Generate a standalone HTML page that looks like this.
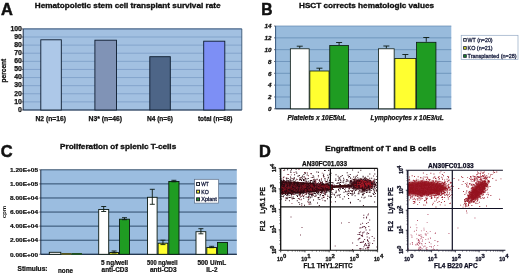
<!DOCTYPE html>
<html><head><meta charset="utf-8"><title>Figure</title>
<style>
html,body{margin:0;padding:0;background:#fff;}
body{width:520px;height:276px;overflow:hidden;font-family:"Liberation Sans",sans-serif;}
svg{display:block;transform:translateZ(0);will-change:transform;filter:blur(0.3px);}
svg text{font-family:"Liberation Sans",sans-serif;}
</style></head><body>
<svg width="520" height="276" viewBox="0 0 520 276">
<rect x="0" y="0" width="520" height="276" fill="#ffffff"/>
<text x="0.9" y="15.2" font-size="16.4" font-weight="bold" font-style="normal" text-anchor="start" fill="#111" stroke="#111" stroke-width="0.5" >A</text>
<text x="34.8" y="7.8" font-size="7.0" font-weight="bold" font-style="normal" text-anchor="start" fill="#111" stroke="#111" stroke-width="0.32" textLength="185.7" lengthAdjust="spacingAndGlyphs" >Hematopoietic stem cell transplant survival rate</text>
<rect x="23.20" y="28.90" width="218.60" height="81.10" fill="#a2c0e1" stroke="none" stroke-width="0" />
<line x1="23.20" y1="28.90" x2="241.80" y2="28.90" stroke="#7598c3" stroke-width="0.7" />
<line x1="21.70" y1="28.90" x2="23.20" y2="28.90" stroke="#223" stroke-width="0.7" />
<text x="21.9" y="30.7" font-size="6.9" font-weight="bold" font-style="normal" text-anchor="end" fill="#111" stroke="#111" stroke-width="0.25" >100</text>
<line x1="23.20" y1="37.01" x2="241.80" y2="37.01" stroke="#7598c3" stroke-width="0.7" />
<line x1="21.70" y1="37.01" x2="23.20" y2="37.01" stroke="#223" stroke-width="0.7" />
<text x="21.9" y="38.809999999999995" font-size="6.9" font-weight="bold" font-style="normal" text-anchor="end" fill="#111" stroke="#111" stroke-width="0.25" >90</text>
<line x1="23.20" y1="45.12" x2="241.80" y2="45.12" stroke="#7598c3" stroke-width="0.7" />
<line x1="21.70" y1="45.12" x2="23.20" y2="45.12" stroke="#223" stroke-width="0.7" />
<text x="21.9" y="46.919999999999995" font-size="6.9" font-weight="bold" font-style="normal" text-anchor="end" fill="#111" stroke="#111" stroke-width="0.25" >80</text>
<line x1="23.20" y1="53.23" x2="241.80" y2="53.23" stroke="#7598c3" stroke-width="0.7" />
<line x1="21.70" y1="53.23" x2="23.20" y2="53.23" stroke="#223" stroke-width="0.7" />
<text x="21.9" y="55.029999999999994" font-size="6.9" font-weight="bold" font-style="normal" text-anchor="end" fill="#111" stroke="#111" stroke-width="0.25" >70</text>
<line x1="23.20" y1="61.34" x2="241.80" y2="61.34" stroke="#7598c3" stroke-width="0.7" />
<line x1="21.70" y1="61.34" x2="23.20" y2="61.34" stroke="#223" stroke-width="0.7" />
<text x="21.9" y="63.13999999999999" font-size="6.9" font-weight="bold" font-style="normal" text-anchor="end" fill="#111" stroke="#111" stroke-width="0.25" >60</text>
<line x1="23.20" y1="69.45" x2="241.80" y2="69.45" stroke="#7598c3" stroke-width="0.7" />
<line x1="21.70" y1="69.45" x2="23.20" y2="69.45" stroke="#223" stroke-width="0.7" />
<text x="21.9" y="71.24999999999999" font-size="6.9" font-weight="bold" font-style="normal" text-anchor="end" fill="#111" stroke="#111" stroke-width="0.25" >50</text>
<line x1="23.20" y1="77.56" x2="241.80" y2="77.56" stroke="#7598c3" stroke-width="0.7" />
<line x1="21.70" y1="77.56" x2="23.20" y2="77.56" stroke="#223" stroke-width="0.7" />
<text x="21.9" y="79.36" font-size="6.9" font-weight="bold" font-style="normal" text-anchor="end" fill="#111" stroke="#111" stroke-width="0.25" >40</text>
<line x1="23.20" y1="85.67" x2="241.80" y2="85.67" stroke="#7598c3" stroke-width="0.7" />
<line x1="21.70" y1="85.67" x2="23.20" y2="85.67" stroke="#223" stroke-width="0.7" />
<text x="21.9" y="87.46999999999998" font-size="6.9" font-weight="bold" font-style="normal" text-anchor="end" fill="#111" stroke="#111" stroke-width="0.25" >30</text>
<line x1="23.20" y1="93.78" x2="241.80" y2="93.78" stroke="#7598c3" stroke-width="0.7" />
<line x1="21.70" y1="93.78" x2="23.20" y2="93.78" stroke="#223" stroke-width="0.7" />
<text x="21.9" y="95.58" font-size="6.9" font-weight="bold" font-style="normal" text-anchor="end" fill="#111" stroke="#111" stroke-width="0.25" >20</text>
<line x1="23.20" y1="101.89" x2="241.80" y2="101.89" stroke="#7598c3" stroke-width="0.7" />
<line x1="21.70" y1="101.89" x2="23.20" y2="101.89" stroke="#223" stroke-width="0.7" />
<text x="21.9" y="103.68999999999998" font-size="6.9" font-weight="bold" font-style="normal" text-anchor="end" fill="#111" stroke="#111" stroke-width="0.25" >10</text>
<line x1="23.20" y1="110.00" x2="241.80" y2="110.00" stroke="#7598c3" stroke-width="0.7" />
<line x1="21.70" y1="110.00" x2="23.20" y2="110.00" stroke="#223" stroke-width="0.7" />
<text x="21.9" y="111.8" font-size="6.9" font-weight="bold" font-style="normal" text-anchor="end" fill="#111" stroke="#111" stroke-width="0.25" >0</text>
<line x1="23.20" y1="28.90" x2="23.20" y2="110.00" stroke="#1a2c44" stroke-width="1" />
<line x1="23.20" y1="110.00" x2="241.80" y2="110.00" stroke="#1a2c44" stroke-width="1" />
<line x1="23.20" y1="28.90" x2="241.80" y2="28.90" stroke="#3a5676" stroke-width="0.9" />
<line x1="241.80" y1="28.90" x2="241.80" y2="110.00" stroke="#3a5676" stroke-width="0.9" />
<rect x="40.80" y="39.80" width="20.50" height="70.20" fill="#adc8e8" stroke="#0d1b2e" stroke-width="0.9" />
<rect x="94.90" y="40.20" width="21.60" height="69.80" fill="#8093b6" stroke="#0d1b2e" stroke-width="0.9" />
<rect x="149.80" y="56.70" width="20.50" height="53.30" fill="#4d6587" stroke="#0d1b2e" stroke-width="0.9" />
<rect x="203.70" y="41.20" width="21.10" height="68.80" fill="#7d8ff5" stroke="#0d1b2e" stroke-width="0.9" />
<text x="50.7" y="120.6" font-size="6.45" font-weight="bold" font-style="normal" text-anchor="middle" fill="#111" stroke="#111" stroke-width="0.25" textLength="30.5" lengthAdjust="spacingAndGlyphs" >N2 (n=16)</text>
<text x="105.3" y="120.8" font-size="6.45" font-weight="bold" font-style="normal" text-anchor="middle" fill="#111" stroke="#111" stroke-width="0.25" textLength="33.5" lengthAdjust="spacingAndGlyphs" >N3* (n=46)</text>
<text x="160" y="120.8" font-size="6.45" font-weight="bold" font-style="normal" text-anchor="middle" fill="#111" stroke="#111" stroke-width="0.25" textLength="26" lengthAdjust="spacingAndGlyphs" >N4 (n=6)</text>
<text x="215.2" y="120.8" font-size="6.45" font-weight="bold" font-style="normal" text-anchor="middle" fill="#111" stroke="#111" stroke-width="0.25" textLength="34.5" lengthAdjust="spacingAndGlyphs" >total (n=68)</text>
<text transform="translate(6.4,70.6) rotate(-90)" font-size="6.6" font-weight="bold" text-anchor="middle" fill="#111" stroke="#111" stroke-width="0.25">percent</text>
<text x="261.2" y="15.0" font-size="15.6" font-weight="bold" font-style="normal" text-anchor="start" fill="#111" stroke="#111" stroke-width="0.5" >B</text>
<text x="299.0" y="7.8" font-size="7.0" font-weight="bold" font-style="normal" text-anchor="start" fill="#111" stroke="#111" stroke-width="0.32" textLength="135" lengthAdjust="spacingAndGlyphs" >HSCT corrects hematologic values</text>
<rect x="275.60" y="26.00" width="175.70" height="82.80" fill="#98bbdc" stroke="none" stroke-width="0" />
<line x1="275.60" y1="26.00" x2="451.30" y2="26.00" stroke="#5f86b0" stroke-width="0.7" />
<line x1="274.10" y1="26.00" x2="275.60" y2="26.00" stroke="#223" stroke-width="0.7" />
<text x="271.40000000000003" y="28.2" font-size="6.25" font-weight="bold" font-style="italic" text-anchor="end" fill="#111" stroke="#111" stroke-width="0.3" >14</text>
<line x1="275.60" y1="37.83" x2="451.30" y2="37.83" stroke="#5f86b0" stroke-width="0.7" />
<line x1="274.10" y1="37.83" x2="275.60" y2="37.83" stroke="#223" stroke-width="0.7" />
<text x="271.40000000000003" y="40.02857142857143" font-size="6.25" font-weight="bold" font-style="italic" text-anchor="end" fill="#111" stroke="#111" stroke-width="0.3" >12</text>
<line x1="275.60" y1="49.66" x2="451.30" y2="49.66" stroke="#5f86b0" stroke-width="0.7" />
<line x1="274.10" y1="49.66" x2="275.60" y2="49.66" stroke="#223" stroke-width="0.7" />
<text x="271.40000000000003" y="51.85714285714286" font-size="6.25" font-weight="bold" font-style="italic" text-anchor="end" fill="#111" stroke="#111" stroke-width="0.3" >10</text>
<line x1="275.60" y1="61.49" x2="451.30" y2="61.49" stroke="#5f86b0" stroke-width="0.7" />
<line x1="274.10" y1="61.49" x2="275.60" y2="61.49" stroke="#223" stroke-width="0.7" />
<text x="271.40000000000003" y="63.68571428571428" font-size="6.25" font-weight="bold" font-style="italic" text-anchor="end" fill="#111" stroke="#111" stroke-width="0.3" >8</text>
<line x1="275.60" y1="73.31" x2="451.30" y2="73.31" stroke="#5f86b0" stroke-width="0.7" />
<line x1="274.10" y1="73.31" x2="275.60" y2="73.31" stroke="#223" stroke-width="0.7" />
<text x="271.40000000000003" y="75.51428571428572" font-size="6.25" font-weight="bold" font-style="italic" text-anchor="end" fill="#111" stroke="#111" stroke-width="0.3" >6</text>
<line x1="275.60" y1="85.14" x2="451.30" y2="85.14" stroke="#5f86b0" stroke-width="0.7" />
<line x1="274.10" y1="85.14" x2="275.60" y2="85.14" stroke="#223" stroke-width="0.7" />
<text x="271.40000000000003" y="87.34285714285714" font-size="6.25" font-weight="bold" font-style="italic" text-anchor="end" fill="#111" stroke="#111" stroke-width="0.3" >4</text>
<line x1="275.60" y1="96.97" x2="451.30" y2="96.97" stroke="#5f86b0" stroke-width="0.7" />
<line x1="274.10" y1="96.97" x2="275.60" y2="96.97" stroke="#223" stroke-width="0.7" />
<text x="271.40000000000003" y="99.17142857142856" font-size="6.25" font-weight="bold" font-style="italic" text-anchor="end" fill="#111" stroke="#111" stroke-width="0.3" >2</text>
<line x1="275.60" y1="108.80" x2="451.30" y2="108.80" stroke="#5f86b0" stroke-width="0.7" />
<line x1="274.10" y1="108.80" x2="275.60" y2="108.80" stroke="#223" stroke-width="0.7" />
<text x="271.40000000000003" y="111.0" font-size="6.25" font-weight="bold" font-style="italic" text-anchor="end" fill="#111" stroke="#111" stroke-width="0.3" >0</text>
<line x1="275.60" y1="26.00" x2="275.60" y2="108.80" stroke="#35557c" stroke-width="1" />
<line x1="275.60" y1="108.80" x2="451.30" y2="108.80" stroke="#1a2c44" stroke-width="1" />
<rect x="290.35" y="48.80" width="18.80" height="60.00" fill="#ffffff" stroke="#0b1a12" stroke-width="0.8" />
<line x1="299.75" y1="48.30" x2="299.75" y2="46.20" stroke="#0b1a12" stroke-width="0.9" />
<line x1="296.75" y1="46.20" x2="302.75" y2="46.20" stroke="#0b1a12" stroke-width="0.9" />
<rect x="309.85" y="71.00" width="19.20" height="37.80" fill="#ffff30" stroke="#0b1a12" stroke-width="0.8" />
<line x1="319.45" y1="70.50" x2="319.45" y2="68.20" stroke="#0b1a12" stroke-width="0.9" />
<line x1="316.45" y1="68.20" x2="322.45" y2="68.20" stroke="#0b1a12" stroke-width="0.9" />
<rect x="329.75" y="45.50" width="18.70" height="63.30" fill="#1f9c22" stroke="#0b1a12" stroke-width="0.8" />
<line x1="339.10" y1="45.00" x2="339.10" y2="42.50" stroke="#0b1a12" stroke-width="0.9" />
<line x1="336.10" y1="42.50" x2="342.10" y2="42.50" stroke="#0b1a12" stroke-width="0.9" />
<rect x="378.55" y="48.80" width="15.60" height="60.00" fill="#ffffff" stroke="#0b1a12" stroke-width="0.8" />
<line x1="386.35" y1="48.30" x2="386.35" y2="46.00" stroke="#0b1a12" stroke-width="0.9" />
<line x1="383.35" y1="46.00" x2="389.35" y2="46.00" stroke="#0b1a12" stroke-width="0.9" />
<rect x="394.85" y="58.50" width="21.00" height="50.30" fill="#ffff30" stroke="#0b1a12" stroke-width="0.8" />
<line x1="405.35" y1="58.00" x2="405.35" y2="54.50" stroke="#0b1a12" stroke-width="0.9" />
<line x1="402.35" y1="54.50" x2="408.35" y2="54.50" stroke="#0b1a12" stroke-width="0.9" />
<rect x="416.55" y="42.30" width="19.40" height="66.50" fill="#1f9c22" stroke="#0b1a12" stroke-width="0.8" />
<line x1="426.25" y1="41.80" x2="426.25" y2="37.50" stroke="#0b1a12" stroke-width="0.9" />
<line x1="423.25" y1="37.50" x2="429.25" y2="37.50" stroke="#0b1a12" stroke-width="0.9" />
<text x="287.5" y="119.8" font-size="6.45" font-weight="bold" font-style="italic" text-anchor="start" fill="#111" stroke="#111" stroke-width="0.25" textLength="58.8" lengthAdjust="spacingAndGlyphs" >Platelets x 10E5/uL</text>
<text x="370.5" y="119.8" font-size="6.45" font-weight="bold" font-style="italic" text-anchor="start" fill="#111" stroke="#111" stroke-width="0.25" textLength="73.2" lengthAdjust="spacingAndGlyphs" >Lymphocytes x 10E3/uL</text>
<rect x="461.20" y="35.30" width="56.80" height="24.20" fill="#ffffff" stroke="#93a8c4" stroke-width="0.7" />
<rect x="463.65" y="38.60" width="2.60" height="2.60" fill="#ffffff" stroke="#141c34" stroke-width="0.9" />
<text x="467.6" y="41.8" font-size="5.5" font-weight="normal" font-style="normal" text-anchor="start" fill="#1a2040" stroke="#1a2040" stroke-width="0.3" textLength="25" lengthAdjust="spacingAndGlyphs" >WT (n=20)</text>
<rect x="463.65" y="46.65" width="2.60" height="2.60" fill="#ffff30" stroke="#141c34" stroke-width="0.9" />
<text x="467.6" y="49.85" font-size="5.5" font-weight="normal" font-style="normal" text-anchor="start" fill="#1a2040" stroke="#1a2040" stroke-width="0.3" textLength="25" lengthAdjust="spacingAndGlyphs" >KO (n=21)</text>
<rect x="463.65" y="54.70" width="2.60" height="2.60" fill="#1f9c22" stroke="#141c34" stroke-width="0.9" />
<text x="467.6" y="57.9" font-size="5.5" font-weight="normal" font-style="normal" text-anchor="start" fill="#1a2040" stroke="#1a2040" stroke-width="0.3" textLength="49" lengthAdjust="spacingAndGlyphs" >Transplanted (n=28)</text>
<text x="0.7" y="157.0" font-size="16.4" font-weight="bold" font-style="normal" text-anchor="start" fill="#111" stroke="#111" stroke-width="0.5" >C</text>
<text x="60" y="149.0" font-size="7.0" font-weight="bold" font-style="normal" text-anchor="start" fill="#111" stroke="#111" stroke-width="0.32" textLength="116.2" lengthAdjust="spacingAndGlyphs" >Proliferation of splenic T-cells</text>
<rect x="40.80" y="169.80" width="196.00" height="84.50" fill="#9bbde0" stroke="none" stroke-width="0" />
<line x1="40.80" y1="169.80" x2="236.80" y2="169.80" stroke="#23405f" stroke-width="0.9" />
<line x1="39.30" y1="169.80" x2="40.80" y2="169.80" stroke="#223" stroke-width="0.7" />
<text x="38.0" y="172.0" font-size="6.2" font-weight="bold" font-style="normal" text-anchor="end" fill="#111" stroke="#111" stroke-width="0.22" textLength="28" lengthAdjust="spacingAndGlyphs" >1.20E+05</text>
<line x1="40.80" y1="183.88" x2="236.80" y2="183.88" stroke="#23405f" stroke-width="0.9" />
<line x1="39.30" y1="183.88" x2="40.80" y2="183.88" stroke="#223" stroke-width="0.7" />
<text x="38.0" y="186.08333333333334" font-size="6.2" font-weight="bold" font-style="normal" text-anchor="end" fill="#111" stroke="#111" stroke-width="0.22" textLength="28" lengthAdjust="spacingAndGlyphs" >1.00E+05</text>
<line x1="40.80" y1="197.97" x2="236.80" y2="197.97" stroke="#23405f" stroke-width="0.9" />
<line x1="39.30" y1="197.97" x2="40.80" y2="197.97" stroke="#223" stroke-width="0.7" />
<text x="38.0" y="200.16666666666666" font-size="6.2" font-weight="bold" font-style="normal" text-anchor="end" fill="#111" stroke="#111" stroke-width="0.22" textLength="28" lengthAdjust="spacingAndGlyphs" >8.00E+04</text>
<line x1="40.80" y1="212.05" x2="236.80" y2="212.05" stroke="#23405f" stroke-width="0.9" />
<line x1="39.30" y1="212.05" x2="40.80" y2="212.05" stroke="#223" stroke-width="0.7" />
<text x="38.0" y="214.25" font-size="6.2" font-weight="bold" font-style="normal" text-anchor="end" fill="#111" stroke="#111" stroke-width="0.22" textLength="28" lengthAdjust="spacingAndGlyphs" >6.00E+04</text>
<line x1="40.80" y1="226.13" x2="236.80" y2="226.13" stroke="#23405f" stroke-width="0.9" />
<line x1="39.30" y1="226.13" x2="40.80" y2="226.13" stroke="#223" stroke-width="0.7" />
<text x="38.0" y="228.33333333333334" font-size="6.2" font-weight="bold" font-style="normal" text-anchor="end" fill="#111" stroke="#111" stroke-width="0.22" textLength="28" lengthAdjust="spacingAndGlyphs" >4.00E+04</text>
<line x1="40.80" y1="240.22" x2="236.80" y2="240.22" stroke="#23405f" stroke-width="0.9" />
<line x1="39.30" y1="240.22" x2="40.80" y2="240.22" stroke="#223" stroke-width="0.7" />
<text x="38.0" y="242.41666666666669" font-size="6.2" font-weight="bold" font-style="normal" text-anchor="end" fill="#111" stroke="#111" stroke-width="0.22" textLength="28" lengthAdjust="spacingAndGlyphs" >2.00E+04</text>
<line x1="40.80" y1="254.30" x2="236.80" y2="254.30" stroke="#23405f" stroke-width="0.9" />
<line x1="39.30" y1="254.30" x2="40.80" y2="254.30" stroke="#223" stroke-width="0.7" />
<text x="38.0" y="256.5" font-size="6.2" font-weight="bold" font-style="normal" text-anchor="end" fill="#111" stroke="#111" stroke-width="0.22" textLength="28" lengthAdjust="spacingAndGlyphs" >0.00E+00</text>
<line x1="40.80" y1="169.80" x2="40.80" y2="254.30" stroke="#1a2c44" stroke-width="1" />
<line x1="40.80" y1="254.30" x2="236.80" y2="254.30" stroke="#1a2c44" stroke-width="1" />
<rect x="49.30" y="252.30" width="11.50" height="2.00" fill="#ffffff" stroke="#0b1a12" stroke-width="0.9" />
<rect x="61.80" y="253.50" width="9.30" height="0.80" fill="#c8c840" stroke="#555520" stroke-width="0.9" />
<rect x="72.10" y="253.50" width="9.40" height="0.80" fill="#1f9c22" stroke="#205020" stroke-width="0.9" />
<rect x="98.70" y="209.50" width="10.00" height="44.80" fill="#ffffff" stroke="#0b1a12" stroke-width="0.9" />
<line x1="103.70" y1="206.50" x2="103.70" y2="211.50" stroke="#0b1a12" stroke-width="0.9" />
<line x1="101.20" y1="206.50" x2="106.20" y2="206.50" stroke="#0b1a12" stroke-width="0.9" />
<line x1="101.20" y1="211.50" x2="106.20" y2="211.50" stroke="#0b1a12" stroke-width="0.9" />
<rect x="109.70" y="252.50" width="8.80" height="1.80" fill="#ffff30" stroke="#0b1a12" stroke-width="0.9" />
<line x1="114.10" y1="251.00" x2="114.10" y2="253.00" stroke="#0b1a12" stroke-width="0.9" />
<line x1="111.60" y1="251.00" x2="116.60" y2="251.00" stroke="#0b1a12" stroke-width="0.9" />
<line x1="111.60" y1="253.00" x2="116.60" y2="253.00" stroke="#0b1a12" stroke-width="0.9" />
<rect x="119.50" y="219.20" width="10.00" height="35.10" fill="#1f9c22" stroke="#0b1a12" stroke-width="0.9" />
<line x1="124.50" y1="217.70" x2="124.50" y2="219.70" stroke="#0b1a12" stroke-width="0.9" />
<line x1="122.00" y1="217.70" x2="127.00" y2="217.70" stroke="#0b1a12" stroke-width="0.9" />
<line x1="122.00" y1="219.70" x2="127.00" y2="219.70" stroke="#0b1a12" stroke-width="0.9" />
<rect x="147.50" y="197.30" width="9.60" height="57.00" fill="#ffffff" stroke="#0b1a12" stroke-width="0.9" />
<line x1="152.30" y1="189.30" x2="152.30" y2="204.30" stroke="#0b1a12" stroke-width="0.9" />
<line x1="149.80" y1="189.30" x2="154.80" y2="189.30" stroke="#0b1a12" stroke-width="0.9" />
<line x1="149.80" y1="204.30" x2="154.80" y2="204.30" stroke="#0b1a12" stroke-width="0.9" />
<rect x="158.10" y="243.20" width="9.70" height="11.10" fill="#ffff30" stroke="#0b1a12" stroke-width="0.9" />
<line x1="162.95" y1="240.20" x2="162.95" y2="244.60" stroke="#0b1a12" stroke-width="0.9" />
<line x1="160.45" y1="240.20" x2="165.45" y2="240.20" stroke="#0b1a12" stroke-width="0.9" />
<line x1="160.45" y1="244.60" x2="165.45" y2="244.60" stroke="#0b1a12" stroke-width="0.9" />
<rect x="168.80" y="181.50" width="10.20" height="72.80" fill="#1f9c22" stroke="#0b1a12" stroke-width="0.9" />
<line x1="173.90" y1="180.30" x2="173.90" y2="181.80" stroke="#0b1a12" stroke-width="0.9" />
<line x1="171.40" y1="180.30" x2="176.40" y2="180.30" stroke="#0b1a12" stroke-width="0.9" />
<line x1="171.40" y1="181.80" x2="176.40" y2="181.80" stroke="#0b1a12" stroke-width="0.9" />
<rect x="196.00" y="231.70" width="9.80" height="22.60" fill="#ffffff" stroke="#0b1a12" stroke-width="0.9" />
<line x1="200.90" y1="228.70" x2="200.90" y2="233.80" stroke="#0b1a12" stroke-width="0.9" />
<line x1="198.40" y1="228.70" x2="203.40" y2="228.70" stroke="#0b1a12" stroke-width="0.9" />
<line x1="198.40" y1="233.80" x2="203.40" y2="233.80" stroke="#0b1a12" stroke-width="0.9" />
<rect x="206.80" y="247.50" width="9.70" height="6.80" fill="#ffff30" stroke="#0b1a12" stroke-width="0.9" />
<line x1="211.65" y1="246.30" x2="211.65" y2="247.70" stroke="#0b1a12" stroke-width="0.9" />
<line x1="209.15" y1="246.30" x2="214.15" y2="246.30" stroke="#0b1a12" stroke-width="0.9" />
<line x1="209.15" y1="247.70" x2="214.15" y2="247.70" stroke="#0b1a12" stroke-width="0.9" />
<rect x="217.50" y="242.50" width="10.00" height="11.80" fill="#1f9c22" stroke="#0b1a12" stroke-width="0.9" />
<text x="17.5" y="270.9" font-size="6.45" font-weight="bold" font-style="normal" text-anchor="start" fill="#111" stroke="#111" stroke-width="0.22" textLength="30" lengthAdjust="spacingAndGlyphs" >Stimulus:</text>
<text x="65.5" y="273.0" font-size="6.45" font-weight="bold" font-style="normal" text-anchor="middle" fill="#111" stroke="#111" stroke-width="0.22" textLength="15" lengthAdjust="spacingAndGlyphs" >none</text>
<text x="114.5" y="265.3" font-size="6.45" font-weight="bold" font-style="normal" text-anchor="middle" fill="#111" stroke="#111" stroke-width="0.22" textLength="27" lengthAdjust="spacingAndGlyphs" >5 ng/well</text>
<text x="114.8" y="272.3" font-size="6.45" font-weight="bold" font-style="normal" text-anchor="middle" fill="#111" stroke="#111" stroke-width="0.22" textLength="26.5" lengthAdjust="spacingAndGlyphs" >anti-CD3</text>
<text x="162.3" y="265.3" font-size="6.45" font-weight="bold" font-style="normal" text-anchor="middle" fill="#111" stroke="#111" stroke-width="0.22" textLength="30.5" lengthAdjust="spacingAndGlyphs" >500 ng/well</text>
<text x="163.3" y="272.3" font-size="6.45" font-weight="bold" font-style="normal" text-anchor="middle" fill="#111" stroke="#111" stroke-width="0.22" textLength="26.7" lengthAdjust="spacingAndGlyphs" >anti-CD3</text>
<text x="211.8" y="265.3" font-size="6.45" font-weight="bold" font-style="normal" text-anchor="middle" fill="#111" stroke="#111" stroke-width="0.22" textLength="28.8" lengthAdjust="spacingAndGlyphs" >500 U/mL</text>
<text x="211.8" y="272.3" font-size="6.45" font-weight="bold" font-style="normal" text-anchor="middle" fill="#111" stroke="#111" stroke-width="0.22" textLength="11.3" lengthAdjust="spacingAndGlyphs" >IL-2</text>
<text transform="translate(6.3,212) rotate(-90)" font-size="6.2" font-weight="bold" text-anchor="middle" fill="#111">cpm</text>
<rect x="194.60" y="179.30" width="24.00" height="23.80" fill="#ffffff" stroke="#5a6e88" stroke-width="0.7" />
<rect x="196.60" y="182.55" width="2.90" height="2.90" fill="#ffffff" stroke="#1c2230" stroke-width="1.0" />
<text x="201.2" y="185.9" font-size="5.5" font-weight="normal" font-style="normal" text-anchor="start" fill="#1a2040" stroke="#1a2040" stroke-width="0.3" textLength="7.5" lengthAdjust="spacingAndGlyphs" >WT</text>
<rect x="196.60" y="190.20" width="2.90" height="2.90" fill="#ffff30" stroke="#1c2230" stroke-width="1.0" />
<text x="201.2" y="193.55" font-size="5.5" font-weight="normal" font-style="normal" text-anchor="start" fill="#1a2040" stroke="#1a2040" stroke-width="0.3" textLength="7.5" lengthAdjust="spacingAndGlyphs" >KO</text>
<rect x="196.60" y="197.85" width="2.90" height="2.90" fill="#1f9c22" stroke="#1c2230" stroke-width="1.0" />
<text x="201.2" y="201.20000000000002" font-size="5.5" font-weight="normal" font-style="normal" text-anchor="start" fill="#1a2040" stroke="#1a2040" stroke-width="0.3" textLength="15.7" lengthAdjust="spacingAndGlyphs" >Xplant</text>
<text x="258.9" y="157.2" font-size="16.4" font-weight="bold" font-style="normal" text-anchor="start" fill="#111" stroke="#111" stroke-width="0.5" >D</text>
<text x="325.3" y="150.7" font-size="7.0" font-weight="bold" font-style="normal" text-anchor="start" fill="#111" stroke="#111" stroke-width="0.32" textLength="110.9" lengthAdjust="spacingAndGlyphs" >Engraftment of T and B cells</text>
<defs><filter id="bl0" x="-20%" y="-50%" width="140%" height="200%"><feGaussianBlur stdDeviation="0.6"/></filter><filter id="bl1" x="-20%" y="-50%" width="140%" height="200%"><feGaussianBlur stdDeviation="0.9"/></filter><filter id="bl2" x="-20%" y="-50%" width="140%" height="200%"><feGaussianBlur stdDeviation="1.4"/></filter></defs>
<clipPath id="c1"><rect x="280.7" y="168.4" width="96.90000000000003" height="81.9"/></clipPath><g clip-path="url(#c1)">
<path d="M278 181.0 L296 181.8 L316 183.2 L333 184.6 L333 189.8 L316 192.0 L296 193.6 L278 194.4 Z" fill="#3a0810" filter="url(#bl0)"/>
<path d="M278 183.4 L316 185.0 L332 185.9 L332 188.6 L316 190.0 L278 191.6 Z" fill="#6e101b" filter="url(#bl1)"/>
<path d="M330 185.6 L352 184.6 L352 187.6 L330 188.0 Z" fill="#3e0911" filter="url(#bl0)"/>
<ellipse cx="362" cy="184.4" rx="11.5" ry="5.0" fill="#420a12" filter="url(#bl1)"/>
<ellipse cx="363" cy="184.0" rx="9.5" ry="3.6" fill="#9a1622" filter="url(#bl1)"/>
<path d="M297.0 190.4h0.9v0.9h-0.9zM284.3 192.4h0.9v0.9h-0.9zM307.7 186.5h0.9v0.9h-0.9zM306.2 188.1h0.9v0.9h-0.9zM282.6 186.3h0.9v0.9h-0.9zM285.3 188.2h0.9v0.9h-0.9zM302.1 188.2h0.9v0.9h-0.9zM291.9 185.8h0.9v0.9h-0.9zM312.3 190.9h0.9v0.9h-0.9zM300.7 185.9h0.9v0.9h-0.9zM329.8 191.4h0.9v0.9h-0.9zM295.3 189.5h0.9v0.9h-0.9zM288.0 190.0h0.9v0.9h-0.9zM321.8 188.6h0.9v0.9h-0.9zM289.8 182.8h0.9v0.9h-0.9zM299.4 185.0h0.9v0.9h-0.9zM308.3 188.3h0.9v0.9h-0.9zM291.1 188.0h0.9v0.9h-0.9zM314.9 184.9h0.9v0.9h-0.9zM310.2 188.4h0.9v0.9h-0.9zM303.5 185.5h0.9v0.9h-0.9zM315.9 192.0h0.9v0.9h-0.9zM293.0 183.5h0.9v0.9h-0.9zM324.7 185.6h0.9v0.9h-0.9zM317.4 185.3h0.9v0.9h-0.9zM286.6 198.3h0.9v0.9h-0.9zM301.7 187.5h0.9v0.9h-0.9zM305.3 185.4h0.9v0.9h-0.9zM282.7 184.3h0.9v0.9h-0.9zM309.5 182.7h0.9v0.9h-0.9zM324.7 185.5h0.9v0.9h-0.9zM310.6 191.5h0.9v0.9h-0.9zM309.9 181.6h0.9v0.9h-0.9zM328.2 188.2h0.9v0.9h-0.9zM304.5 186.7h0.9v0.9h-0.9zM316.0 186.3h0.9v0.9h-0.9zM313.3 192.7h0.9v0.9h-0.9zM295.0 187.2h0.9v0.9h-0.9zM300.1 187.0h0.9v0.9h-0.9zM303.9 186.7h0.9v0.9h-0.9zM289.2 188.6h0.9v0.9h-0.9zM319.3 187.7h0.9v0.9h-0.9zM287.2 187.7h0.9v0.9h-0.9zM324.5 189.5h0.9v0.9h-0.9zM284.8 182.8h0.9v0.9h-0.9zM325.1 188.0h0.9v0.9h-0.9zM321.9 188.4h0.9v0.9h-0.9zM301.6 185.3h0.9v0.9h-0.9zM298.7 193.9h0.9v0.9h-0.9zM288.3 181.1h0.9v0.9h-0.9zM289.6 187.9h0.9v0.9h-0.9zM305.1 189.7h0.9v0.9h-0.9zM310.3 187.2h0.9v0.9h-0.9zM301.8 187.7h0.9v0.9h-0.9zM299.3 179.6h0.9v0.9h-0.9zM315.4 184.3h0.9v0.9h-0.9zM306.6 183.7h0.9v0.9h-0.9zM283.4 183.6h0.9v0.9h-0.9zM325.9 187.9h0.9v0.9h-0.9zM320.8 181.7h0.9v0.9h-0.9zM300.4 186.1h0.9v0.9h-0.9zM312.6 188.0h0.9v0.9h-0.9zM283.8 190.2h0.9v0.9h-0.9zM288.9 188.6h0.9v0.9h-0.9zM297.8 187.5h0.9v0.9h-0.9zM288.3 187.6h0.9v0.9h-0.9zM285.8 187.0h0.9v0.9h-0.9zM324.7 187.4h0.9v0.9h-0.9zM311.6 188.6h0.9v0.9h-0.9zM298.2 189.6h0.9v0.9h-0.9zM299.0 192.2h0.9v0.9h-0.9zM330.7 190.0h0.9v0.9h-0.9zM304.1 185.9h0.9v0.9h-0.9zM285.8 187.8h0.9v0.9h-0.9zM297.9 186.8h0.9v0.9h-0.9zM288.8 194.8h0.9v0.9h-0.9zM281.9 192.5h0.9v0.9h-0.9zM288.1 186.1h0.9v0.9h-0.9zM308.0 191.1h0.9v0.9h-0.9zM329.9 187.4h0.9v0.9h-0.9zM324.1 186.3h0.9v0.9h-0.9zM299.1 184.9h0.9v0.9h-0.9zM289.1 188.2h0.9v0.9h-0.9zM319.9 183.8h0.9v0.9h-0.9zM297.3 188.5h0.9v0.9h-0.9zM330.2 191.1h0.9v0.9h-0.9zM323.6 188.7h0.9v0.9h-0.9zM317.9 182.3h0.9v0.9h-0.9zM292.1 184.0h0.9v0.9h-0.9zM282.2 187.3h0.9v0.9h-0.9zM282.1 187.1h0.9v0.9h-0.9zM315.5 189.3h0.9v0.9h-0.9zM328.8 181.6h0.9v0.9h-0.9zM330.4 188.7h0.9v0.9h-0.9zM328.7 185.8h0.9v0.9h-0.9zM292.1 189.5h0.9v0.9h-0.9zM290.6 189.0h0.9v0.9h-0.9zM326.0 190.3h0.9v0.9h-0.9zM323.0 183.3h0.9v0.9h-0.9zM320.9 187.6h0.9v0.9h-0.9zM285.0 183.0h0.9v0.9h-0.9zM320.0 182.1h0.9v0.9h-0.9zM318.4 185.4h0.9v0.9h-0.9zM320.4 187.3h0.9v0.9h-0.9zM297.4 190.4h0.9v0.9h-0.9zM300.6 178.7h0.9v0.9h-0.9zM300.9 192.5h0.9v0.9h-0.9zM289.3 185.5h0.9v0.9h-0.9zM287.1 192.5h0.9v0.9h-0.9zM321.3 191.7h0.9v0.9h-0.9zM288.1 192.6h0.9v0.9h-0.9zM313.8 179.9h0.9v0.9h-0.9zM298.3 185.7h0.9v0.9h-0.9zM281.4 187.0h0.9v0.9h-0.9zM329.5 185.2h0.9v0.9h-0.9zM327.7 184.6h0.9v0.9h-0.9zM302.5 191.7h0.9v0.9h-0.9zM291.3 182.5h0.9v0.9h-0.9zM293.4 186.8h0.9v0.9h-0.9zM310.2 189.4h0.9v0.9h-0.9zM293.7 185.8h0.9v0.9h-0.9zM326.5 187.6h0.9v0.9h-0.9zM298.5 183.0h0.9v0.9h-0.9zM326.2 187.8h0.9v0.9h-0.9zM301.9 190.8h0.9v0.9h-0.9zM307.5 185.4h0.9v0.9h-0.9zM307.0 190.7h0.9v0.9h-0.9zM289.9 188.0h0.9v0.9h-0.9zM280.9 188.5h0.9v0.9h-0.9zM304.5 185.4h0.9v0.9h-0.9zM317.2 184.8h0.9v0.9h-0.9zM306.8 186.3h0.9v0.9h-0.9zM308.6 187.6h0.9v0.9h-0.9zM308.9 185.8h0.9v0.9h-0.9zM293.2 186.4h0.9v0.9h-0.9zM306.2 192.7h0.9v0.9h-0.9zM309.0 187.7h0.9v0.9h-0.9zM303.0 180.0h0.9v0.9h-0.9zM311.5 183.6h0.9v0.9h-0.9zM315.5 187.0h0.9v0.9h-0.9zM303.5 183.6h0.9v0.9h-0.9zM328.1 186.4h0.9v0.9h-0.9zM315.9 192.0h0.9v0.9h-0.9zM293.8 181.4h0.9v0.9h-0.9zM308.8 192.8h0.9v0.9h-0.9zM287.6 185.0h0.9v0.9h-0.9zM286.8 186.2h0.9v0.9h-0.9zM292.8 188.0h0.9v0.9h-0.9zM284.4 184.2h0.9v0.9h-0.9zM325.8 183.2h0.9v0.9h-0.9zM288.5 186.4h0.9v0.9h-0.9zM287.9 182.0h0.9v0.9h-0.9zM325.1 188.7h0.9v0.9h-0.9zM328.6 186.6h0.9v0.9h-0.9zM300.7 177.1h0.9v0.9h-0.9zM322.6 187.7h0.9v0.9h-0.9zM288.8 183.4h0.9v0.9h-0.9zM297.8 189.2h0.9v0.9h-0.9zM290.5 185.0h0.9v0.9h-0.9zM281.7 193.7h0.9v0.9h-0.9zM308.6 186.7h0.9v0.9h-0.9zM297.4 187.7h0.9v0.9h-0.9zM312.1 186.1h0.9v0.9h-0.9zM330.2 186.8h0.9v0.9h-0.9zM320.4 188.3h0.9v0.9h-0.9zM294.1 187.2h0.9v0.9h-0.9zM282.7 188.3h0.9v0.9h-0.9zM287.2 184.5h0.9v0.9h-0.9zM301.9 192.6h0.9v0.9h-0.9zM293.7 183.9h0.9v0.9h-0.9zM288.2 192.0h0.9v0.9h-0.9zM315.9 185.3h0.9v0.9h-0.9zM285.2 193.3h0.9v0.9h-0.9zM302.1 189.2h0.9v0.9h-0.9zM284.3 192.9h0.9v0.9h-0.9zM321.0 185.6h0.9v0.9h-0.9zM284.9 188.5h0.9v0.9h-0.9zM324.1 186.3h0.9v0.9h-0.9zM303.5 185.1h0.9v0.9h-0.9zM327.3 189.6h0.9v0.9h-0.9zM294.2 190.6h0.9v0.9h-0.9zM292.7 190.8h0.9v0.9h-0.9zM286.2 188.3h0.9v0.9h-0.9zM290.8 188.6h0.9v0.9h-0.9zM296.4 185.4h0.9v0.9h-0.9zM295.3 193.2h0.9v0.9h-0.9zM305.9 188.6h0.9v0.9h-0.9zM281.6 191.1h0.9v0.9h-0.9zM293.3 193.5h0.9v0.9h-0.9zM308.4 187.7h0.9v0.9h-0.9zM290.2 178.8h0.9v0.9h-0.9zM286.0 189.1h0.9v0.9h-0.9zM321.9 184.2h0.9v0.9h-0.9zM322.7 188.3h0.9v0.9h-0.9zM300.5 182.2h0.9v0.9h-0.9zM330.1 186.8h0.9v0.9h-0.9zM297.9 190.1h0.9v0.9h-0.9zM312.7 183.1h0.9v0.9h-0.9zM301.1 186.7h0.9v0.9h-0.9zM287.2 188.7h0.9v0.9h-0.9zM284.3 187.5h0.9v0.9h-0.9zM288.9 184.6h0.9v0.9h-0.9zM284.9 192.0h0.9v0.9h-0.9zM314.4 182.2h0.9v0.9h-0.9zM294.9 187.6h0.9v0.9h-0.9zM303.8 190.1h0.9v0.9h-0.9zM288.6 184.7h0.9v0.9h-0.9zM329.1 187.5h0.9v0.9h-0.9zM329.6 185.2h0.9v0.9h-0.9zM329.3 186.4h0.9v0.9h-0.9zM296.3 187.3h0.9v0.9h-0.9zM299.9 187.5h0.9v0.9h-0.9zM304.6 185.1h0.9v0.9h-0.9zM306.1 187.3h0.9v0.9h-0.9zM280.9 187.5h0.9v0.9h-0.9zM300.8 188.8h0.9v0.9h-0.9zM282.8 191.1h0.9v0.9h-0.9zM292.4 188.0h0.9v0.9h-0.9zM310.2 182.2h0.9v0.9h-0.9zM313.8 186.3h0.9v0.9h-0.9zM316.7 189.2h0.9v0.9h-0.9zM297.1 185.0h0.9v0.9h-0.9zM330.2 189.1h0.9v0.9h-0.9zM313.1 191.0h0.9v0.9h-0.9zM282.9 192.0h0.9v0.9h-0.9zM312.3 181.8h0.9v0.9h-0.9zM317.6 187.7h0.9v0.9h-0.9zM307.0 185.7h0.9v0.9h-0.9zM306.1 190.2h0.9v0.9h-0.9zM322.3 183.0h0.9v0.9h-0.9zM310.1 190.9h0.9v0.9h-0.9zM315.6 184.4h0.9v0.9h-0.9zM292.3 189.5h0.9v0.9h-0.9zM298.8 187.8h0.9v0.9h-0.9zM286.0 190.2h0.9v0.9h-0.9zM312.3 183.9h0.9v0.9h-0.9zM312.2 185.7h0.9v0.9h-0.9zM280.9 183.4h0.9v0.9h-0.9zM320.8 187.0h0.9v0.9h-0.9zM307.6 183.5h0.9v0.9h-0.9zM313.9 191.5h0.9v0.9h-0.9zM293.4 189.9h0.9v0.9h-0.9zM284.4 187.0h0.9v0.9h-0.9zM291.0 193.6h0.9v0.9h-0.9zM317.9 190.3h0.9v0.9h-0.9zM299.9 186.8h0.9v0.9h-0.9zM304.8 185.1h0.9v0.9h-0.9zM311.7 182.5h0.9v0.9h-0.9zM313.0 188.7h0.9v0.9h-0.9zM293.5 188.5h0.9v0.9h-0.9zM318.1 185.9h0.9v0.9h-0.9zM281.3 192.7h0.9v0.9h-0.9zM283.8 186.9h0.9v0.9h-0.9zM315.5 191.4h0.9v0.9h-0.9zM314.7 186.3h0.9v0.9h-0.9zM304.1 191.2h0.9v0.9h-0.9zM304.2 192.4h0.9v0.9h-0.9zM290.7 193.0h0.9v0.9h-0.9zM329.9 187.3h0.9v0.9h-0.9zM303.8 187.1h0.9v0.9h-0.9zM321.9 189.9h0.9v0.9h-0.9zM294.2 186.7h0.9v0.9h-0.9zM291.3 190.0h0.9v0.9h-0.9zM309.9 186.5h0.9v0.9h-0.9zM287.8 178.1h0.9v0.9h-0.9zM287.4 186.1h0.9v0.9h-0.9zM322.0 181.6h0.9v0.9h-0.9zM316.1 186.8h0.9v0.9h-0.9zM292.3 190.9h0.9v0.9h-0.9zM281.9 184.8h0.9v0.9h-0.9zM280.9 183.2h0.9v0.9h-0.9zM295.9 187.7h0.9v0.9h-0.9zM287.8 185.7h0.9v0.9h-0.9zM323.0 188.9h0.9v0.9h-0.9zM280.8 187.7h0.9v0.9h-0.9zM286.7 180.1h0.9v0.9h-0.9zM327.3 185.7h0.9v0.9h-0.9zM295.3 179.9h0.9v0.9h-0.9zM299.4 177.5h0.9v0.9h-0.9zM310.3 194.2h0.9v0.9h-0.9zM298.8 184.9h0.9v0.9h-0.9zM283.1 189.1h0.9v0.9h-0.9zM285.8 189.3h0.9v0.9h-0.9zM327.8 185.2h0.9v0.9h-0.9zM293.2 187.1h0.9v0.9h-0.9zM290.2 192.1h0.9v0.9h-0.9zM299.5 194.3h0.9v0.9h-0.9zM321.5 185.6h0.9v0.9h-0.9zM312.4 193.3h0.9v0.9h-0.9zM308.3 183.4h0.9v0.9h-0.9zM316.9 191.5h0.9v0.9h-0.9zM303.4 189.0h0.9v0.9h-0.9zM318.6 185.7h0.9v0.9h-0.9zM283.2 185.0h0.9v0.9h-0.9zM327.3 188.9h0.9v0.9h-0.9zM298.0 190.3h0.9v0.9h-0.9zM295.7 186.8h0.9v0.9h-0.9zM293.8 177.5h0.9v0.9h-0.9zM313.7 186.0h0.9v0.9h-0.9zM300.5 191.5h0.9v0.9h-0.9zM289.1 188.9h0.9v0.9h-0.9zM326.3 188.4h0.9v0.9h-0.9zM305.7 188.6h0.9v0.9h-0.9zM330.8 191.8h0.9v0.9h-0.9zM303.3 188.7h0.9v0.9h-0.9zM285.3 189.6h0.9v0.9h-0.9zM297.9 189.6h0.9v0.9h-0.9zM293.7 189.0h0.9v0.9h-0.9zM309.4 191.1h0.9v0.9h-0.9zM301.5 183.7h0.9v0.9h-0.9zM301.5 184.1h0.9v0.9h-0.9zM297.7 186.9h0.9v0.9h-0.9zM283.8 185.8h0.9v0.9h-0.9zM287.0 197.7h0.9v0.9h-0.9zM306.0 182.9h0.9v0.9h-0.9zM291.6 182.1h0.9v0.9h-0.9zM294.3 187.5h0.9v0.9h-0.9zM303.1 190.7h0.9v0.9h-0.9zM328.7 189.7h0.9v0.9h-0.9zM281.8 180.9h0.9v0.9h-0.9zM282.3 185.5h0.9v0.9h-0.9zM304.5 180.6h0.9v0.9h-0.9zM310.2 190.3h0.9v0.9h-0.9zM327.3 187.0h0.9v0.9h-0.9zM322.2 191.4h0.9v0.9h-0.9zM293.2 179.7h0.9v0.9h-0.9zM286.2 190.3h0.9v0.9h-0.9zM315.0 190.0h0.9v0.9h-0.9zM328.1 186.3h0.9v0.9h-0.9zM319.2 183.2h0.9v0.9h-0.9zM303.7 186.4h0.9v0.9h-0.9zM320.0 186.8h0.9v0.9h-0.9zM292.4 192.2h0.9v0.9h-0.9zM296.0 185.0h0.9v0.9h-0.9zM287.1 187.5h0.9v0.9h-0.9zM315.8 191.2h0.9v0.9h-0.9zM286.3 191.9h0.9v0.9h-0.9zM310.0 188.8h0.9v0.9h-0.9zM300.2 188.2h0.9v0.9h-0.9zM281.2 193.2h0.9v0.9h-0.9zM295.9 178.7h0.9v0.9h-0.9zM313.1 189.0h0.9v0.9h-0.9zM325.2 185.2h0.9v0.9h-0.9zM293.1 187.9h0.9v0.9h-0.9zM329.0 186.4h0.9v0.9h-0.9zM281.8 184.3h0.9v0.9h-0.9zM305.8 185.8h0.9v0.9h-0.9zM293.6 184.1h0.9v0.9h-0.9zM314.3 189.0h0.9v0.9h-0.9zM282.4 186.3h0.9v0.9h-0.9zM297.7 182.7h0.9v0.9h-0.9zM290.7 190.3h0.9v0.9h-0.9zM320.8 186.8h0.9v0.9h-0.9zM291.0 183.1h0.9v0.9h-0.9zM329.5 185.3h0.9v0.9h-0.9zM292.3 193.9h0.9v0.9h-0.9zM291.8 187.7h0.9v0.9h-0.9zM328.6 184.9h0.9v0.9h-0.9zM305.6 188.2h0.9v0.9h-0.9zM301.7 189.6h0.9v0.9h-0.9zM314.2 188.7h0.9v0.9h-0.9zM300.5 186.8h0.9v0.9h-0.9zM291.4 189.6h0.9v0.9h-0.9zM283.3 187.3h0.9v0.9h-0.9zM283.7 180.9h0.9v0.9h-0.9zM325.1 190.3h0.9v0.9h-0.9zM317.6 193.6h0.9v0.9h-0.9zM297.3 187.3h0.9v0.9h-0.9zM290.0 193.3h0.9v0.9h-0.9zM282.3 185.0h0.9v0.9h-0.9zM314.1 185.1h0.9v0.9h-0.9zM297.4 189.8h0.9v0.9h-0.9zM289.2 190.7h0.9v0.9h-0.9zM298.4 187.5h0.9v0.9h-0.9zM328.8 191.3h0.9v0.9h-0.9zM291.1 194.3h0.9v0.9h-0.9zM298.6 190.2h0.9v0.9h-0.9zM302.5 181.8h0.9v0.9h-0.9zM283.2 183.8h0.9v0.9h-0.9zM327.0 187.4h0.9v0.9h-0.9zM290.4 182.2h0.9v0.9h-0.9zM282.2 194.2h0.9v0.9h-0.9zM301.4 189.6h0.9v0.9h-0.9zM282.7 181.2h0.9v0.9h-0.9zM282.5 196.1h0.9v0.9h-0.9zM293.6 190.7h0.9v0.9h-0.9zM318.3 189.1h0.9v0.9h-0.9zM294.4 185.5h0.9v0.9h-0.9zM328.9 185.6h0.9v0.9h-0.9zM316.7 185.6h0.9v0.9h-0.9zM296.6 187.4h0.9v0.9h-0.9zM318.7 187.3h0.9v0.9h-0.9zM326.8 183.0h0.9v0.9h-0.9zM281.9 180.4h0.9v0.9h-0.9zM292.5 178.3h0.9v0.9h-0.9zM328.7 187.9h0.9v0.9h-0.9zM300.1 187.4h0.9v0.9h-0.9zM305.5 190.7h0.9v0.9h-0.9zM327.4 188.7h0.9v0.9h-0.9zM317.8 191.7h0.9v0.9h-0.9zM322.1 187.6h0.9v0.9h-0.9zM297.2 182.7h0.9v0.9h-0.9zM296.8 183.4h0.9v0.9h-0.9zM284.7 193.0h0.9v0.9h-0.9zM290.6 187.6h0.9v0.9h-0.9zM284.0 184.6h0.9v0.9h-0.9zM282.4 184.2h0.9v0.9h-0.9zM330.0 186.2h0.9v0.9h-0.9zM325.1 189.0h0.9v0.9h-0.9zM284.9 187.4h0.9v0.9h-0.9zM285.6 181.4h0.9v0.9h-0.9zM303.2 187.4h0.9v0.9h-0.9zM292.5 183.0h0.9v0.9h-0.9zM314.6 189.2h0.9v0.9h-0.9zM318.3 189.4h0.9v0.9h-0.9zM286.8 182.9h0.9v0.9h-0.9zM323.0 186.1h0.9v0.9h-0.9zM299.5 191.7h0.9v0.9h-0.9zM317.8 187.8h0.9v0.9h-0.9zM293.0 190.1h0.9v0.9h-0.9zM288.4 191.4h0.9v0.9h-0.9zM297.1 184.3h0.9v0.9h-0.9zM300.6 191.4h0.9v0.9h-0.9zM292.3 187.3h0.9v0.9h-0.9zM321.4 182.4h0.9v0.9h-0.9zM285.8 177.7h0.9v0.9h-0.9zM304.6 190.0h0.9v0.9h-0.9zM326.7 182.7h0.9v0.9h-0.9zM282.7 187.1h0.9v0.9h-0.9zM290.2 189.4h0.9v0.9h-0.9zM329.6 182.2h0.9v0.9h-0.9zM299.4 183.4h0.9v0.9h-0.9zM324.3 185.1h0.9v0.9h-0.9zM319.8 187.7h0.9v0.9h-0.9zM328.3 189.5h0.9v0.9h-0.9zM311.9 189.7h0.9v0.9h-0.9zM291.6 186.1h0.9v0.9h-0.9zM291.0 189.1h0.9v0.9h-0.9zM293.5 183.2h0.9v0.9h-0.9zM290.9 184.3h0.9v0.9h-0.9zM281.3 184.8h0.9v0.9h-0.9zM290.0 192.6h0.9v0.9h-0.9zM296.4 189.3h0.9v0.9h-0.9zM308.3 192.6h0.9v0.9h-0.9zM283.9 190.9h0.9v0.9h-0.9zM308.4 189.1h0.9v0.9h-0.9zM312.9 188.7h0.9v0.9h-0.9zM315.7 188.1h0.9v0.9h-0.9zM301.3 186.8h0.9v0.9h-0.9zM328.6 188.9h0.9v0.9h-0.9zM296.4 184.4h0.9v0.9h-0.9zM301.6 186.1h0.9v0.9h-0.9zM324.2 189.4h0.9v0.9h-0.9zM290.6 187.5h0.9v0.9h-0.9zM317.3 187.2h0.9v0.9h-0.9zM326.1 187.2h0.9v0.9h-0.9zM302.0 188.8h0.9v0.9h-0.9zM325.1 184.7h0.9v0.9h-0.9zM303.9 187.6h0.9v0.9h-0.9zM308.4 187.7h0.9v0.9h-0.9zM312.9 188.3h0.9v0.9h-0.9zM312.0 186.5h0.9v0.9h-0.9zM299.4 185.5h0.9v0.9h-0.9zM294.9 187.4h0.9v0.9h-0.9zM306.9 188.6h0.9v0.9h-0.9zM305.4 186.6h0.9v0.9h-0.9zM321.2 188.8h0.9v0.9h-0.9zM287.1 187.1h0.9v0.9h-0.9zM328.1 189.7h0.9v0.9h-0.9zM283.4 186.9h0.9v0.9h-0.9zM327.3 182.9h0.9v0.9h-0.9zM311.9 191.4h0.9v0.9h-0.9zM322.2 189.5h0.9v0.9h-0.9zM291.9 193.1h0.9v0.9h-0.9zM301.0 191.0h0.9v0.9h-0.9zM289.9 181.7h0.9v0.9h-0.9zM291.7 183.9h0.9v0.9h-0.9zM300.0 189.8h0.9v0.9h-0.9zM286.9 187.7h0.9v0.9h-0.9zM325.8 191.0h0.9v0.9h-0.9zM282.8 181.3h0.9v0.9h-0.9zM282.6 185.1h0.9v0.9h-0.9zM322.9 189.6h0.9v0.9h-0.9zM308.4 190.1h0.9v0.9h-0.9zM312.2 186.1h0.9v0.9h-0.9zM310.0 190.2h0.9v0.9h-0.9zM302.1 185.4h0.9v0.9h-0.9zM302.7 184.3h0.9v0.9h-0.9zM281.9 184.2h0.9v0.9h-0.9zM292.5 184.6h0.9v0.9h-0.9zM319.1 187.7h0.9v0.9h-0.9zM289.7 183.4h0.9v0.9h-0.9zM304.5 188.7h0.9v0.9h-0.9zM302.4 188.4h0.9v0.9h-0.9zM285.3 183.2h0.9v0.9h-0.9zM282.8 189.4h0.9v0.9h-0.9zM312.7 191.4h0.9v0.9h-0.9zM319.8 189.3h0.9v0.9h-0.9zM306.4 190.9h0.9v0.9h-0.9zM299.7 188.8h0.9v0.9h-0.9zM328.5 190.0h0.9v0.9h-0.9zM330.8 190.3h0.9v0.9h-0.9zM317.5 187.8h0.9v0.9h-0.9zM330.1 185.5h0.9v0.9h-0.9zM305.4 194.2h0.9v0.9h-0.9zM289.0 185.3h0.9v0.9h-0.9zM320.4 188.0h0.9v0.9h-0.9zM298.4 186.9h0.9v0.9h-0.9zM318.7 190.3h0.9v0.9h-0.9zM294.5 194.0h0.9v0.9h-0.9zM321.7 189.0h0.9v0.9h-0.9zM327.0 189.2h0.9v0.9h-0.9zM291.2 187.2h0.9v0.9h-0.9zM296.7 191.6h0.9v0.9h-0.9zM282.6 188.7h0.9v0.9h-0.9zM327.8 188.3h0.9v0.9h-0.9zM314.9 188.5h0.9v0.9h-0.9zM320.2 186.1h0.9v0.9h-0.9zM286.5 182.1h0.9v0.9h-0.9zM298.8 186.5h0.9v0.9h-0.9zM324.6 183.9h0.9v0.9h-0.9zM325.1 185.9h0.9v0.9h-0.9zM286.0 193.2h0.9v0.9h-0.9zM300.5 187.2h0.9v0.9h-0.9zM320.8 186.3h0.9v0.9h-0.9zM309.7 196.6h0.9v0.9h-0.9zM298.8 187.8h0.9v0.9h-0.9zM289.6 183.5h0.9v0.9h-0.9zM318.1 192.0h0.9v0.9h-0.9zM293.5 189.5h0.9v0.9h-0.9zM312.9 191.1h0.9v0.9h-0.9zM314.1 186.8h0.9v0.9h-0.9zM296.4 188.4h0.9v0.9h-0.9zM288.2 187.6h0.9v0.9h-0.9zM311.7 183.9h0.9v0.9h-0.9zM325.7 188.2h0.9v0.9h-0.9zM287.3 188.4h0.9v0.9h-0.9zM281.8 193.6h0.9v0.9h-0.9zM280.8 186.5h0.9v0.9h-0.9zM298.7 188.7h0.9v0.9h-0.9zM292.0 183.2h0.9v0.9h-0.9zM291.0 185.0h0.9v0.9h-0.9zM312.1 185.6h0.9v0.9h-0.9zM327.8 187.2h0.9v0.9h-0.9zM293.0 188.5h0.9v0.9h-0.9zM312.8 188.3h0.9v0.9h-0.9zM324.5 187.5h0.9v0.9h-0.9zM294.0 183.9h0.9v0.9h-0.9zM281.3 184.4h0.9v0.9h-0.9zM298.3 183.9h0.9v0.9h-0.9zM313.2 180.7h0.9v0.9h-0.9zM317.6 189.4h0.9v0.9h-0.9zM293.2 188.4h0.9v0.9h-0.9zM307.4 186.7h0.9v0.9h-0.9zM301.1 187.5h0.9v0.9h-0.9zM319.9 188.0h0.9v0.9h-0.9zM281.3 178.4h0.9v0.9h-0.9zM287.9 184.7h0.9v0.9h-0.9zM290.7 184.0h0.9v0.9h-0.9zM313.0 185.0h0.9v0.9h-0.9zM321.6 188.1h0.9v0.9h-0.9zM295.8 190.2h0.9v0.9h-0.9zM283.1 193.1h0.9v0.9h-0.9zM316.7 184.0h0.9v0.9h-0.9zM281.0 191.5h0.9v0.9h-0.9zM304.1 182.8h0.9v0.9h-0.9zM318.0 185.2h0.9v0.9h-0.9zM286.0 188.4h0.9v0.9h-0.9zM292.4 190.8h0.9v0.9h-0.9zM318.4 187.7h0.9v0.9h-0.9zM315.7 189.7h0.9v0.9h-0.9zM294.1 182.7h0.9v0.9h-0.9zM308.6 182.2h0.9v0.9h-0.9zM307.0 189.5h0.9v0.9h-0.9zM294.0 181.5h0.9v0.9h-0.9zM291.6 180.0h0.9v0.9h-0.9zM325.0 188.9h0.9v0.9h-0.9zM292.6 187.8h0.9v0.9h-0.9zM318.1 191.4h0.9v0.9h-0.9zM297.1 185.4h0.9v0.9h-0.9zM325.0 186.1h0.9v0.9h-0.9zM326.4 188.6h0.9v0.9h-0.9zM312.4 185.6h0.9v0.9h-0.9zM329.9 183.7h0.9v0.9h-0.9zM304.3 190.0h0.9v0.9h-0.9zM323.8 183.7h0.9v0.9h-0.9zM302.7 186.7h0.9v0.9h-0.9zM296.2 182.9h0.9v0.9h-0.9zM291.4 186.4h0.9v0.9h-0.9zM326.5 186.3h0.9v0.9h-0.9zM288.0 189.4h0.9v0.9h-0.9zM327.4 187.1h0.9v0.9h-0.9zM298.0 188.0h0.9v0.9h-0.9zM282.8 188.4h0.9v0.9h-0.9zM315.5 184.2h0.9v0.9h-0.9zM317.8 183.9h0.9v0.9h-0.9zM284.0 184.4h0.9v0.9h-0.9zM321.8 185.7h0.9v0.9h-0.9zM321.9 187.8h0.9v0.9h-0.9zM324.3 186.4h0.9v0.9h-0.9zM326.7 188.1h0.9v0.9h-0.9zM291.0 186.9h0.9v0.9h-0.9zM286.3 195.1h0.9v0.9h-0.9zM321.5 188.1h0.9v0.9h-0.9zM312.6 189.1h0.9v0.9h-0.9zM295.2 182.9h0.9v0.9h-0.9zM285.7 193.1h0.9v0.9h-0.9zM291.0 191.2h0.9v0.9h-0.9zM296.8 186.8h0.9v0.9h-0.9zM293.6 187.8h0.9v0.9h-0.9zM294.9 186.7h0.9v0.9h-0.9zM296.8 184.1h0.9v0.9h-0.9zM329.2 182.3h0.9v0.9h-0.9zM311.8 187.1h0.9v0.9h-0.9zM282.3 183.9h0.9v0.9h-0.9zM319.6 188.6h0.9v0.9h-0.9zM298.1 186.2h0.9v0.9h-0.9zM291.6 183.1h0.9v0.9h-0.9zM324.1 191.0h0.9v0.9h-0.9zM289.3 191.4h0.9v0.9h-0.9zM280.8 189.8h0.9v0.9h-0.9zM329.9 190.7h0.9v0.9h-0.9zM280.9 182.9h0.9v0.9h-0.9zM320.8 187.2h0.9v0.9h-0.9zM290.0 184.0h0.9v0.9h-0.9zM322.5 187.1h0.9v0.9h-0.9zM293.8 190.3h0.9v0.9h-0.9zM291.5 186.5h0.9v0.9h-0.9zM315.9 185.8h0.9v0.9h-0.9zM312.7 187.2h0.9v0.9h-0.9zM284.8 189.1h0.9v0.9h-0.9zM320.3 183.0h0.9v0.9h-0.9zM312.3 185.3h0.9v0.9h-0.9zM300.5 190.1h0.9v0.9h-0.9zM325.5 191.5h0.9v0.9h-0.9zM282.0 192.1h0.9v0.9h-0.9zM291.1 186.9h0.9v0.9h-0.9zM305.9 194.2h0.9v0.9h-0.9zM299.8 189.3h0.9v0.9h-0.9zM303.9 185.7h0.9v0.9h-0.9zM307.4 187.4h0.9v0.9h-0.9zM313.2 182.2h0.9v0.9h-0.9zM298.2 186.5h0.9v0.9h-0.9zM323.1 188.4h0.9v0.9h-0.9zM314.0 187.1h0.9v0.9h-0.9zM302.8 185.3h0.9v0.9h-0.9zM319.6 185.8h0.9v0.9h-0.9zM303.9 186.5h0.9v0.9h-0.9zM325.2 187.1h0.9v0.9h-0.9zM295.9 189.8h0.9v0.9h-0.9z" fill="#2a060c" fill-opacity="1"/>
<path d="M316.1 187.4h0.9v0.9h-0.9zM288.5 186.5h0.9v0.9h-0.9zM293.2 186.3h0.9v0.9h-0.9zM288.8 189.4h0.9v0.9h-0.9zM297.2 188.9h0.9v0.9h-0.9zM317.4 190.3h0.9v0.9h-0.9zM285.8 188.3h0.9v0.9h-0.9zM300.0 187.0h0.9v0.9h-0.9zM330.2 187.2h0.9v0.9h-0.9zM302.6 184.7h0.9v0.9h-0.9zM290.6 186.8h0.9v0.9h-0.9zM291.1 186.7h0.9v0.9h-0.9zM300.2 188.8h0.9v0.9h-0.9zM320.5 187.1h0.9v0.9h-0.9zM315.6 185.0h0.9v0.9h-0.9zM304.0 187.1h0.9v0.9h-0.9zM287.8 185.9h0.9v0.9h-0.9zM318.0 186.1h0.9v0.9h-0.9zM326.4 185.4h0.9v0.9h-0.9zM318.4 187.6h0.9v0.9h-0.9zM301.9 187.5h0.9v0.9h-0.9zM325.0 188.7h0.9v0.9h-0.9zM319.6 186.1h0.9v0.9h-0.9zM314.9 184.4h0.9v0.9h-0.9zM313.0 185.8h0.9v0.9h-0.9zM312.3 187.3h0.9v0.9h-0.9zM285.6 184.5h0.9v0.9h-0.9zM316.6 188.1h0.9v0.9h-0.9zM312.4 187.0h0.9v0.9h-0.9zM303.6 188.8h0.9v0.9h-0.9zM312.0 185.2h0.9v0.9h-0.9zM327.5 187.7h0.9v0.9h-0.9zM289.9 185.6h0.9v0.9h-0.9zM300.3 184.8h0.9v0.9h-0.9zM305.3 187.5h0.9v0.9h-0.9zM308.0 187.0h0.9v0.9h-0.9zM288.8 188.2h0.9v0.9h-0.9zM306.8 183.5h0.9v0.9h-0.9zM285.8 185.3h0.9v0.9h-0.9zM316.8 186.2h0.9v0.9h-0.9zM306.5 185.2h0.9v0.9h-0.9zM306.9 184.9h0.9v0.9h-0.9zM301.3 188.2h0.9v0.9h-0.9zM315.1 186.6h0.9v0.9h-0.9zM300.4 187.3h0.9v0.9h-0.9zM330.2 186.1h0.9v0.9h-0.9zM298.6 188.5h0.9v0.9h-0.9zM300.8 187.6h0.9v0.9h-0.9zM281.4 185.7h0.9v0.9h-0.9zM315.8 187.6h0.9v0.9h-0.9zM298.4 187.1h0.9v0.9h-0.9zM318.0 187.8h0.9v0.9h-0.9zM328.0 185.9h0.9v0.9h-0.9zM321.0 186.7h0.9v0.9h-0.9zM300.4 187.4h0.9v0.9h-0.9zM319.8 187.5h0.9v0.9h-0.9zM321.4 185.9h0.9v0.9h-0.9zM309.0 185.8h0.9v0.9h-0.9zM292.1 188.9h0.9v0.9h-0.9zM312.8 186.7h0.9v0.9h-0.9zM321.9 187.4h0.9v0.9h-0.9zM295.5 185.5h0.9v0.9h-0.9zM308.3 189.1h0.9v0.9h-0.9zM298.5 189.5h0.9v0.9h-0.9zM323.5 186.7h0.9v0.9h-0.9zM293.5 189.0h0.9v0.9h-0.9zM302.1 187.2h0.9v0.9h-0.9zM317.0 187.0h0.9v0.9h-0.9zM294.8 187.3h0.9v0.9h-0.9zM304.8 188.4h0.9v0.9h-0.9zM302.3 185.6h0.9v0.9h-0.9zM298.9 185.4h0.9v0.9h-0.9zM327.4 187.0h0.9v0.9h-0.9zM322.3 186.5h0.9v0.9h-0.9zM326.3 186.9h0.9v0.9h-0.9zM322.5 186.2h0.9v0.9h-0.9zM312.5 187.2h0.9v0.9h-0.9zM328.6 186.8h0.9v0.9h-0.9zM313.7 187.0h0.9v0.9h-0.9zM287.9 188.2h0.9v0.9h-0.9zM292.5 187.6h0.9v0.9h-0.9zM288.4 185.7h0.9v0.9h-0.9zM326.2 187.0h0.9v0.9h-0.9zM325.5 186.1h0.9v0.9h-0.9zM311.3 187.4h0.9v0.9h-0.9zM325.7 185.0h0.9v0.9h-0.9zM320.3 187.3h0.9v0.9h-0.9zM315.5 186.2h0.9v0.9h-0.9zM307.4 187.0h0.9v0.9h-0.9zM325.1 185.5h0.9v0.9h-0.9zM308.6 187.0h0.9v0.9h-0.9zM287.7 188.7h0.9v0.9h-0.9zM305.5 188.7h0.9v0.9h-0.9zM288.0 188.1h0.9v0.9h-0.9zM305.4 185.2h0.9v0.9h-0.9zM324.1 186.8h0.9v0.9h-0.9zM281.0 188.7h0.9v0.9h-0.9zM309.0 185.6h0.9v0.9h-0.9zM314.2 187.7h0.9v0.9h-0.9zM301.8 185.8h0.9v0.9h-0.9zM329.0 188.2h0.9v0.9h-0.9zM312.7 187.9h0.9v0.9h-0.9zM282.1 185.2h0.9v0.9h-0.9zM327.6 185.6h0.9v0.9h-0.9zM297.3 189.2h0.9v0.9h-0.9zM305.1 186.9h0.9v0.9h-0.9zM325.8 188.6h0.9v0.9h-0.9zM312.2 187.5h0.9v0.9h-0.9zM297.7 188.3h0.9v0.9h-0.9zM304.6 186.0h0.9v0.9h-0.9zM307.1 187.2h0.9v0.9h-0.9zM302.6 186.1h0.9v0.9h-0.9zM301.9 184.3h0.9v0.9h-0.9zM295.4 186.2h0.9v0.9h-0.9zM322.3 185.6h0.9v0.9h-0.9zM294.4 188.5h0.9v0.9h-0.9zM306.2 189.3h0.9v0.9h-0.9zM320.5 186.6h0.9v0.9h-0.9zM297.3 186.7h0.9v0.9h-0.9zM310.2 188.2h0.9v0.9h-0.9zM312.6 187.1h0.9v0.9h-0.9zM317.1 186.5h0.9v0.9h-0.9zM325.2 186.4h0.9v0.9h-0.9zM295.8 187.1h0.9v0.9h-0.9zM281.0 189.1h0.9v0.9h-0.9zM311.3 190.0h0.9v0.9h-0.9zM313.8 187.7h0.9v0.9h-0.9zM311.5 183.9h0.9v0.9h-0.9zM311.7 185.5h0.9v0.9h-0.9zM310.7 185.4h0.9v0.9h-0.9zM315.0 187.4h0.9v0.9h-0.9zM303.7 189.4h0.9v0.9h-0.9zM319.1 187.6h0.9v0.9h-0.9zM282.6 188.2h0.9v0.9h-0.9zM319.7 188.5h0.9v0.9h-0.9zM299.3 186.0h0.9v0.9h-0.9zM322.1 187.2h0.9v0.9h-0.9zM293.7 185.1h0.9v0.9h-0.9zM295.9 185.9h0.9v0.9h-0.9zM302.4 187.8h0.9v0.9h-0.9zM313.0 187.4h0.9v0.9h-0.9zM309.2 186.8h0.9v0.9h-0.9zM282.7 190.1h0.9v0.9h-0.9zM309.6 188.9h0.9v0.9h-0.9zM326.9 186.6h0.9v0.9h-0.9zM300.2 187.3h0.9v0.9h-0.9zM310.5 190.8h0.9v0.9h-0.9zM304.6 185.4h0.9v0.9h-0.9zM301.4 189.0h0.9v0.9h-0.9zM291.4 188.9h0.9v0.9h-0.9zM288.3 187.6h0.9v0.9h-0.9zM315.1 187.0h0.9v0.9h-0.9zM286.8 188.2h0.9v0.9h-0.9zM324.4 186.7h0.9v0.9h-0.9zM287.2 190.4h0.9v0.9h-0.9zM292.9 187.6h0.9v0.9h-0.9zM317.6 187.1h0.9v0.9h-0.9zM319.6 187.3h0.9v0.9h-0.9zM316.6 188.3h0.9v0.9h-0.9zM284.9 185.0h0.9v0.9h-0.9zM312.3 186.6h0.9v0.9h-0.9zM327.6 185.5h0.9v0.9h-0.9zM293.5 190.0h0.9v0.9h-0.9zM281.3 186.8h0.9v0.9h-0.9zM281.4 185.4h0.9v0.9h-0.9zM284.7 184.6h0.9v0.9h-0.9zM296.3 187.1h0.9v0.9h-0.9zM324.0 186.1h0.9v0.9h-0.9zM305.2 188.5h0.9v0.9h-0.9zM309.6 187.6h0.9v0.9h-0.9zM302.8 186.8h0.9v0.9h-0.9zM320.8 186.2h0.9v0.9h-0.9zM299.0 185.8h0.9v0.9h-0.9zM301.7 185.4h0.9v0.9h-0.9zM300.1 188.1h0.9v0.9h-0.9zM320.2 183.8h0.9v0.9h-0.9zM309.2 186.9h0.9v0.9h-0.9zM329.7 187.1h0.9v0.9h-0.9zM316.1 187.5h0.9v0.9h-0.9zM311.2 185.9h0.9v0.9h-0.9zM329.9 187.5h0.9v0.9h-0.9zM296.2 185.2h0.9v0.9h-0.9zM302.3 188.3h0.9v0.9h-0.9zM315.1 186.1h0.9v0.9h-0.9zM311.0 189.1h0.9v0.9h-0.9zM295.0 185.4h0.9v0.9h-0.9zM280.8 187.3h0.9v0.9h-0.9zM310.2 188.6h0.9v0.9h-0.9zM321.7 187.1h0.9v0.9h-0.9zM322.6 186.6h0.9v0.9h-0.9zM321.5 188.0h0.9v0.9h-0.9zM294.5 185.6h0.9v0.9h-0.9zM323.5 187.5h0.9v0.9h-0.9zM326.7 185.1h0.9v0.9h-0.9zM298.1 189.1h0.9v0.9h-0.9zM320.8 187.7h0.9v0.9h-0.9zM290.8 187.3h0.9v0.9h-0.9zM292.5 183.2h0.9v0.9h-0.9zM311.2 186.3h0.9v0.9h-0.9zM291.1 185.5h0.9v0.9h-0.9zM293.5 187.3h0.9v0.9h-0.9zM303.8 184.3h0.9v0.9h-0.9zM285.1 188.6h0.9v0.9h-0.9zM292.4 184.5h0.9v0.9h-0.9zM309.9 189.5h0.9v0.9h-0.9zM306.9 185.2h0.9v0.9h-0.9zM304.7 186.3h0.9v0.9h-0.9zM290.4 186.7h0.9v0.9h-0.9zM289.8 186.8h0.9v0.9h-0.9zM309.1 185.7h0.9v0.9h-0.9zM300.9 186.3h0.9v0.9h-0.9zM282.9 187.3h0.9v0.9h-0.9zM330.9 186.3h0.9v0.9h-0.9zM312.5 187.5h0.9v0.9h-0.9zM320.3 187.8h0.9v0.9h-0.9zM298.0 189.1h0.9v0.9h-0.9zM306.8 187.5h0.9v0.9h-0.9zM330.5 186.7h0.9v0.9h-0.9zM324.3 185.2h0.9v0.9h-0.9zM293.9 187.5h0.9v0.9h-0.9zM319.9 184.1h0.9v0.9h-0.9zM319.3 188.3h0.9v0.9h-0.9zM321.9 187.8h0.9v0.9h-0.9zM282.6 187.1h0.9v0.9h-0.9zM290.8 187.7h0.9v0.9h-0.9zM283.3 188.2h0.9v0.9h-0.9zM308.7 188.2h0.9v0.9h-0.9zM328.3 185.8h0.9v0.9h-0.9zM326.5 188.2h0.9v0.9h-0.9zM300.7 188.0h0.9v0.9h-0.9zM286.7 188.8h0.9v0.9h-0.9zM309.1 186.8h0.9v0.9h-0.9zM312.9 189.0h0.9v0.9h-0.9zM300.5 186.5h0.9v0.9h-0.9zM303.3 189.4h0.9v0.9h-0.9zM330.6 189.1h0.9v0.9h-0.9zM291.9 188.7h0.9v0.9h-0.9zM298.4 187.5h0.9v0.9h-0.9zM326.1 188.6h0.9v0.9h-0.9zM283.1 185.4h0.9v0.9h-0.9zM320.3 186.4h0.9v0.9h-0.9zM330.3 185.2h0.9v0.9h-0.9zM283.5 189.4h0.9v0.9h-0.9zM328.0 188.3h0.9v0.9h-0.9zM314.7 186.4h0.9v0.9h-0.9zM318.8 188.6h0.9v0.9h-0.9zM286.0 186.8h0.9v0.9h-0.9zM286.9 188.7h0.9v0.9h-0.9zM304.9 187.7h0.9v0.9h-0.9zM287.9 188.6h0.9v0.9h-0.9zM314.8 189.1h0.9v0.9h-0.9zM290.5 187.6h0.9v0.9h-0.9zM282.5 188.7h0.9v0.9h-0.9zM327.7 186.4h0.9v0.9h-0.9zM324.3 187.3h0.9v0.9h-0.9zM303.2 186.6h0.9v0.9h-0.9zM285.6 190.7h0.9v0.9h-0.9zM312.3 185.8h0.9v0.9h-0.9zM303.5 185.6h0.9v0.9h-0.9zM304.7 189.6h0.9v0.9h-0.9zM312.3 187.6h0.9v0.9h-0.9zM283.6 188.5h0.9v0.9h-0.9zM316.6 186.2h0.9v0.9h-0.9zM324.5 186.6h0.9v0.9h-0.9zM294.1 186.4h0.9v0.9h-0.9zM294.3 187.8h0.9v0.9h-0.9zM322.9 186.4h0.9v0.9h-0.9zM305.4 187.9h0.9v0.9h-0.9zM296.7 187.9h0.9v0.9h-0.9zM329.9 186.4h0.9v0.9h-0.9zM283.6 189.7h0.9v0.9h-0.9zM291.3 185.7h0.9v0.9h-0.9zM304.7 186.8h0.9v0.9h-0.9zM290.8 188.7h0.9v0.9h-0.9zM299.0 193.1h0.9v0.9h-0.9zM327.2 186.5h0.9v0.9h-0.9zM285.6 186.4h0.9v0.9h-0.9zM283.6 191.4h0.9v0.9h-0.9zM317.2 185.9h0.9v0.9h-0.9zM281.5 192.7h0.9v0.9h-0.9zM321.3 186.5h0.9v0.9h-0.9zM280.8 188.4h0.9v0.9h-0.9zM322.6 186.0h0.9v0.9h-0.9zM302.6 187.0h0.9v0.9h-0.9zM326.6 187.1h0.9v0.9h-0.9zM287.6 189.8h0.9v0.9h-0.9zM289.8 187.7h0.9v0.9h-0.9zM290.6 184.5h0.9v0.9h-0.9zM284.7 189.7h0.9v0.9h-0.9zM305.6 188.2h0.9v0.9h-0.9zM294.5 187.9h0.9v0.9h-0.9zM316.3 188.7h0.9v0.9h-0.9zM321.5 186.1h0.9v0.9h-0.9zM284.0 186.8h0.9v0.9h-0.9zM317.6 185.1h0.9v0.9h-0.9zM283.5 189.1h0.9v0.9h-0.9zM321.5 185.6h0.9v0.9h-0.9zM324.2 188.8h0.9v0.9h-0.9zM305.5 190.5h0.9v0.9h-0.9zM304.7 187.4h0.9v0.9h-0.9zM324.6 186.7h0.9v0.9h-0.9zM322.5 187.6h0.9v0.9h-0.9zM299.2 188.0h0.9v0.9h-0.9zM310.6 188.2h0.9v0.9h-0.9zM280.9 185.4h0.9v0.9h-0.9zM306.6 186.9h0.9v0.9h-0.9zM286.8 186.6h0.9v0.9h-0.9zM324.2 184.6h0.9v0.9h-0.9zM296.8 186.8h0.9v0.9h-0.9zM318.5 185.6h0.9v0.9h-0.9zM283.8 190.8h0.9v0.9h-0.9zM305.6 184.4h0.9v0.9h-0.9zM306.5 185.2h0.9v0.9h-0.9zM281.7 187.0h0.9v0.9h-0.9zM329.4 186.8h0.9v0.9h-0.9zM285.9 188.6h0.9v0.9h-0.9zM293.3 187.5h0.9v0.9h-0.9zM285.6 187.0h0.9v0.9h-0.9zM315.9 187.0h0.9v0.9h-0.9zM310.8 187.3h0.9v0.9h-0.9zM309.7 184.8h0.9v0.9h-0.9zM285.9 187.0h0.9v0.9h-0.9zM324.4 186.7h0.9v0.9h-0.9zM286.9 186.8h0.9v0.9h-0.9zM305.5 185.9h0.9v0.9h-0.9zM286.8 187.4h0.9v0.9h-0.9zM301.1 188.6h0.9v0.9h-0.9zM324.0 188.0h0.9v0.9h-0.9zM288.1 184.6h0.9v0.9h-0.9zM289.0 186.0h0.9v0.9h-0.9zM322.2 188.0h0.9v0.9h-0.9zM301.9 186.6h0.9v0.9h-0.9zM322.9 185.6h0.9v0.9h-0.9zM328.0 186.6h0.9v0.9h-0.9zM319.8 186.4h0.9v0.9h-0.9zM297.6 188.3h0.9v0.9h-0.9zM302.6 190.0h0.9v0.9h-0.9zM326.6 186.5h0.9v0.9h-0.9zM321.7 187.1h0.9v0.9h-0.9zM306.7 186.7h0.9v0.9h-0.9zM328.9 187.5h0.9v0.9h-0.9zM301.9 186.7h0.9v0.9h-0.9zM312.5 185.8h0.9v0.9h-0.9zM284.2 189.2h0.9v0.9h-0.9zM302.5 186.8h0.9v0.9h-0.9zM287.7 187.4h0.9v0.9h-0.9zM329.5 187.2h0.9v0.9h-0.9zM312.6 183.7h0.9v0.9h-0.9zM321.4 188.8h0.9v0.9h-0.9zM282.4 184.8h0.9v0.9h-0.9zM313.0 186.8h0.9v0.9h-0.9zM294.5 189.9h0.9v0.9h-0.9zM308.0 188.9h0.9v0.9h-0.9zM293.3 186.2h0.9v0.9h-0.9zM306.9 183.7h0.9v0.9h-0.9zM295.2 189.0h0.9v0.9h-0.9zM296.1 186.7h0.9v0.9h-0.9zM310.6 186.4h0.9v0.9h-0.9zM328.8 185.8h0.9v0.9h-0.9zM304.2 187.0h0.9v0.9h-0.9zM307.6 187.5h0.9v0.9h-0.9zM287.3 188.2h0.9v0.9h-0.9zM295.5 186.1h0.9v0.9h-0.9zM292.9 188.1h0.9v0.9h-0.9zM285.1 183.9h0.9v0.9h-0.9zM311.4 186.2h0.9v0.9h-0.9zM309.4 186.5h0.9v0.9h-0.9zM316.4 186.2h0.9v0.9h-0.9zM303.9 185.1h0.9v0.9h-0.9zM304.3 186.5h0.9v0.9h-0.9zM296.3 187.3h0.9v0.9h-0.9zM306.5 188.2h0.9v0.9h-0.9zM300.0 187.0h0.9v0.9h-0.9zM298.4 187.1h0.9v0.9h-0.9zM324.1 186.9h0.9v0.9h-0.9zM305.4 189.1h0.9v0.9h-0.9zM295.0 188.7h0.9v0.9h-0.9zM319.5 186.8h0.9v0.9h-0.9zM288.7 190.8h0.9v0.9h-0.9zM302.8 188.5h0.9v0.9h-0.9z" fill="#7e121e" fill-opacity="1"/>
<path d="M283.8 179.9h1.0v1.0h-1.0zM317.7 192.1h1.0v1.0h-1.0zM286.2 189.6h1.0v1.0h-1.0zM288.5 182.6h1.0v1.0h-1.0zM314.7 192.9h1.0v1.0h-1.0zM311.7 195.2h1.0v1.0h-1.0zM306.7 174.5h1.0v1.0h-1.0zM317.9 185.9h1.0v1.0h-1.0zM304.6 173.0h1.0v1.0h-1.0zM320.2 181.9h1.0v1.0h-1.0zM287.1 169.3h1.0v1.0h-1.0zM324.5 200.1h1.0v1.0h-1.0zM310.2 186.9h1.0v1.0h-1.0zM305.7 196.6h1.0v1.0h-1.0zM301.7 184.1h1.0v1.0h-1.0zM320.1 194.1h1.0v1.0h-1.0zM299.8 178.7h1.0v1.0h-1.0zM303.4 174.1h1.0v1.0h-1.0zM295.4 189.9h1.0v1.0h-1.0zM300.4 179.1h1.0v1.0h-1.0zM296.9 183.8h1.0v1.0h-1.0zM320.3 192.0h1.0v1.0h-1.0zM303.0 178.9h1.0v1.0h-1.0zM290.0 185.0h1.0v1.0h-1.0zM309.6 190.7h1.0v1.0h-1.0zM310.0 201.8h1.0v1.0h-1.0zM297.0 195.9h1.0v1.0h-1.0zM323.1 197.1h1.0v1.0h-1.0zM291.0 169.3h1.0v1.0h-1.0zM302.2 187.5h1.0v1.0h-1.0zM283.1 185.9h1.0v1.0h-1.0zM309.1 168.5h1.0v1.0h-1.0zM319.6 186.8h1.0v1.0h-1.0zM307.8 196.2h1.0v1.0h-1.0zM306.7 186.4h1.0v1.0h-1.0zM315.2 180.7h1.0v1.0h-1.0zM310.6 191.3h1.0v1.0h-1.0zM298.4 197.9h1.0v1.0h-1.0zM307.1 182.6h1.0v1.0h-1.0zM285.7 180.8h1.0v1.0h-1.0zM308.9 192.2h1.0v1.0h-1.0zM309.6 201.6h1.0v1.0h-1.0zM305.2 172.3h1.0v1.0h-1.0zM307.4 188.5h1.0v1.0h-1.0zM296.7 182.0h1.0v1.0h-1.0zM329.9 190.9h1.0v1.0h-1.0zM286.3 178.0h1.0v1.0h-1.0zM325.7 181.0h1.0v1.0h-1.0zM330.5 172.7h1.0v1.0h-1.0zM325.4 182.4h1.0v1.0h-1.0zM295.3 188.7h1.0v1.0h-1.0zM306.4 181.3h1.0v1.0h-1.0zM289.9 186.3h1.0v1.0h-1.0zM312.4 180.5h1.0v1.0h-1.0zM330.7 182.0h1.0v1.0h-1.0zM312.7 194.4h1.0v1.0h-1.0zM320.3 188.7h1.0v1.0h-1.0zM296.1 186.2h1.0v1.0h-1.0zM296.0 185.8h1.0v1.0h-1.0zM323.1 176.3h1.0v1.0h-1.0zM290.6 180.4h1.0v1.0h-1.0zM305.7 180.6h1.0v1.0h-1.0zM313.2 184.4h1.0v1.0h-1.0zM307.4 197.0h1.0v1.0h-1.0zM301.4 186.3h1.0v1.0h-1.0zM286.8 194.0h1.0v1.0h-1.0zM286.1 197.8h1.0v1.0h-1.0zM285.7 191.2h1.0v1.0h-1.0zM322.1 195.0h1.0v1.0h-1.0zM311.5 187.5h1.0v1.0h-1.0zM281.3 183.8h1.0v1.0h-1.0zM319.5 180.9h1.0v1.0h-1.0zM298.5 197.9h1.0v1.0h-1.0zM289.2 186.1h1.0v1.0h-1.0zM326.2 190.1h1.0v1.0h-1.0zM310.0 181.4h1.0v1.0h-1.0zM300.1 193.6h1.0v1.0h-1.0zM283.5 194.7h1.0v1.0h-1.0zM329.0 179.8h1.0v1.0h-1.0zM302.8 182.1h1.0v1.0h-1.0zM282.9 182.3h1.0v1.0h-1.0zM327.5 190.8h1.0v1.0h-1.0zM325.9 181.0h1.0v1.0h-1.0zM321.7 182.9h1.0v1.0h-1.0zM329.0 196.8h1.0v1.0h-1.0zM305.6 192.2h1.0v1.0h-1.0zM300.3 184.6h1.0v1.0h-1.0zM316.8 187.7h1.0v1.0h-1.0zM324.7 193.3h1.0v1.0h-1.0zM305.1 188.1h1.0v1.0h-1.0zM289.4 180.7h1.0v1.0h-1.0zM298.7 194.8h1.0v1.0h-1.0zM308.9 193.9h1.0v1.0h-1.0zM300.1 193.0h1.0v1.0h-1.0zM301.0 190.3h1.0v1.0h-1.0zM322.2 188.1h1.0v1.0h-1.0zM298.4 186.7h1.0v1.0h-1.0zM295.0 191.7h1.0v1.0h-1.0zM292.6 198.0h1.0v1.0h-1.0zM297.9 189.1h1.0v1.0h-1.0zM288.5 185.5h1.0v1.0h-1.0zM294.3 183.1h1.0v1.0h-1.0zM322.7 192.5h1.0v1.0h-1.0zM322.8 192.7h1.0v1.0h-1.0zM321.2 190.5h1.0v1.0h-1.0zM317.0 192.8h1.0v1.0h-1.0zM299.7 191.8h1.0v1.0h-1.0zM328.5 185.1h1.0v1.0h-1.0zM306.1 187.8h1.0v1.0h-1.0zM287.3 195.2h1.0v1.0h-1.0zM316.2 185.3h1.0v1.0h-1.0zM310.3 203.6h1.0v1.0h-1.0zM299.2 186.8h1.0v1.0h-1.0zM291.4 197.4h1.0v1.0h-1.0zM324.6 193.4h1.0v1.0h-1.0zM308.0 193.2h1.0v1.0h-1.0zM294.3 187.6h1.0v1.0h-1.0zM313.8 178.7h1.0v1.0h-1.0zM309.3 183.5h1.0v1.0h-1.0zM285.0 193.9h1.0v1.0h-1.0zM289.6 190.7h1.0v1.0h-1.0zM314.0 180.8h1.0v1.0h-1.0zM286.2 179.5h1.0v1.0h-1.0zM305.9 183.6h1.0v1.0h-1.0zM295.6 192.8h1.0v1.0h-1.0zM292.1 189.3h1.0v1.0h-1.0zM287.0 185.1h1.0v1.0h-1.0zM301.0 180.1h1.0v1.0h-1.0zM326.4 189.1h1.0v1.0h-1.0zM324.0 170.1h1.0v1.0h-1.0zM287.3 186.2h1.0v1.0h-1.0zM314.9 188.4h1.0v1.0h-1.0zM314.1 181.6h1.0v1.0h-1.0zM313.9 193.1h1.0v1.0h-1.0zM315.9 186.7h1.0v1.0h-1.0zM298.4 202.0h1.0v1.0h-1.0zM312.3 188.1h1.0v1.0h-1.0zM326.6 190.1h1.0v1.0h-1.0zM317.6 186.0h1.0v1.0h-1.0zM282.7 184.3h1.0v1.0h-1.0zM288.8 188.7h1.0v1.0h-1.0zM299.9 192.9h1.0v1.0h-1.0zM282.7 182.2h1.0v1.0h-1.0zM289.7 197.1h1.0v1.0h-1.0zM322.9 175.0h1.0v1.0h-1.0zM293.5 181.1h1.0v1.0h-1.0zM302.6 183.5h1.0v1.0h-1.0zM280.7 179.7h1.0v1.0h-1.0zM322.7 187.6h1.0v1.0h-1.0zM282.9 180.0h1.0v1.0h-1.0zM323.7 184.6h1.0v1.0h-1.0zM293.0 184.9h1.0v1.0h-1.0zM286.3 187.9h1.0v1.0h-1.0zM326.7 181.2h1.0v1.0h-1.0zM318.4 197.1h1.0v1.0h-1.0zM300.5 192.8h1.0v1.0h-1.0zM318.3 189.6h1.0v1.0h-1.0zM285.2 180.8h1.0v1.0h-1.0zM328.3 170.1h1.0v1.0h-1.0zM315.5 195.0h1.0v1.0h-1.0zM317.9 191.9h1.0v1.0h-1.0zM303.5 176.6h1.0v1.0h-1.0zM283.4 183.8h1.0v1.0h-1.0zM306.4 178.5h1.0v1.0h-1.0zM327.4 195.9h1.0v1.0h-1.0zM282.9 196.2h1.0v1.0h-1.0zM316.0 188.6h1.0v1.0h-1.0zM308.2 180.7h1.0v1.0h-1.0zM329.5 180.0h1.0v1.0h-1.0zM293.3 178.9h1.0v1.0h-1.0zM283.7 181.3h1.0v1.0h-1.0zM290.8 192.9h1.0v1.0h-1.0zM296.3 194.7h1.0v1.0h-1.0zM314.4 196.0h1.0v1.0h-1.0zM292.7 187.0h1.0v1.0h-1.0zM303.1 196.1h1.0v1.0h-1.0zM327.8 182.5h1.0v1.0h-1.0zM325.2 191.9h1.0v1.0h-1.0zM287.8 179.9h1.0v1.0h-1.0zM321.7 183.7h1.0v1.0h-1.0zM308.3 186.8h1.0v1.0h-1.0zM314.2 181.6h1.0v1.0h-1.0zM310.8 173.3h1.0v1.0h-1.0zM322.5 189.8h1.0v1.0h-1.0zM286.5 184.6h1.0v1.0h-1.0zM291.1 193.8h1.0v1.0h-1.0zM283.7 185.5h1.0v1.0h-1.0zM316.0 191.7h1.0v1.0h-1.0zM303.2 191.9h1.0v1.0h-1.0zM304.3 191.1h1.0v1.0h-1.0zM299.0 188.0h1.0v1.0h-1.0zM281.2 189.2h1.0v1.0h-1.0zM330.6 186.5h1.0v1.0h-1.0zM316.8 183.1h1.0v1.0h-1.0zM330.0 183.0h1.0v1.0h-1.0zM305.3 185.0h1.0v1.0h-1.0zM302.5 190.2h1.0v1.0h-1.0zM281.1 195.8h1.0v1.0h-1.0zM327.0 179.6h1.0v1.0h-1.0zM327.7 177.6h1.0v1.0h-1.0zM313.5 186.4h1.0v1.0h-1.0zM287.7 192.5h1.0v1.0h-1.0zM282.1 188.8h1.0v1.0h-1.0zM295.6 171.4h1.0v1.0h-1.0zM290.0 176.5h1.0v1.0h-1.0zM327.3 174.7h1.0v1.0h-1.0zM289.2 189.8h1.0v1.0h-1.0zM318.0 171.8h1.0v1.0h-1.0zM297.1 192.5h1.0v1.0h-1.0zM296.8 200.2h1.0v1.0h-1.0zM299.2 179.2h1.0v1.0h-1.0zM322.5 184.1h1.0v1.0h-1.0zM292.7 196.5h1.0v1.0h-1.0zM312.3 189.2h1.0v1.0h-1.0zM321.9 181.7h1.0v1.0h-1.0zM328.2 169.8h1.0v1.0h-1.0zM305.6 181.8h1.0v1.0h-1.0zM295.8 186.5h1.0v1.0h-1.0zM309.9 197.2h1.0v1.0h-1.0zM288.9 192.4h1.0v1.0h-1.0zM303.0 189.9h1.0v1.0h-1.0zM282.7 185.8h1.0v1.0h-1.0zM302.8 191.2h1.0v1.0h-1.0zM280.8 198.4h1.0v1.0h-1.0zM323.0 195.1h1.0v1.0h-1.0zM302.1 175.4h1.0v1.0h-1.0zM294.9 181.4h1.0v1.0h-1.0zM301.9 178.3h1.0v1.0h-1.0zM297.7 175.5h1.0v1.0h-1.0zM322.3 191.0h1.0v1.0h-1.0zM326.2 189.9h1.0v1.0h-1.0zM303.0 192.3h1.0v1.0h-1.0zM309.0 183.5h1.0v1.0h-1.0zM285.0 190.8h1.0v1.0h-1.0zM326.4 191.7h1.0v1.0h-1.0zM311.9 183.2h1.0v1.0h-1.0zM321.5 197.7h1.0v1.0h-1.0zM311.3 190.9h1.0v1.0h-1.0zM295.6 168.7h1.0v1.0h-1.0zM304.9 178.0h1.0v1.0h-1.0zM313.3 184.3h1.0v1.0h-1.0zM325.2 193.5h1.0v1.0h-1.0zM282.1 191.0h1.0v1.0h-1.0zM303.2 197.7h1.0v1.0h-1.0zM285.0 182.4h1.0v1.0h-1.0zM309.9 180.0h1.0v1.0h-1.0zM301.6 176.4h1.0v1.0h-1.0zM300.6 184.6h1.0v1.0h-1.0zM286.4 193.6h1.0v1.0h-1.0zM308.3 201.7h1.0v1.0h-1.0zM286.3 190.5h1.0v1.0h-1.0zM285.5 181.8h1.0v1.0h-1.0zM307.4 186.4h1.0v1.0h-1.0zM308.6 195.8h1.0v1.0h-1.0zM292.1 183.0h1.0v1.0h-1.0zM306.5 184.8h1.0v1.0h-1.0zM310.3 193.7h1.0v1.0h-1.0zM284.4 190.5h1.0v1.0h-1.0zM302.8 193.1h1.0v1.0h-1.0zM316.6 178.8h1.0v1.0h-1.0zM318.8 204.9h1.0v1.0h-1.0zM317.0 202.6h1.0v1.0h-1.0zM285.8 190.4h1.0v1.0h-1.0zM289.3 179.5h1.0v1.0h-1.0zM329.0 173.8h1.0v1.0h-1.0zM287.6 181.2h1.0v1.0h-1.0zM319.7 192.0h1.0v1.0h-1.0zM299.4 188.6h1.0v1.0h-1.0zM281.5 181.9h1.0v1.0h-1.0zM295.8 183.4h1.0v1.0h-1.0zM316.3 171.5h1.0v1.0h-1.0zM311.9 194.0h1.0v1.0h-1.0zM324.6 170.0h1.0v1.0h-1.0zM324.5 179.6h1.0v1.0h-1.0zM289.2 186.3h1.0v1.0h-1.0zM319.1 179.2h1.0v1.0h-1.0zM314.9 188.4h1.0v1.0h-1.0zM299.5 182.9h1.0v1.0h-1.0zM317.8 198.6h1.0v1.0h-1.0zM282.9 182.4h1.0v1.0h-1.0zM311.1 194.7h1.0v1.0h-1.0zM321.1 192.4h1.0v1.0h-1.0zM286.4 197.2h1.0v1.0h-1.0zM293.5 181.1h1.0v1.0h-1.0zM290.4 172.1h1.0v1.0h-1.0zM309.9 191.5h1.0v1.0h-1.0zM286.4 190.3h1.0v1.0h-1.0zM321.0 187.0h1.0v1.0h-1.0zM290.0 180.3h1.0v1.0h-1.0zM315.3 184.3h1.0v1.0h-1.0zM299.9 196.6h1.0v1.0h-1.0zM307.8 199.4h1.0v1.0h-1.0zM315.4 193.5h1.0v1.0h-1.0zM297.9 192.0h1.0v1.0h-1.0zM324.6 194.2h1.0v1.0h-1.0zM321.0 191.4h1.0v1.0h-1.0zM321.9 187.6h1.0v1.0h-1.0zM314.9 179.4h1.0v1.0h-1.0zM288.7 192.2h1.0v1.0h-1.0zM323.2 173.8h1.0v1.0h-1.0zM311.4 196.6h1.0v1.0h-1.0zM284.5 183.8h1.0v1.0h-1.0zM325.7 191.4h1.0v1.0h-1.0zM310.3 191.2h1.0v1.0h-1.0zM298.9 187.8h1.0v1.0h-1.0zM304.2 179.5h1.0v1.0h-1.0zM298.5 182.8h1.0v1.0h-1.0zM281.0 180.2h1.0v1.0h-1.0zM281.7 183.1h1.0v1.0h-1.0zM303.8 188.9h1.0v1.0h-1.0zM288.0 186.3h1.0v1.0h-1.0zM314.4 185.6h1.0v1.0h-1.0zM305.9 192.8h1.0v1.0h-1.0zM293.9 177.6h1.0v1.0h-1.0zM328.8 182.4h1.0v1.0h-1.0zM330.6 196.5h1.0v1.0h-1.0zM319.5 188.7h1.0v1.0h-1.0zM324.6 188.2h1.0v1.0h-1.0zM312.6 175.3h1.0v1.0h-1.0zM299.0 183.7h1.0v1.0h-1.0zM324.6 200.5h1.0v1.0h-1.0zM327.9 183.7h1.0v1.0h-1.0zM319.1 180.3h1.0v1.0h-1.0zM317.9 175.2h1.0v1.0h-1.0zM298.3 185.9h1.0v1.0h-1.0zM308.4 184.2h1.0v1.0h-1.0zM297.7 188.1h1.0v1.0h-1.0zM297.0 195.6h1.0v1.0h-1.0zM299.2 185.8h1.0v1.0h-1.0zM292.9 187.2h1.0v1.0h-1.0zM287.5 193.9h1.0v1.0h-1.0zM281.1 192.6h1.0v1.0h-1.0zM303.1 180.1h1.0v1.0h-1.0zM309.3 184.9h1.0v1.0h-1.0zM284.0 191.1h1.0v1.0h-1.0zM295.9 181.9h1.0v1.0h-1.0zM308.4 198.5h1.0v1.0h-1.0zM327.9 176.8h1.0v1.0h-1.0zM310.0 201.7h1.0v1.0h-1.0zM284.7 191.1h1.0v1.0h-1.0zM330.4 196.0h1.0v1.0h-1.0zM298.7 187.8h1.0v1.0h-1.0zM324.4 178.1h1.0v1.0h-1.0zM284.1 169.4h1.0v1.0h-1.0zM294.6 188.2h1.0v1.0h-1.0zM293.7 191.2h1.0v1.0h-1.0zM294.2 187.2h1.0v1.0h-1.0zM316.1 188.1h1.0v1.0h-1.0zM290.8 194.4h1.0v1.0h-1.0zM311.0 194.1h1.0v1.0h-1.0zM290.6 177.8h1.0v1.0h-1.0zM317.6 197.1h1.0v1.0h-1.0zM284.7 184.0h1.0v1.0h-1.0zM321.4 191.7h1.0v1.0h-1.0zM287.6 181.3h1.0v1.0h-1.0zM290.2 170.6h1.0v1.0h-1.0zM312.9 182.7h1.0v1.0h-1.0zM327.1 188.2h1.0v1.0h-1.0zM318.4 193.4h1.0v1.0h-1.0zM313.3 176.5h1.0v1.0h-1.0zM297.7 193.3h1.0v1.0h-1.0zM283.6 184.4h1.0v1.0h-1.0zM312.2 187.8h1.0v1.0h-1.0zM297.5 175.7h1.0v1.0h-1.0zM293.6 186.9h1.0v1.0h-1.0zM304.0 204.7h1.0v1.0h-1.0zM309.1 188.1h1.0v1.0h-1.0zM330.4 196.9h1.0v1.0h-1.0zM317.1 190.3h1.0v1.0h-1.0zM297.3 190.4h1.0v1.0h-1.0zM287.9 189.1h1.0v1.0h-1.0zM319.3 198.9h1.0v1.0h-1.0zM302.0 194.4h1.0v1.0h-1.0zM307.8 177.9h1.0v1.0h-1.0zM313.8 181.1h1.0v1.0h-1.0zM311.0 180.1h1.0v1.0h-1.0zM293.7 198.0h1.0v1.0h-1.0zM316.5 187.7h1.0v1.0h-1.0zM296.3 172.7h1.0v1.0h-1.0zM319.6 195.2h1.0v1.0h-1.0zM294.7 185.3h1.0v1.0h-1.0zM307.0 190.5h1.0v1.0h-1.0zM281.2 185.0h1.0v1.0h-1.0zM304.6 178.8h1.0v1.0h-1.0zM298.9 175.1h1.0v1.0h-1.0zM330.5 188.3h1.0v1.0h-1.0zM285.2 199.8h1.0v1.0h-1.0zM282.1 188.4h1.0v1.0h-1.0zM305.9 188.6h1.0v1.0h-1.0zM308.6 194.4h1.0v1.0h-1.0zM299.1 203.7h1.0v1.0h-1.0zM288.2 192.3h1.0v1.0h-1.0zM327.0 198.3h1.0v1.0h-1.0zM288.9 200.2h1.0v1.0h-1.0zM292.9 189.0h1.0v1.0h-1.0zM330.1 175.1h1.0v1.0h-1.0zM298.0 186.6h1.0v1.0h-1.0zM321.0 179.6h1.0v1.0h-1.0zM326.1 188.3h1.0v1.0h-1.0zM286.1 186.2h1.0v1.0h-1.0zM313.2 183.6h1.0v1.0h-1.0zM300.9 188.3h1.0v1.0h-1.0zM309.1 184.4h1.0v1.0h-1.0zM301.3 203.3h1.0v1.0h-1.0zM312.2 177.1h1.0v1.0h-1.0zM292.0 186.4h1.0v1.0h-1.0zM302.5 192.7h1.0v1.0h-1.0zM292.3 190.4h1.0v1.0h-1.0zM313.0 199.4h1.0v1.0h-1.0zM295.7 192.1h1.0v1.0h-1.0zM309.3 186.3h1.0v1.0h-1.0zM288.6 197.0h1.0v1.0h-1.0zM294.1 174.3h1.0v1.0h-1.0z" fill="#2a0c14" fill-opacity="1"/>
<path d="M318.5 189.9h0.9v0.9h-0.9zM297.4 181.2h0.9v0.9h-0.9zM305.1 190.7h0.9v0.9h-0.9zM315.0 184.0h0.9v0.9h-0.9zM310.8 176.9h0.9v0.9h-0.9zM325.1 190.1h0.9v0.9h-0.9zM291.3 192.6h0.9v0.9h-0.9zM319.9 181.9h0.9v0.9h-0.9zM324.1 193.6h0.9v0.9h-0.9zM330.7 201.6h0.9v0.9h-0.9zM295.7 190.8h0.9v0.9h-0.9zM329.7 187.6h0.9v0.9h-0.9zM281.2 190.9h0.9v0.9h-0.9zM317.7 184.6h0.9v0.9h-0.9zM285.6 192.9h0.9v0.9h-0.9zM285.2 197.6h0.9v0.9h-0.9zM297.8 198.1h0.9v0.9h-0.9zM325.1 180.8h0.9v0.9h-0.9zM330.0 192.7h0.9v0.9h-0.9zM320.5 188.2h0.9v0.9h-0.9zM315.4 196.2h0.9v0.9h-0.9zM292.4 189.2h0.9v0.9h-0.9zM302.4 188.3h0.9v0.9h-0.9zM330.5 188.0h0.9v0.9h-0.9zM296.6 189.9h0.9v0.9h-0.9zM305.2 184.2h0.9v0.9h-0.9zM287.5 182.5h0.9v0.9h-0.9zM315.2 189.2h0.9v0.9h-0.9zM288.1 186.3h0.9v0.9h-0.9zM286.4 177.6h0.9v0.9h-0.9zM298.5 169.1h0.9v0.9h-0.9zM298.3 187.4h0.9v0.9h-0.9zM291.5 203.2h0.9v0.9h-0.9zM317.5 183.6h0.9v0.9h-0.9zM294.4 189.8h0.9v0.9h-0.9zM284.2 192.6h0.9v0.9h-0.9zM282.9 178.8h0.9v0.9h-0.9zM308.7 186.5h0.9v0.9h-0.9zM298.9 199.2h0.9v0.9h-0.9zM313.6 187.8h0.9v0.9h-0.9zM308.1 175.3h0.9v0.9h-0.9zM330.1 183.3h0.9v0.9h-0.9zM324.7 185.4h0.9v0.9h-0.9zM296.7 179.1h0.9v0.9h-0.9zM301.8 194.8h0.9v0.9h-0.9zM300.1 185.7h0.9v0.9h-0.9zM301.3 204.8h0.9v0.9h-0.9zM311.3 192.5h0.9v0.9h-0.9zM311.4 184.3h0.9v0.9h-0.9zM299.7 187.3h0.9v0.9h-0.9zM286.5 192.3h0.9v0.9h-0.9zM323.1 190.7h0.9v0.9h-0.9zM283.2 169.9h0.9v0.9h-0.9zM315.6 181.8h0.9v0.9h-0.9zM308.3 197.3h0.9v0.9h-0.9zM296.6 187.3h0.9v0.9h-0.9zM318.2 186.9h0.9v0.9h-0.9zM323.6 176.3h0.9v0.9h-0.9zM330.7 186.3h0.9v0.9h-0.9zM292.5 177.9h0.9v0.9h-0.9zM299.8 177.4h0.9v0.9h-0.9zM316.5 179.3h0.9v0.9h-0.9zM311.5 193.1h0.9v0.9h-0.9zM314.8 182.1h0.9v0.9h-0.9zM308.0 197.1h0.9v0.9h-0.9zM291.9 182.2h0.9v0.9h-0.9zM326.4 182.9h0.9v0.9h-0.9zM304.5 185.3h0.9v0.9h-0.9zM304.7 177.4h0.9v0.9h-0.9zM291.8 198.5h0.9v0.9h-0.9zM307.3 201.3h0.9v0.9h-0.9zM307.1 172.6h0.9v0.9h-0.9zM292.7 184.5h0.9v0.9h-0.9zM289.4 190.9h0.9v0.9h-0.9zM312.9 179.0h0.9v0.9h-0.9zM322.3 199.7h0.9v0.9h-0.9zM282.9 177.1h0.9v0.9h-0.9zM299.9 194.3h0.9v0.9h-0.9zM286.9 174.2h0.9v0.9h-0.9zM288.4 187.0h0.9v0.9h-0.9zM298.6 190.7h0.9v0.9h-0.9zM321.1 178.3h0.9v0.9h-0.9zM285.1 185.8h0.9v0.9h-0.9zM300.6 199.3h0.9v0.9h-0.9zM303.3 186.8h0.9v0.9h-0.9zM304.8 191.0h0.9v0.9h-0.9zM288.2 174.1h0.9v0.9h-0.9zM314.9 180.5h0.9v0.9h-0.9zM292.7 194.2h0.9v0.9h-0.9zM299.3 182.8h0.9v0.9h-0.9zM281.6 193.6h0.9v0.9h-0.9zM290.8 184.5h0.9v0.9h-0.9zM289.7 185.8h0.9v0.9h-0.9zM316.8 185.9h0.9v0.9h-0.9zM292.9 194.0h0.9v0.9h-0.9zM322.7 196.6h0.9v0.9h-0.9zM323.9 193.2h0.9v0.9h-0.9zM290.8 174.4h0.9v0.9h-0.9zM311.8 193.6h0.9v0.9h-0.9zM299.4 195.3h0.9v0.9h-0.9zM299.2 189.4h0.9v0.9h-0.9zM316.5 184.7h0.9v0.9h-0.9zM313.3 194.9h0.9v0.9h-0.9zM321.5 182.3h0.9v0.9h-0.9zM309.8 193.3h0.9v0.9h-0.9zM327.2 194.7h0.9v0.9h-0.9zM299.4 183.4h0.9v0.9h-0.9zM284.3 180.8h0.9v0.9h-0.9zM318.7 179.9h0.9v0.9h-0.9zM305.7 193.7h0.9v0.9h-0.9zM326.0 187.1h0.9v0.9h-0.9zM310.5 185.2h0.9v0.9h-0.9zM304.0 172.1h0.9v0.9h-0.9zM301.6 190.6h0.9v0.9h-0.9zM304.5 193.6h0.9v0.9h-0.9zM305.4 181.5h0.9v0.9h-0.9zM306.4 192.4h0.9v0.9h-0.9zM317.9 176.4h0.9v0.9h-0.9zM300.9 198.7h0.9v0.9h-0.9zM308.6 190.0h0.9v0.9h-0.9zM319.4 187.5h0.9v0.9h-0.9zM291.8 183.0h0.9v0.9h-0.9zM284.6 188.5h0.9v0.9h-0.9zM285.1 183.6h0.9v0.9h-0.9zM318.6 184.5h0.9v0.9h-0.9zM315.0 185.9h0.9v0.9h-0.9zM316.5 184.3h0.9v0.9h-0.9zM315.5 187.3h0.9v0.9h-0.9zM321.8 172.7h0.9v0.9h-0.9zM324.6 191.4h0.9v0.9h-0.9zM306.8 192.7h0.9v0.9h-0.9zM281.0 193.4h0.9v0.9h-0.9zM293.9 186.5h0.9v0.9h-0.9zM296.4 186.5h0.9v0.9h-0.9zM308.7 202.8h0.9v0.9h-0.9zM306.4 184.7h0.9v0.9h-0.9zM296.0 188.2h0.9v0.9h-0.9zM324.3 192.1h0.9v0.9h-0.9zM293.6 172.1h0.9v0.9h-0.9zM290.9 196.4h0.9v0.9h-0.9zM299.5 190.2h0.9v0.9h-0.9zM304.1 176.4h0.9v0.9h-0.9zM299.1 187.7h0.9v0.9h-0.9zM321.0 192.5h0.9v0.9h-0.9zM308.7 204.1h0.9v0.9h-0.9zM283.3 183.1h0.9v0.9h-0.9zM301.3 196.1h0.9v0.9h-0.9zM309.1 184.1h0.9v0.9h-0.9zM320.7 192.7h0.9v0.9h-0.9zM295.4 183.5h0.9v0.9h-0.9zM310.5 173.0h0.9v0.9h-0.9zM303.6 195.0h0.9v0.9h-0.9zM324.9 183.5h0.9v0.9h-0.9zM283.6 176.6h0.9v0.9h-0.9zM283.2 191.6h0.9v0.9h-0.9zM324.1 196.7h0.9v0.9h-0.9zM289.8 191.7h0.9v0.9h-0.9z" fill="#7a2030" fill-opacity="1"/>
<path d="M369.4 182.6h0.9v0.9h-0.9zM364.1 180.9h0.9v0.9h-0.9zM356.7 180.2h0.9v0.9h-0.9zM360.2 186.8h0.9v0.9h-0.9zM363.6 183.0h0.9v0.9h-0.9zM365.6 183.5h0.9v0.9h-0.9zM364.0 185.5h0.9v0.9h-0.9zM365.2 176.7h0.9v0.9h-0.9zM352.7 187.1h0.9v0.9h-0.9zM360.8 191.8h0.9v0.9h-0.9zM359.9 182.8h0.9v0.9h-0.9zM371.6 186.4h0.9v0.9h-0.9zM374.4 186.2h0.9v0.9h-0.9zM360.1 186.9h0.9v0.9h-0.9zM356.2 183.2h0.9v0.9h-0.9zM357.7 183.9h0.9v0.9h-0.9zM366.8 183.1h0.9v0.9h-0.9zM363.7 183.0h0.9v0.9h-0.9zM367.5 175.8h0.9v0.9h-0.9zM360.1 185.1h0.9v0.9h-0.9zM354.2 187.8h0.9v0.9h-0.9zM363.0 188.7h0.9v0.9h-0.9zM368.0 186.6h0.9v0.9h-0.9zM360.5 181.1h0.9v0.9h-0.9zM360.0 183.1h0.9v0.9h-0.9zM363.2 183.1h0.9v0.9h-0.9zM382.2 179.5h0.9v0.9h-0.9zM369.4 183.1h0.9v0.9h-0.9zM359.9 187.6h0.9v0.9h-0.9zM361.5 180.7h0.9v0.9h-0.9zM364.3 184.0h0.9v0.9h-0.9zM347.6 185.2h0.9v0.9h-0.9zM354.4 182.2h0.9v0.9h-0.9zM364.8 185.6h0.9v0.9h-0.9zM359.5 191.5h0.9v0.9h-0.9zM364.3 182.6h0.9v0.9h-0.9zM363.1 184.2h0.9v0.9h-0.9zM346.6 179.6h0.9v0.9h-0.9zM352.1 191.2h0.9v0.9h-0.9zM360.3 183.7h0.9v0.9h-0.9zM357.7 187.7h0.9v0.9h-0.9zM361.7 190.0h0.9v0.9h-0.9zM366.8 189.8h0.9v0.9h-0.9zM360.7 185.8h0.9v0.9h-0.9zM358.6 184.1h0.9v0.9h-0.9zM349.8 182.7h0.9v0.9h-0.9zM355.1 182.5h0.9v0.9h-0.9zM369.7 185.4h0.9v0.9h-0.9zM369.8 187.3h0.9v0.9h-0.9zM367.7 187.8h0.9v0.9h-0.9zM357.4 187.2h0.9v0.9h-0.9zM359.3 182.9h0.9v0.9h-0.9zM369.6 191.5h0.9v0.9h-0.9zM354.9 190.1h0.9v0.9h-0.9zM367.1 181.9h0.9v0.9h-0.9zM363.3 185.8h0.9v0.9h-0.9zM364.0 183.5h0.9v0.9h-0.9zM352.8 184.7h0.9v0.9h-0.9zM367.3 187.1h0.9v0.9h-0.9zM366.0 188.1h0.9v0.9h-0.9zM354.8 184.5h0.9v0.9h-0.9zM363.8 187.8h0.9v0.9h-0.9zM362.6 186.2h0.9v0.9h-0.9zM362.4 191.3h0.9v0.9h-0.9zM346.8 184.5h0.9v0.9h-0.9zM378.2 185.3h0.9v0.9h-0.9zM349.1 185.0h0.9v0.9h-0.9zM351.8 182.4h0.9v0.9h-0.9zM363.0 190.0h0.9v0.9h-0.9zM364.6 186.7h0.9v0.9h-0.9zM368.4 185.2h0.9v0.9h-0.9zM355.7 184.3h0.9v0.9h-0.9zM363.8 183.7h0.9v0.9h-0.9zM357.0 183.5h0.9v0.9h-0.9zM351.4 181.3h0.9v0.9h-0.9zM360.9 183.5h0.9v0.9h-0.9zM361.8 189.1h0.9v0.9h-0.9zM363.5 184.5h0.9v0.9h-0.9zM353.6 181.2h0.9v0.9h-0.9zM364.0 181.8h0.9v0.9h-0.9zM364.4 181.2h0.9v0.9h-0.9zM362.4 184.4h0.9v0.9h-0.9zM368.2 183.4h0.9v0.9h-0.9zM359.0 185.4h0.9v0.9h-0.9zM361.9 190.0h0.9v0.9h-0.9zM359.8 182.9h0.9v0.9h-0.9zM359.3 186.1h0.9v0.9h-0.9zM363.1 186.8h0.9v0.9h-0.9zM352.2 192.5h0.9v0.9h-0.9zM373.9 184.5h0.9v0.9h-0.9zM353.4 185.1h0.9v0.9h-0.9zM364.3 177.5h0.9v0.9h-0.9zM361.6 179.9h0.9v0.9h-0.9zM364.6 189.0h0.9v0.9h-0.9zM368.5 179.8h0.9v0.9h-0.9zM370.8 187.5h0.9v0.9h-0.9zM359.1 186.2h0.9v0.9h-0.9zM371.7 183.5h0.9v0.9h-0.9zM361.4 182.8h0.9v0.9h-0.9zM369.3 177.8h0.9v0.9h-0.9zM371.1 181.5h0.9v0.9h-0.9zM367.7 179.4h0.9v0.9h-0.9zM355.2 182.7h0.9v0.9h-0.9zM367.1 179.5h0.9v0.9h-0.9zM365.6 182.6h0.9v0.9h-0.9zM369.9 183.6h0.9v0.9h-0.9zM364.8 184.1h0.9v0.9h-0.9zM373.6 183.5h0.9v0.9h-0.9zM361.3 190.9h0.9v0.9h-0.9zM362.0 186.8h0.9v0.9h-0.9zM356.5 185.2h0.9v0.9h-0.9zM346.2 184.9h0.9v0.9h-0.9zM357.1 179.8h0.9v0.9h-0.9zM352.0 188.2h0.9v0.9h-0.9zM364.4 179.8h0.9v0.9h-0.9zM373.7 182.4h0.9v0.9h-0.9zM359.0 185.4h0.9v0.9h-0.9zM353.8 179.5h0.9v0.9h-0.9zM356.5 188.4h0.9v0.9h-0.9zM367.9 179.6h0.9v0.9h-0.9zM369.6 184.7h0.9v0.9h-0.9zM364.9 184.8h0.9v0.9h-0.9zM364.3 181.4h0.9v0.9h-0.9zM355.4 182.4h0.9v0.9h-0.9zM359.0 186.6h0.9v0.9h-0.9zM353.3 189.7h0.9v0.9h-0.9zM357.2 182.7h0.9v0.9h-0.9zM366.2 186.0h0.9v0.9h-0.9zM359.2 181.2h0.9v0.9h-0.9zM354.8 179.5h0.9v0.9h-0.9zM369.2 188.0h0.9v0.9h-0.9zM374.1 186.2h0.9v0.9h-0.9zM363.7 187.0h0.9v0.9h-0.9zM367.9 183.8h0.9v0.9h-0.9zM363.9 191.4h0.9v0.9h-0.9zM350.1 180.1h0.9v0.9h-0.9zM355.0 187.0h0.9v0.9h-0.9zM369.5 183.5h0.9v0.9h-0.9zM366.0 184.4h0.9v0.9h-0.9zM363.5 182.9h0.9v0.9h-0.9zM361.3 184.6h0.9v0.9h-0.9zM369.1 191.7h0.9v0.9h-0.9zM349.3 186.3h0.9v0.9h-0.9zM361.5 187.7h0.9v0.9h-0.9zM368.7 187.1h0.9v0.9h-0.9zM367.0 181.6h0.9v0.9h-0.9zM350.0 189.9h0.9v0.9h-0.9zM369.6 181.6h0.9v0.9h-0.9zM370.2 186.7h0.9v0.9h-0.9zM345.0 187.5h0.9v0.9h-0.9zM354.8 188.3h0.9v0.9h-0.9zM356.9 182.2h0.9v0.9h-0.9zM351.1 183.9h0.9v0.9h-0.9zM368.4 182.5h0.9v0.9h-0.9zM349.0 191.4h0.9v0.9h-0.9zM373.9 186.8h0.9v0.9h-0.9zM357.9 180.7h0.9v0.9h-0.9zM350.5 186.4h0.9v0.9h-0.9zM370.3 181.2h0.9v0.9h-0.9zM361.5 183.7h0.9v0.9h-0.9zM359.8 186.2h0.9v0.9h-0.9zM375.6 182.6h0.9v0.9h-0.9zM367.2 188.1h0.9v0.9h-0.9zM359.6 184.1h0.9v0.9h-0.9zM352.5 188.0h0.9v0.9h-0.9zM357.9 182.5h0.9v0.9h-0.9zM362.0 181.9h0.9v0.9h-0.9zM354.5 183.7h0.9v0.9h-0.9zM371.5 183.9h0.9v0.9h-0.9zM365.1 179.9h0.9v0.9h-0.9zM348.4 190.4h0.9v0.9h-0.9zM358.8 179.7h0.9v0.9h-0.9zM360.8 186.5h0.9v0.9h-0.9zM349.8 181.8h0.9v0.9h-0.9zM363.3 181.7h0.9v0.9h-0.9zM366.9 187.7h0.9v0.9h-0.9zM364.5 183.2h0.9v0.9h-0.9zM361.2 182.6h0.9v0.9h-0.9zM360.6 185.6h0.9v0.9h-0.9zM359.5 187.7h0.9v0.9h-0.9zM379.0 182.9h0.9v0.9h-0.9zM363.8 187.2h0.9v0.9h-0.9zM365.9 183.8h0.9v0.9h-0.9zM358.3 187.8h0.9v0.9h-0.9zM365.7 186.2h0.9v0.9h-0.9zM356.1 186.6h0.9v0.9h-0.9zM366.9 184.0h0.9v0.9h-0.9zM365.9 191.5h0.9v0.9h-0.9zM348.8 186.5h0.9v0.9h-0.9zM353.6 180.3h0.9v0.9h-0.9zM359.9 186.3h0.9v0.9h-0.9zM361.9 180.9h0.9v0.9h-0.9zM351.8 182.8h0.9v0.9h-0.9zM361.6 182.0h0.9v0.9h-0.9zM351.3 190.2h0.9v0.9h-0.9zM355.8 184.1h0.9v0.9h-0.9zM357.8 182.7h0.9v0.9h-0.9zM361.8 183.6h0.9v0.9h-0.9zM365.7 180.8h0.9v0.9h-0.9zM351.4 190.8h0.9v0.9h-0.9zM361.0 187.1h0.9v0.9h-0.9zM369.5 186.4h0.9v0.9h-0.9zM361.7 179.6h0.9v0.9h-0.9zM350.7 187.7h0.9v0.9h-0.9zM366.1 186.4h0.9v0.9h-0.9zM350.3 177.8h0.9v0.9h-0.9zM354.3 180.8h0.9v0.9h-0.9zM362.6 181.3h0.9v0.9h-0.9zM372.2 182.6h0.9v0.9h-0.9zM357.7 187.4h0.9v0.9h-0.9zM363.7 181.7h0.9v0.9h-0.9zM367.1 190.7h0.9v0.9h-0.9zM353.2 183.8h0.9v0.9h-0.9zM354.2 178.4h0.9v0.9h-0.9zM365.8 186.8h0.9v0.9h-0.9zM368.1 186.0h0.9v0.9h-0.9zM347.8 184.5h0.9v0.9h-0.9zM357.0 180.8h0.9v0.9h-0.9zM354.0 187.1h0.9v0.9h-0.9zM359.5 190.9h0.9v0.9h-0.9zM364.7 178.5h0.9v0.9h-0.9zM367.6 188.6h0.9v0.9h-0.9zM361.7 180.7h0.9v0.9h-0.9zM373.5 180.4h0.9v0.9h-0.9zM360.9 178.5h0.9v0.9h-0.9zM353.0 179.1h0.9v0.9h-0.9zM368.9 188.4h0.9v0.9h-0.9zM358.7 180.2h0.9v0.9h-0.9zM361.1 185.8h0.9v0.9h-0.9zM351.1 180.9h0.9v0.9h-0.9zM360.8 186.9h0.9v0.9h-0.9zM362.0 186.0h0.9v0.9h-0.9zM353.0 176.6h0.9v0.9h-0.9zM363.6 181.6h0.9v0.9h-0.9zM360.7 183.4h0.9v0.9h-0.9zM364.8 182.1h0.9v0.9h-0.9zM371.4 184.7h0.9v0.9h-0.9zM365.1 186.6h0.9v0.9h-0.9zM368.6 185.9h0.9v0.9h-0.9zM349.5 182.6h0.9v0.9h-0.9zM374.2 186.1h0.9v0.9h-0.9zM365.3 186.1h0.9v0.9h-0.9zM357.1 182.4h0.9v0.9h-0.9zM357.1 188.3h0.9v0.9h-0.9zM364.0 190.3h0.9v0.9h-0.9zM364.9 190.7h0.9v0.9h-0.9zM364.6 180.8h0.9v0.9h-0.9zM373.4 185.7h0.9v0.9h-0.9zM369.7 185.3h0.9v0.9h-0.9zM359.3 185.1h0.9v0.9h-0.9zM353.8 180.7h0.9v0.9h-0.9zM355.4 182.9h0.9v0.9h-0.9zM352.2 184.3h0.9v0.9h-0.9zM363.6 191.2h0.9v0.9h-0.9zM374.1 184.4h0.9v0.9h-0.9zM367.6 183.9h0.9v0.9h-0.9zM364.2 184.5h0.9v0.9h-0.9zM357.8 184.8h0.9v0.9h-0.9zM351.3 186.0h0.9v0.9h-0.9zM359.5 181.1h0.9v0.9h-0.9zM359.0 186.4h0.9v0.9h-0.9zM356.8 186.1h0.9v0.9h-0.9zM365.4 189.7h0.9v0.9h-0.9zM354.0 184.2h0.9v0.9h-0.9zM365.0 189.5h0.9v0.9h-0.9zM363.3 187.0h0.9v0.9h-0.9zM351.4 182.7h0.9v0.9h-0.9zM372.9 183.7h0.9v0.9h-0.9zM376.4 182.2h0.9v0.9h-0.9zM359.6 179.4h0.9v0.9h-0.9zM365.9 185.5h0.9v0.9h-0.9zM375.4 185.1h0.9v0.9h-0.9zM359.8 180.0h0.9v0.9h-0.9zM360.9 187.7h0.9v0.9h-0.9zM366.6 188.6h0.9v0.9h-0.9zM367.5 184.4h0.9v0.9h-0.9zM365.7 185.2h0.9v0.9h-0.9zM352.3 190.2h0.9v0.9h-0.9zM364.1 181.2h0.9v0.9h-0.9zM364.2 185.5h0.9v0.9h-0.9zM368.4 189.3h0.9v0.9h-0.9zM340.5 186.4h0.9v0.9h-0.9zM372.1 181.5h0.9v0.9h-0.9zM348.6 185.5h0.9v0.9h-0.9zM363.8 185.7h0.9v0.9h-0.9zM353.8 183.1h0.9v0.9h-0.9zM362.8 187.0h0.9v0.9h-0.9zM376.7 185.6h0.9v0.9h-0.9zM357.3 176.9h0.9v0.9h-0.9zM368.9 184.2h0.9v0.9h-0.9zM360.7 181.4h0.9v0.9h-0.9zM366.6 178.7h0.9v0.9h-0.9zM362.3 185.0h0.9v0.9h-0.9zM363.6 188.9h0.9v0.9h-0.9zM360.8 184.9h0.9v0.9h-0.9zM367.4 179.5h0.9v0.9h-0.9zM359.5 184.8h0.9v0.9h-0.9zM368.1 182.0h0.9v0.9h-0.9zM367.1 185.9h0.9v0.9h-0.9zM351.2 179.8h0.9v0.9h-0.9zM351.5 185.1h0.9v0.9h-0.9zM362.9 187.0h0.9v0.9h-0.9zM367.2 182.8h0.9v0.9h-0.9zM368.9 187.3h0.9v0.9h-0.9zM364.8 186.2h0.9v0.9h-0.9zM352.6 185.8h0.9v0.9h-0.9zM354.3 180.7h0.9v0.9h-0.9zM359.1 185.1h0.9v0.9h-0.9zM361.1 183.5h0.9v0.9h-0.9zM354.5 185.2h0.9v0.9h-0.9zM356.3 180.0h0.9v0.9h-0.9zM362.1 189.4h0.9v0.9h-0.9zM358.7 181.1h0.9v0.9h-0.9zM371.1 190.2h0.9v0.9h-0.9zM359.5 183.9h0.9v0.9h-0.9zM363.0 194.3h0.9v0.9h-0.9zM362.4 187.9h0.9v0.9h-0.9zM364.6 178.6h0.9v0.9h-0.9zM353.8 180.6h0.9v0.9h-0.9zM364.5 184.9h0.9v0.9h-0.9zM374.0 183.7h0.9v0.9h-0.9zM363.6 184.8h0.9v0.9h-0.9zM362.5 192.2h0.9v0.9h-0.9zM363.5 189.4h0.9v0.9h-0.9zM370.5 182.6h0.9v0.9h-0.9zM366.3 183.3h0.9v0.9h-0.9zM362.3 185.1h0.9v0.9h-0.9zM361.6 183.1h0.9v0.9h-0.9zM372.4 183.7h0.9v0.9h-0.9zM366.4 190.1h0.9v0.9h-0.9zM365.9 188.0h0.9v0.9h-0.9zM371.2 188.2h0.9v0.9h-0.9zM373.5 179.9h0.9v0.9h-0.9zM375.2 184.7h0.9v0.9h-0.9zM349.3 182.5h0.9v0.9h-0.9zM351.8 184.5h0.9v0.9h-0.9zM351.1 181.3h0.9v0.9h-0.9zM363.6 185.1h0.9v0.9h-0.9zM355.9 183.8h0.9v0.9h-0.9zM360.8 184.8h0.9v0.9h-0.9zM361.5 183.9h0.9v0.9h-0.9zM367.6 179.3h0.9v0.9h-0.9zM358.1 185.0h0.9v0.9h-0.9zM358.7 182.8h0.9v0.9h-0.9zM358.4 185.3h0.9v0.9h-0.9zM370.2 184.0h0.9v0.9h-0.9zM359.6 185.8h0.9v0.9h-0.9zM359.8 178.2h0.9v0.9h-0.9zM363.4 183.4h0.9v0.9h-0.9zM357.5 186.7h0.9v0.9h-0.9zM361.8 182.7h0.9v0.9h-0.9zM346.3 178.9h0.9v0.9h-0.9zM361.6 184.2h0.9v0.9h-0.9zM364.6 185.3h0.9v0.9h-0.9zM358.2 180.4h0.9v0.9h-0.9zM353.8 184.1h0.9v0.9h-0.9zM353.5 187.1h0.9v0.9h-0.9zM352.2 178.7h0.9v0.9h-0.9zM360.1 178.7h0.9v0.9h-0.9zM372.9 181.3h0.9v0.9h-0.9zM361.1 183.8h0.9v0.9h-0.9zM355.8 178.8h0.9v0.9h-0.9zM348.5 187.5h0.9v0.9h-0.9zM368.6 191.7h0.9v0.9h-0.9zM351.3 186.4h0.9v0.9h-0.9zM361.4 187.4h0.9v0.9h-0.9zM357.9 187.0h0.9v0.9h-0.9zM367.8 186.6h0.9v0.9h-0.9zM371.6 184.0h0.9v0.9h-0.9zM372.3 182.3h0.9v0.9h-0.9zM373.2 175.5h0.9v0.9h-0.9zM361.6 182.0h0.9v0.9h-0.9zM361.5 188.0h0.9v0.9h-0.9zM366.5 184.9h0.9v0.9h-0.9zM373.4 179.7h0.9v0.9h-0.9zM355.8 189.6h0.9v0.9h-0.9zM363.8 177.8h0.9v0.9h-0.9zM363.9 180.7h0.9v0.9h-0.9zM371.8 188.4h0.9v0.9h-0.9zM357.7 188.9h0.9v0.9h-0.9zM355.7 187.6h0.9v0.9h-0.9zM365.6 184.2h0.9v0.9h-0.9zM351.5 183.7h0.9v0.9h-0.9zM345.5 182.7h0.9v0.9h-0.9zM348.5 188.6h0.9v0.9h-0.9zM354.7 176.6h0.9v0.9h-0.9zM365.6 185.8h0.9v0.9h-0.9zM358.0 191.6h0.9v0.9h-0.9zM366.9 184.8h0.9v0.9h-0.9zM357.0 174.8h0.9v0.9h-0.9zM364.9 187.8h0.9v0.9h-0.9zM357.4 179.9h0.9v0.9h-0.9zM361.2 179.1h0.9v0.9h-0.9zM361.6 187.1h0.9v0.9h-0.9zM372.1 185.5h0.9v0.9h-0.9zM362.9 187.1h0.9v0.9h-0.9zM371.3 183.5h0.9v0.9h-0.9zM352.9 182.0h0.9v0.9h-0.9zM352.7 181.7h0.9v0.9h-0.9zM360.7 185.7h0.9v0.9h-0.9zM362.6 184.8h0.9v0.9h-0.9zM359.0 186.0h0.9v0.9h-0.9zM367.7 187.1h0.9v0.9h-0.9zM372.0 183.6h0.9v0.9h-0.9zM359.7 190.2h0.9v0.9h-0.9zM362.9 186.0h0.9v0.9h-0.9zM359.1 187.8h0.9v0.9h-0.9zM358.7 181.3h0.9v0.9h-0.9zM361.1 183.1h0.9v0.9h-0.9zM367.3 183.4h0.9v0.9h-0.9zM362.4 183.9h0.9v0.9h-0.9zM363.9 182.5h0.9v0.9h-0.9zM369.2 179.9h0.9v0.9h-0.9zM358.8 182.3h0.9v0.9h-0.9zM366.0 184.7h0.9v0.9h-0.9zM364.9 183.5h0.9v0.9h-0.9zM356.5 180.9h0.9v0.9h-0.9zM359.2 182.8h0.9v0.9h-0.9zM363.5 185.8h0.9v0.9h-0.9zM368.3 184.2h0.9v0.9h-0.9zM356.3 181.1h0.9v0.9h-0.9zM361.9 185.8h0.9v0.9h-0.9zM375.1 185.2h0.9v0.9h-0.9zM373.8 190.8h0.9v0.9h-0.9zM354.2 188.6h0.9v0.9h-0.9zM369.5 189.0h0.9v0.9h-0.9zM361.4 187.8h0.9v0.9h-0.9zM358.1 184.4h0.9v0.9h-0.9zM361.6 190.5h0.9v0.9h-0.9zM360.0 187.8h0.9v0.9h-0.9zM362.0 182.3h0.9v0.9h-0.9zM363.2 186.8h0.9v0.9h-0.9zM356.5 186.7h0.9v0.9h-0.9zM356.5 181.7h0.9v0.9h-0.9zM363.0 183.8h0.9v0.9h-0.9zM354.6 179.2h0.9v0.9h-0.9zM361.7 185.4h0.9v0.9h-0.9zM358.3 185.2h0.9v0.9h-0.9zM350.8 185.9h0.9v0.9h-0.9zM364.4 185.5h0.9v0.9h-0.9zM357.2 184.9h0.9v0.9h-0.9zM362.4 188.1h0.9v0.9h-0.9zM363.4 185.4h0.9v0.9h-0.9zM356.4 187.4h0.9v0.9h-0.9zM369.7 183.0h0.9v0.9h-0.9zM366.0 185.6h0.9v0.9h-0.9zM361.2 180.4h0.9v0.9h-0.9zM373.8 178.4h0.9v0.9h-0.9zM363.6 183.4h0.9v0.9h-0.9zM369.5 183.2h0.9v0.9h-0.9zM361.8 186.6h0.9v0.9h-0.9zM364.7 182.9h0.9v0.9h-0.9zM366.3 185.9h0.9v0.9h-0.9zM368.4 182.9h0.9v0.9h-0.9zM361.2 183.3h0.9v0.9h-0.9zM355.6 185.4h0.9v0.9h-0.9zM364.4 189.3h0.9v0.9h-0.9zM359.2 185.9h0.9v0.9h-0.9zM369.5 184.2h0.9v0.9h-0.9zM361.9 185.0h0.9v0.9h-0.9zM356.7 181.3h0.9v0.9h-0.9zM369.3 185.2h0.9v0.9h-0.9zM361.0 180.5h0.9v0.9h-0.9zM362.3 188.5h0.9v0.9h-0.9zM353.5 181.7h0.9v0.9h-0.9zM369.2 189.3h0.9v0.9h-0.9zM372.3 182.8h0.9v0.9h-0.9zM365.7 182.1h0.9v0.9h-0.9zM365.1 183.4h0.9v0.9h-0.9zM362.9 189.0h0.9v0.9h-0.9zM363.9 183.8h0.9v0.9h-0.9zM361.9 185.5h0.9v0.9h-0.9zM357.9 185.3h0.9v0.9h-0.9zM365.7 189.7h0.9v0.9h-0.9zM347.1 180.7h0.9v0.9h-0.9zM352.9 187.5h0.9v0.9h-0.9zM378.5 185.2h0.9v0.9h-0.9zM362.3 188.3h0.9v0.9h-0.9zM344.5 184.0h0.9v0.9h-0.9zM339.8 185.1h0.9v0.9h-0.9zM358.0 183.0h0.9v0.9h-0.9zM363.9 182.7h0.9v0.9h-0.9zM369.2 184.6h0.9v0.9h-0.9zM364.1 192.9h0.9v0.9h-0.9zM358.4 187.6h0.9v0.9h-0.9zM355.8 188.7h0.9v0.9h-0.9zM368.2 185.1h0.9v0.9h-0.9zM368.4 189.9h0.9v0.9h-0.9zM371.1 184.6h0.9v0.9h-0.9zM361.1 188.2h0.9v0.9h-0.9zM351.3 182.6h0.9v0.9h-0.9zM364.9 186.5h0.9v0.9h-0.9zM374.4 190.4h0.9v0.9h-0.9zM363.8 186.0h0.9v0.9h-0.9zM352.4 184.0h0.9v0.9h-0.9zM363.3 183.9h0.9v0.9h-0.9zM361.9 186.6h0.9v0.9h-0.9zM354.9 182.7h0.9v0.9h-0.9zM349.2 188.3h0.9v0.9h-0.9zM354.2 179.0h0.9v0.9h-0.9zM366.8 183.9h0.9v0.9h-0.9zM368.2 183.4h0.9v0.9h-0.9zM376.2 186.9h0.9v0.9h-0.9zM362.5 185.0h0.9v0.9h-0.9zM360.1 187.2h0.9v0.9h-0.9zM375.3 183.2h0.9v0.9h-0.9zM354.0 186.5h0.9v0.9h-0.9zM368.9 179.7h0.9v0.9h-0.9zM356.7 181.3h0.9v0.9h-0.9zM365.4 186.2h0.9v0.9h-0.9zM356.4 180.9h0.9v0.9h-0.9zM366.2 177.9h0.9v0.9h-0.9zM366.0 184.1h0.9v0.9h-0.9zM374.8 187.8h0.9v0.9h-0.9zM357.5 183.7h0.9v0.9h-0.9zM359.6 182.2h0.9v0.9h-0.9zM362.1 187.7h0.9v0.9h-0.9zM351.1 183.9h0.9v0.9h-0.9zM371.8 187.0h0.9v0.9h-0.9zM355.9 182.0h0.9v0.9h-0.9z" fill="#3a0810" fill-opacity="1"/>
<path d="M360.1 181.5h0.9v0.9h-0.9zM368.0 184.1h0.9v0.9h-0.9zM360.8 181.7h0.9v0.9h-0.9zM362.0 183.2h0.9v0.9h-0.9zM370.3 183.3h0.9v0.9h-0.9zM364.0 185.7h0.9v0.9h-0.9zM366.1 183.7h0.9v0.9h-0.9zM354.9 186.2h0.9v0.9h-0.9zM365.9 183.3h0.9v0.9h-0.9zM363.2 182.5h0.9v0.9h-0.9zM360.0 181.7h0.9v0.9h-0.9zM365.5 184.8h0.9v0.9h-0.9zM364.2 185.2h0.9v0.9h-0.9zM365.6 184.2h0.9v0.9h-0.9zM360.0 184.9h0.9v0.9h-0.9zM368.2 185.0h0.9v0.9h-0.9zM368.4 183.3h0.9v0.9h-0.9zM359.7 186.0h0.9v0.9h-0.9zM361.2 184.4h0.9v0.9h-0.9zM362.8 184.0h0.9v0.9h-0.9zM362.4 183.2h0.9v0.9h-0.9zM356.5 187.0h0.9v0.9h-0.9zM364.3 181.0h0.9v0.9h-0.9zM359.9 182.2h0.9v0.9h-0.9zM360.6 180.0h0.9v0.9h-0.9zM365.8 186.6h0.9v0.9h-0.9zM362.5 185.2h0.9v0.9h-0.9zM365.9 182.0h0.9v0.9h-0.9zM368.3 181.4h0.9v0.9h-0.9zM361.2 183.4h0.9v0.9h-0.9zM368.4 184.2h0.9v0.9h-0.9zM363.0 182.7h0.9v0.9h-0.9zM363.9 184.1h0.9v0.9h-0.9zM366.4 186.2h0.9v0.9h-0.9zM366.4 184.0h0.9v0.9h-0.9zM362.9 186.5h0.9v0.9h-0.9zM364.3 184.0h0.9v0.9h-0.9zM370.5 186.5h0.9v0.9h-0.9zM365.7 183.8h0.9v0.9h-0.9zM361.0 185.7h0.9v0.9h-0.9zM361.7 185.5h0.9v0.9h-0.9zM360.4 184.2h0.9v0.9h-0.9zM365.1 184.2h0.9v0.9h-0.9zM364.4 184.6h0.9v0.9h-0.9zM359.1 182.3h0.9v0.9h-0.9zM362.9 186.8h0.9v0.9h-0.9zM363.0 182.5h0.9v0.9h-0.9zM360.9 184.1h0.9v0.9h-0.9zM368.1 183.1h0.9v0.9h-0.9zM365.7 184.3h0.9v0.9h-0.9zM362.1 182.5h0.9v0.9h-0.9zM362.9 182.9h0.9v0.9h-0.9zM365.6 181.2h0.9v0.9h-0.9zM367.9 185.2h0.9v0.9h-0.9zM365.8 186.3h0.9v0.9h-0.9zM365.9 181.3h0.9v0.9h-0.9zM363.7 184.7h0.9v0.9h-0.9zM360.8 182.2h0.9v0.9h-0.9zM365.2 184.8h0.9v0.9h-0.9zM361.8 183.6h0.9v0.9h-0.9zM361.5 183.1h0.9v0.9h-0.9zM363.3 185.7h0.9v0.9h-0.9zM357.2 183.5h0.9v0.9h-0.9zM369.8 184.5h0.9v0.9h-0.9zM364.1 185.3h0.9v0.9h-0.9zM359.6 182.1h0.9v0.9h-0.9zM357.0 181.7h0.9v0.9h-0.9zM364.5 185.3h0.9v0.9h-0.9zM361.9 182.9h0.9v0.9h-0.9zM365.1 185.0h0.9v0.9h-0.9zM364.5 181.0h0.9v0.9h-0.9zM361.4 180.1h0.9v0.9h-0.9zM364.4 182.7h0.9v0.9h-0.9zM360.9 186.3h0.9v0.9h-0.9zM368.7 184.8h0.9v0.9h-0.9zM364.6 184.3h0.9v0.9h-0.9zM361.2 183.9h0.9v0.9h-0.9zM370.9 182.6h0.9v0.9h-0.9zM360.9 184.3h0.9v0.9h-0.9zM367.0 185.3h0.9v0.9h-0.9zM359.7 183.8h0.9v0.9h-0.9zM362.5 182.1h0.9v0.9h-0.9zM363.8 183.3h0.9v0.9h-0.9zM367.1 184.7h0.9v0.9h-0.9zM360.5 184.1h0.9v0.9h-0.9zM362.1 183.0h0.9v0.9h-0.9zM361.6 185.7h0.9v0.9h-0.9zM361.9 181.3h0.9v0.9h-0.9zM360.5 185.3h0.9v0.9h-0.9zM371.9 182.4h0.9v0.9h-0.9zM362.1 183.5h0.9v0.9h-0.9zM358.0 184.6h0.9v0.9h-0.9zM363.3 184.4h0.9v0.9h-0.9zM372.2 183.6h0.9v0.9h-0.9zM366.6 185.3h0.9v0.9h-0.9zM361.0 183.1h0.9v0.9h-0.9zM369.6 185.1h0.9v0.9h-0.9zM364.1 182.3h0.9v0.9h-0.9zM366.9 184.8h0.9v0.9h-0.9zM372.0 186.3h0.9v0.9h-0.9zM366.6 184.4h0.9v0.9h-0.9zM363.7 183.1h0.9v0.9h-0.9zM364.7 184.4h0.9v0.9h-0.9zM366.0 185.7h0.9v0.9h-0.9zM364.7 183.2h0.9v0.9h-0.9zM366.6 186.4h0.9v0.9h-0.9zM360.3 184.7h0.9v0.9h-0.9zM365.6 184.8h0.9v0.9h-0.9zM365.5 183.9h0.9v0.9h-0.9zM363.1 186.6h0.9v0.9h-0.9zM370.2 181.8h0.9v0.9h-0.9zM353.6 184.7h0.9v0.9h-0.9zM360.9 183.2h0.9v0.9h-0.9zM357.3 184.6h0.9v0.9h-0.9zM363.3 183.2h0.9v0.9h-0.9zM367.0 187.8h0.9v0.9h-0.9zM369.2 185.8h0.9v0.9h-0.9zM361.9 185.0h0.9v0.9h-0.9zM363.4 185.8h0.9v0.9h-0.9zM365.8 183.9h0.9v0.9h-0.9zM365.6 182.9h0.9v0.9h-0.9zM366.6 186.3h0.9v0.9h-0.9zM362.1 184.9h0.9v0.9h-0.9zM357.0 185.5h0.9v0.9h-0.9zM366.9 182.4h0.9v0.9h-0.9zM370.3 184.2h0.9v0.9h-0.9zM356.8 181.9h0.9v0.9h-0.9zM366.9 183.6h0.9v0.9h-0.9zM367.8 181.6h0.9v0.9h-0.9zM363.1 185.5h0.9v0.9h-0.9zM360.9 185.1h0.9v0.9h-0.9zM362.1 184.5h0.9v0.9h-0.9zM364.8 187.5h0.9v0.9h-0.9zM358.7 185.2h0.9v0.9h-0.9zM368.6 182.3h0.9v0.9h-0.9zM363.8 187.6h0.9v0.9h-0.9zM367.6 179.4h0.9v0.9h-0.9zM362.6 181.3h0.9v0.9h-0.9zM364.7 182.9h0.9v0.9h-0.9zM361.3 182.7h0.9v0.9h-0.9zM364.6 183.3h0.9v0.9h-0.9zM360.0 183.6h0.9v0.9h-0.9zM365.1 182.7h0.9v0.9h-0.9zM367.8 181.4h0.9v0.9h-0.9zM365.1 183.4h0.9v0.9h-0.9zM369.6 183.0h0.9v0.9h-0.9zM360.9 181.9h0.9v0.9h-0.9zM371.2 185.0h0.9v0.9h-0.9zM359.3 183.5h0.9v0.9h-0.9zM359.8 186.4h0.9v0.9h-0.9zM365.1 180.8h0.9v0.9h-0.9zM364.3 185.4h0.9v0.9h-0.9zM363.5 184.7h0.9v0.9h-0.9zM363.1 184.3h0.9v0.9h-0.9zM364.3 182.9h0.9v0.9h-0.9zM364.9 184.3h0.9v0.9h-0.9zM363.4 182.9h0.9v0.9h-0.9zM359.6 184.4h0.9v0.9h-0.9zM366.7 180.2h0.9v0.9h-0.9zM361.4 186.1h0.9v0.9h-0.9zM367.1 182.9h0.9v0.9h-0.9zM368.8 182.5h0.9v0.9h-0.9zM360.4 187.0h0.9v0.9h-0.9zM361.8 183.7h0.9v0.9h-0.9zM357.1 182.4h0.9v0.9h-0.9zM358.9 183.8h0.9v0.9h-0.9zM356.4 185.7h0.9v0.9h-0.9zM362.1 183.1h0.9v0.9h-0.9zM361.0 185.2h0.9v0.9h-0.9zM369.5 183.4h0.9v0.9h-0.9zM369.8 186.5h0.9v0.9h-0.9zM368.7 184.5h0.9v0.9h-0.9zM357.7 185.0h0.9v0.9h-0.9zM361.9 184.3h0.9v0.9h-0.9zM356.2 183.6h0.9v0.9h-0.9zM364.4 182.5h0.9v0.9h-0.9zM364.6 186.6h0.9v0.9h-0.9zM364.4 182.9h0.9v0.9h-0.9zM372.8 180.6h0.9v0.9h-0.9zM359.9 184.6h0.9v0.9h-0.9zM361.2 180.4h0.9v0.9h-0.9zM364.5 185.3h0.9v0.9h-0.9zM360.4 186.3h0.9v0.9h-0.9zM365.4 185.9h0.9v0.9h-0.9zM357.6 184.0h0.9v0.9h-0.9zM369.7 187.1h0.9v0.9h-0.9zM368.6 184.0h0.9v0.9h-0.9zM364.2 183.0h0.9v0.9h-0.9zM367.8 182.9h0.9v0.9h-0.9zM364.0 180.8h0.9v0.9h-0.9zM357.6 186.8h0.9v0.9h-0.9zM363.7 184.3h0.9v0.9h-0.9zM354.9 183.9h0.9v0.9h-0.9zM371.6 181.7h0.9v0.9h-0.9zM354.2 183.7h0.9v0.9h-0.9zM361.4 183.7h0.9v0.9h-0.9zM358.6 181.9h0.9v0.9h-0.9zM358.7 185.0h0.9v0.9h-0.9zM363.3 185.3h0.9v0.9h-0.9zM359.3 184.9h0.9v0.9h-0.9z" fill="#a81825" fill-opacity="1"/>
<path d="M352.8 186.1h1.0v1.0h-1.0zM346.9 185.9h1.0v1.0h-1.0zM364.4 185.4h1.0v1.0h-1.0zM342.9 180.4h1.0v1.0h-1.0zM355.1 189.8h1.0v1.0h-1.0zM373.1 194.0h1.0v1.0h-1.0zM340.4 175.9h1.0v1.0h-1.0zM365.9 179.8h1.0v1.0h-1.0zM364.2 184.1h1.0v1.0h-1.0zM370.1 180.1h1.0v1.0h-1.0zM374.1 201.4h1.0v1.0h-1.0zM351.6 191.0h1.0v1.0h-1.0zM335.0 196.8h1.0v1.0h-1.0zM362.6 190.8h1.0v1.0h-1.0zM337.6 175.8h1.0v1.0h-1.0zM377.5 188.0h1.0v1.0h-1.0zM346.7 186.0h1.0v1.0h-1.0zM340.3 180.3h1.0v1.0h-1.0zM338.5 177.3h1.0v1.0h-1.0zM345.1 190.7h1.0v1.0h-1.0zM338.5 186.1h1.0v1.0h-1.0zM340.0 188.4h1.0v1.0h-1.0zM345.7 181.0h1.0v1.0h-1.0zM353.4 185.4h1.0v1.0h-1.0zM351.5 193.5h1.0v1.0h-1.0zM375.0 184.1h1.0v1.0h-1.0zM353.0 188.5h1.0v1.0h-1.0zM337.7 194.4h1.0v1.0h-1.0zM338.9 195.2h1.0v1.0h-1.0zM376.1 190.3h1.0v1.0h-1.0zM349.8 181.0h1.0v1.0h-1.0zM347.4 191.3h1.0v1.0h-1.0zM363.2 182.4h1.0v1.0h-1.0zM371.3 188.0h1.0v1.0h-1.0zM357.7 199.1h1.0v1.0h-1.0zM364.9 186.0h1.0v1.0h-1.0zM347.5 174.7h1.0v1.0h-1.0zM349.7 174.0h1.0v1.0h-1.0zM351.2 182.8h1.0v1.0h-1.0zM361.9 194.0h1.0v1.0h-1.0zM365.3 189.2h1.0v1.0h-1.0zM348.0 184.3h1.0v1.0h-1.0zM370.7 187.9h1.0v1.0h-1.0zM362.6 176.5h1.0v1.0h-1.0zM346.8 193.8h1.0v1.0h-1.0zM349.8 182.5h1.0v1.0h-1.0zM339.5 196.7h1.0v1.0h-1.0zM368.3 195.4h1.0v1.0h-1.0zM332.2 181.9h1.0v1.0h-1.0zM354.1 192.7h1.0v1.0h-1.0zM347.9 190.6h1.0v1.0h-1.0zM355.8 181.5h1.0v1.0h-1.0zM374.3 180.4h1.0v1.0h-1.0zM346.5 179.4h1.0v1.0h-1.0zM349.0 176.0h1.0v1.0h-1.0zM343.1 177.7h1.0v1.0h-1.0zM348.3 180.4h1.0v1.0h-1.0zM373.5 189.8h1.0v1.0h-1.0zM356.1 184.5h1.0v1.0h-1.0zM369.3 191.7h1.0v1.0h-1.0zM338.5 185.0h1.0v1.0h-1.0zM340.0 184.1h1.0v1.0h-1.0zM333.8 186.9h1.0v1.0h-1.0zM341.6 181.8h1.0v1.0h-1.0zM333.7 184.5h1.0v1.0h-1.0zM364.6 196.8h1.0v1.0h-1.0zM373.4 193.9h1.0v1.0h-1.0zM374.0 182.6h1.0v1.0h-1.0zM335.2 192.2h1.0v1.0h-1.0zM340.0 182.1h1.0v1.0h-1.0zM365.9 189.9h1.0v1.0h-1.0zM335.3 180.1h1.0v1.0h-1.0zM371.7 185.7h1.0v1.0h-1.0zM376.5 176.1h1.0v1.0h-1.0zM332.8 188.9h1.0v1.0h-1.0zM332.0 186.7h1.0v1.0h-1.0zM364.0 183.2h1.0v1.0h-1.0zM338.6 183.0h1.0v1.0h-1.0zM339.4 177.4h1.0v1.0h-1.0zM376.2 178.9h1.0v1.0h-1.0zM347.8 192.9h1.0v1.0h-1.0zM349.2 184.5h1.0v1.0h-1.0zM342.8 187.6h1.0v1.0h-1.0zM377.4 204.4h1.0v1.0h-1.0zM363.9 187.5h1.0v1.0h-1.0zM338.1 189.4h1.0v1.0h-1.0zM347.4 185.3h1.0v1.0h-1.0zM355.7 183.1h1.0v1.0h-1.0zM362.7 192.9h1.0v1.0h-1.0zM367.9 187.1h1.0v1.0h-1.0zM357.8 171.7h1.0v1.0h-1.0zM359.0 189.8h1.0v1.0h-1.0zM346.7 172.2h1.0v1.0h-1.0zM371.0 195.7h1.0v1.0h-1.0zM373.6 181.9h1.0v1.0h-1.0zM339.2 184.1h1.0v1.0h-1.0zM348.9 185.3h1.0v1.0h-1.0zM368.4 184.9h1.0v1.0h-1.0zM367.6 184.8h1.0v1.0h-1.0zM368.2 185.4h1.0v1.0h-1.0zM350.3 181.1h1.0v1.0h-1.0zM364.9 177.6h1.0v1.0h-1.0zM350.0 202.4h1.0v1.0h-1.0zM374.3 181.2h1.0v1.0h-1.0zM359.7 182.7h1.0v1.0h-1.0zM343.5 191.7h1.0v1.0h-1.0zM373.1 188.7h1.0v1.0h-1.0zM369.3 173.6h1.0v1.0h-1.0zM377.2 183.2h1.0v1.0h-1.0zM366.3 179.8h1.0v1.0h-1.0zM343.2 182.3h1.0v1.0h-1.0zM371.0 182.9h1.0v1.0h-1.0zM353.8 183.0h1.0v1.0h-1.0zM334.9 201.2h1.0v1.0h-1.0zM374.3 185.7h1.0v1.0h-1.0zM366.5 181.5h1.0v1.0h-1.0zM357.7 193.3h1.0v1.0h-1.0zM350.9 180.4h1.0v1.0h-1.0zM374.5 195.9h1.0v1.0h-1.0zM335.8 191.8h1.0v1.0h-1.0zM343.9 196.2h1.0v1.0h-1.0zM351.6 194.8h1.0v1.0h-1.0zM364.8 185.0h1.0v1.0h-1.0zM361.2 196.8h1.0v1.0h-1.0zM335.5 174.3h1.0v1.0h-1.0zM341.0 185.9h1.0v1.0h-1.0zM361.5 184.3h1.0v1.0h-1.0zM373.9 192.1h1.0v1.0h-1.0zM374.9 192.9h1.0v1.0h-1.0zM357.6 185.4h1.0v1.0h-1.0zM368.7 185.9h1.0v1.0h-1.0zM371.2 177.8h1.0v1.0h-1.0zM349.7 193.0h1.0v1.0h-1.0zM336.5 183.1h1.0v1.0h-1.0zM365.9 192.0h1.0v1.0h-1.0zM333.5 193.8h1.0v1.0h-1.0zM377.1 174.4h1.0v1.0h-1.0zM337.1 182.6h1.0v1.0h-1.0zM360.7 181.7h1.0v1.0h-1.0zM369.0 189.2h1.0v1.0h-1.0zM332.5 182.5h1.0v1.0h-1.0zM370.7 185.9h1.0v1.0h-1.0zM372.6 193.1h1.0v1.0h-1.0zM352.9 187.2h1.0v1.0h-1.0zM364.5 184.7h1.0v1.0h-1.0zM374.5 179.1h1.0v1.0h-1.0zM339.6 193.9h1.0v1.0h-1.0zM336.6 195.2h1.0v1.0h-1.0zM339.7 179.2h1.0v1.0h-1.0zM338.6 185.5h1.0v1.0h-1.0zM374.3 173.4h1.0v1.0h-1.0zM342.7 187.5h1.0v1.0h-1.0zM373.5 188.2h1.0v1.0h-1.0zM359.6 200.5h1.0v1.0h-1.0zM376.3 186.8h1.0v1.0h-1.0zM355.8 175.7h1.0v1.0h-1.0zM370.8 182.5h1.0v1.0h-1.0zM373.6 186.6h1.0v1.0h-1.0zM368.5 180.7h1.0v1.0h-1.0zM341.8 175.0h1.0v1.0h-1.0zM352.6 193.4h1.0v1.0h-1.0zM374.0 169.4h1.0v1.0h-1.0zM338.5 181.9h1.0v1.0h-1.0zM349.9 177.4h1.0v1.0h-1.0zM338.8 190.6h1.0v1.0h-1.0zM354.0 191.5h1.0v1.0h-1.0zM343.5 179.5h1.0v1.0h-1.0zM366.5 192.1h1.0v1.0h-1.0zM358.5 193.2h1.0v1.0h-1.0zM348.1 197.9h1.0v1.0h-1.0zM375.7 189.3h1.0v1.0h-1.0zM358.1 185.1h1.0v1.0h-1.0zM376.1 178.9h1.0v1.0h-1.0zM345.6 191.3h1.0v1.0h-1.0zM332.3 186.5h1.0v1.0h-1.0zM344.2 189.0h1.0v1.0h-1.0zM360.3 169.8h1.0v1.0h-1.0zM362.9 178.9h1.0v1.0h-1.0zM347.9 194.9h1.0v1.0h-1.0zM356.3 182.4h1.0v1.0h-1.0zM371.2 182.3h1.0v1.0h-1.0zM359.2 179.7h1.0v1.0h-1.0zM345.0 190.6h1.0v1.0h-1.0zM376.3 184.5h1.0v1.0h-1.0zM334.0 194.4h1.0v1.0h-1.0zM340.6 186.0h1.0v1.0h-1.0zM354.6 195.3h1.0v1.0h-1.0zM362.2 194.5h1.0v1.0h-1.0zM362.9 205.0h1.0v1.0h-1.0zM362.6 175.8h1.0v1.0h-1.0zM364.2 187.7h1.0v1.0h-1.0zM350.9 185.5h1.0v1.0h-1.0zM376.2 182.0h1.0v1.0h-1.0zM331.4 193.9h1.0v1.0h-1.0zM350.4 193.1h1.0v1.0h-1.0zM369.4 180.1h1.0v1.0h-1.0zM331.6 186.8h1.0v1.0h-1.0zM369.8 189.7h1.0v1.0h-1.0zM335.7 190.5h1.0v1.0h-1.0zM372.0 183.2h1.0v1.0h-1.0zM355.0 177.4h1.0v1.0h-1.0zM349.9 201.8h1.0v1.0h-1.0zM363.5 197.5h1.0v1.0h-1.0zM376.7 190.9h1.0v1.0h-1.0zM336.1 185.4h1.0v1.0h-1.0zM337.9 179.9h1.0v1.0h-1.0zM348.0 176.4h1.0v1.0h-1.0zM377.3 170.8h1.0v1.0h-1.0zM377.3 178.2h1.0v1.0h-1.0zM338.5 178.4h1.0v1.0h-1.0zM364.8 179.2h1.0v1.0h-1.0zM372.9 183.4h1.0v1.0h-1.0zM342.9 188.1h1.0v1.0h-1.0zM338.0 188.7h1.0v1.0h-1.0zM358.4 186.8h1.0v1.0h-1.0zM354.4 181.6h1.0v1.0h-1.0zM357.8 178.8h1.0v1.0h-1.0zM356.3 182.8h1.0v1.0h-1.0zM331.7 192.4h1.0v1.0h-1.0zM342.0 188.1h1.0v1.0h-1.0zM366.3 186.2h1.0v1.0h-1.0zM342.3 198.5h1.0v1.0h-1.0zM335.3 178.6h1.0v1.0h-1.0zM346.6 186.5h1.0v1.0h-1.0zM366.7 187.3h1.0v1.0h-1.0zM369.9 195.8h1.0v1.0h-1.0zM352.1 169.6h1.0v1.0h-1.0zM359.1 185.2h1.0v1.0h-1.0zM339.4 188.1h1.0v1.0h-1.0zM346.5 186.7h1.0v1.0h-1.0z" fill="#2e0e18" fill-opacity="1"/>
<path d="M368.3 246.8h1.0v1.0h-1.0zM365.6 229.4h1.0v1.0h-1.0zM365.7 244.5h1.0v1.0h-1.0zM364.1 226.1h1.0v1.0h-1.0zM363.1 240.7h1.0v1.0h-1.0zM358.5 238.1h1.0v1.0h-1.0zM373.8 237.8h1.0v1.0h-1.0zM368.3 226.1h1.0v1.0h-1.0zM369.3 229.5h1.0v1.0h-1.0zM372.1 243.1h1.0v1.0h-1.0zM366.8 247.6h1.0v1.0h-1.0zM360.1 231.4h1.0v1.0h-1.0zM368.0 242.8h1.0v1.0h-1.0zM364.3 245.1h1.0v1.0h-1.0zM369.2 219.6h1.0v1.0h-1.0zM365.5 249.9h1.0v1.0h-1.0zM366.8 246.7h1.0v1.0h-1.0zM352.1 248.9h1.0v1.0h-1.0zM360.4 248.1h1.0v1.0h-1.0zM363.6 231.4h1.0v1.0h-1.0zM359.4 227.5h1.0v1.0h-1.0zM358.8 232.1h1.0v1.0h-1.0zM368.1 233.1h1.0v1.0h-1.0zM361.6 241.7h1.0v1.0h-1.0zM362.1 232.4h1.0v1.0h-1.0zM362.2 226.9h1.0v1.0h-1.0zM365.2 226.9h1.0v1.0h-1.0zM360.2 223.8h1.0v1.0h-1.0zM365.0 243.0h1.0v1.0h-1.0zM369.3 242.6h1.0v1.0h-1.0zM368.4 244.6h1.0v1.0h-1.0zM368.1 244.7h1.0v1.0h-1.0zM368.9 244.7h1.0v1.0h-1.0zM360.7 241.8h1.0v1.0h-1.0zM361.6 235.4h1.0v1.0h-1.0zM363.3 214.7h1.0v1.0h-1.0zM362.6 226.0h1.0v1.0h-1.0zM367.9 246.7h1.0v1.0h-1.0zM360.8 235.1h1.0v1.0h-1.0zM362.1 235.7h1.0v1.0h-1.0zM362.1 222.8h1.0v1.0h-1.0zM358.9 233.7h1.0v1.0h-1.0zM367.7 242.8h1.0v1.0h-1.0zM363.2 217.3h1.0v1.0h-1.0zM366.0 217.4h1.0v1.0h-1.0zM360.5 227.3h1.0v1.0h-1.0zM367.0 239.3h1.0v1.0h-1.0zM367.6 249.3h1.0v1.0h-1.0zM360.1 248.4h1.0v1.0h-1.0zM364.9 227.5h1.0v1.0h-1.0zM362.6 248.6h1.0v1.0h-1.0zM358.7 238.3h1.0v1.0h-1.0zM364.1 239.0h1.0v1.0h-1.0zM371.7 236.1h1.0v1.0h-1.0zM362.5 232.3h1.0v1.0h-1.0zM368.8 237.5h1.0v1.0h-1.0zM367.0 240.2h1.0v1.0h-1.0zM369.0 244.4h1.0v1.0h-1.0zM356.5 245.0h1.0v1.0h-1.0zM363.4 246.3h1.0v1.0h-1.0zM366.1 216.4h1.0v1.0h-1.0zM366.7 236.5h1.0v1.0h-1.0zM376.4 246.6h1.0v1.0h-1.0zM352.1 242.6h1.0v1.0h-1.0zM367.7 247.4h1.0v1.0h-1.0zM357.5 233.9h1.0v1.0h-1.0zM357.7 239.2h1.0v1.0h-1.0zM364.4 243.9h1.0v1.0h-1.0zM359.2 248.3h1.0v1.0h-1.0zM368.0 240.8h1.0v1.0h-1.0zM359.4 237.7h1.0v1.0h-1.0zM368.2 247.1h1.0v1.0h-1.0zM359.3 233.9h1.0v1.0h-1.0zM359.8 242.0h1.0v1.0h-1.0zM366.2 245.1h1.0v1.0h-1.0zM365.1 248.3h1.0v1.0h-1.0zM366.8 232.3h1.0v1.0h-1.0zM367.7 222.0h1.0v1.0h-1.0zM367.4 214.6h1.0v1.0h-1.0zM362.8 241.6h1.0v1.0h-1.0zM366.4 233.4h1.0v1.0h-1.0zM373.5 240.2h1.0v1.0h-1.0zM361.9 234.6h1.0v1.0h-1.0zM368.4 245.3h1.0v1.0h-1.0zM366.1 223.1h1.0v1.0h-1.0z" fill="#5a2036" fill-opacity="1"/>
<path d="M290.5 216.5h1.0v1.0h-1.0zM301.5 227.0h1.0v1.0h-1.0zM300.0 234.5h1.0v1.0h-1.0zM334.7 245.5h1.0v1.0h-1.0zM341.0 222.5h1.0v1.0h-1.0zM348.5 222.0h1.0v1.0h-1.0zM368.0 213.5h1.0v1.0h-1.0z" fill="#7a4050" fill-opacity="1"/>
</g>
<line x1="280.70" y1="168.40" x2="377.60" y2="168.40" stroke="#111" stroke-width="1.1" />
<line x1="280.70" y1="250.30" x2="377.60" y2="250.30" stroke="#111" stroke-width="1.1" />
<line x1="280.70" y1="168.40" x2="280.70" y2="250.30" stroke="#111" stroke-width="1.3" />
<line x1="377.60" y1="168.40" x2="377.60" y2="250.30" stroke="#111" stroke-width="1" />
<line x1="330.40" y1="168.40" x2="330.40" y2="250.30" stroke="#111" stroke-width="1.2" />
<line x1="280.70" y1="206.80" x2="377.60" y2="206.80" stroke="#111" stroke-width="1.2" />
<text x="302" y="165.8" font-size="6.45" font-weight="bold" font-style="normal" text-anchor="start" fill="#111" stroke="#111" stroke-width="0.25" textLength="45" lengthAdjust="spacingAndGlyphs" >AN30FC01.033</text>
<text x="303.5" y="268.2" font-size="6.45" font-weight="bold" font-style="normal" text-anchor="start" fill="#111" stroke="#111" stroke-width="0.25" textLength="49.2" lengthAdjust="spacingAndGlyphs" >FL1 THY1.2FITC</text>
<text transform="translate(282.90,260.7) scale(0.88,1)" font-size="6.0" font-weight="bold" text-anchor="end" fill="#111" stroke="#111" stroke-width="0.3">10</text>
<text x="283.09999999999997" y="257.9" font-size="5.9" font-weight="bold" font-style="normal" text-anchor="start" fill="#111" stroke="#111" stroke-width="0.3" >0</text>
<line x1="280.70" y1="250.30" x2="280.70" y2="252.30" stroke="#111" stroke-width="0.8" />
<text transform="translate(275.90,253.80) rotate(-90) scale(0.82,1)" font-size="5.8" font-weight="bold" text-anchor="start" fill="#111" stroke="#111" stroke-width="0.33">10</text>
<text transform="translate(273.80,248.80) rotate(-90) scale(1,1)" font-size="5.6" font-weight="bold" text-anchor="start" fill="#111" stroke="#111" stroke-width="0.3">0</text>
<line x1="278.70" y1="250.30" x2="280.70" y2="250.30" stroke="#111" stroke-width="0.8" />
<text transform="translate(307.12,260.7) scale(0.88,1)" font-size="6.0" font-weight="bold" text-anchor="end" fill="#111" stroke="#111" stroke-width="0.3">10</text>
<text x="307.325" y="257.9" font-size="5.9" font-weight="bold" font-style="normal" text-anchor="start" fill="#111" stroke="#111" stroke-width="0.3" >1</text>
<line x1="304.93" y1="250.30" x2="304.93" y2="252.30" stroke="#111" stroke-width="0.8" />
<text transform="translate(275.90,233.33) rotate(-90) scale(0.82,1)" font-size="5.8" font-weight="bold" text-anchor="start" fill="#111" stroke="#111" stroke-width="0.33">10</text>
<text transform="translate(273.80,228.33) rotate(-90) scale(1,1)" font-size="5.6" font-weight="bold" text-anchor="start" fill="#111" stroke="#111" stroke-width="0.3">1</text>
<line x1="278.70" y1="229.83" x2="280.70" y2="229.83" stroke="#111" stroke-width="0.8" />
<text transform="translate(331.35,260.7) scale(0.88,1)" font-size="6.0" font-weight="bold" text-anchor="end" fill="#111" stroke="#111" stroke-width="0.3">10</text>
<text x="331.54999999999995" y="257.9" font-size="5.9" font-weight="bold" font-style="normal" text-anchor="start" fill="#111" stroke="#111" stroke-width="0.3" >2</text>
<line x1="329.15" y1="250.30" x2="329.15" y2="252.30" stroke="#111" stroke-width="0.8" />
<text transform="translate(275.90,212.85) rotate(-90) scale(0.82,1)" font-size="5.8" font-weight="bold" text-anchor="start" fill="#111" stroke="#111" stroke-width="0.33">10</text>
<text transform="translate(273.80,207.85) rotate(-90) scale(1,1)" font-size="5.6" font-weight="bold" text-anchor="start" fill="#111" stroke="#111" stroke-width="0.3">2</text>
<line x1="278.70" y1="209.35" x2="280.70" y2="209.35" stroke="#111" stroke-width="0.8" />
<text transform="translate(355.57,260.7) scale(0.88,1)" font-size="6.0" font-weight="bold" text-anchor="end" fill="#111" stroke="#111" stroke-width="0.3">10</text>
<text x="355.775" y="257.9" font-size="5.9" font-weight="bold" font-style="normal" text-anchor="start" fill="#111" stroke="#111" stroke-width="0.3" >3</text>
<line x1="353.38" y1="250.30" x2="353.38" y2="252.30" stroke="#111" stroke-width="0.8" />
<text transform="translate(275.90,192.38) rotate(-90) scale(0.82,1)" font-size="5.8" font-weight="bold" text-anchor="start" fill="#111" stroke="#111" stroke-width="0.33">10</text>
<text transform="translate(273.80,187.38) rotate(-90) scale(1,1)" font-size="5.6" font-weight="bold" text-anchor="start" fill="#111" stroke="#111" stroke-width="0.3">3</text>
<line x1="278.70" y1="188.88" x2="280.70" y2="188.88" stroke="#111" stroke-width="0.8" />
<text transform="translate(379.80,260.7) scale(0.88,1)" font-size="6.0" font-weight="bold" text-anchor="end" fill="#111" stroke="#111" stroke-width="0.3">10</text>
<text x="380.0" y="257.9" font-size="5.9" font-weight="bold" font-style="normal" text-anchor="start" fill="#111" stroke="#111" stroke-width="0.3" >4</text>
<line x1="377.60" y1="250.30" x2="377.60" y2="252.30" stroke="#111" stroke-width="0.8" />
<text transform="translate(275.90,171.90) rotate(-90) scale(0.82,1)" font-size="5.8" font-weight="bold" text-anchor="start" fill="#111" stroke="#111" stroke-width="0.33">10</text>
<text transform="translate(273.80,166.90) rotate(-90) scale(1,1)" font-size="5.6" font-weight="bold" text-anchor="start" fill="#111" stroke="#111" stroke-width="0.3">4</text>
<line x1="278.70" y1="168.40" x2="280.70" y2="168.40" stroke="#111" stroke-width="0.8" />
<line x1="287.99" y1="250.30" x2="287.99" y2="251.60" stroke="#111" stroke-width="0.6" />
<line x1="279.40" y1="244.14" x2="280.70" y2="244.14" stroke="#111" stroke-width="0.6" />
<line x1="292.26" y1="250.30" x2="292.26" y2="251.60" stroke="#111" stroke-width="0.6" />
<line x1="279.40" y1="240.53" x2="280.70" y2="240.53" stroke="#111" stroke-width="0.6" />
<line x1="295.28" y1="250.30" x2="295.28" y2="251.60" stroke="#111" stroke-width="0.6" />
<line x1="279.40" y1="237.97" x2="280.70" y2="237.97" stroke="#111" stroke-width="0.6" />
<line x1="297.63" y1="250.30" x2="297.63" y2="251.60" stroke="#111" stroke-width="0.6" />
<line x1="279.40" y1="235.99" x2="280.70" y2="235.99" stroke="#111" stroke-width="0.6" />
<line x1="299.55" y1="250.30" x2="299.55" y2="251.60" stroke="#111" stroke-width="0.6" />
<line x1="279.40" y1="234.37" x2="280.70" y2="234.37" stroke="#111" stroke-width="0.6" />
<line x1="301.17" y1="250.30" x2="301.17" y2="251.60" stroke="#111" stroke-width="0.6" />
<line x1="279.40" y1="233.00" x2="280.70" y2="233.00" stroke="#111" stroke-width="0.6" />
<line x1="302.58" y1="250.30" x2="302.58" y2="251.60" stroke="#111" stroke-width="0.6" />
<line x1="279.40" y1="231.81" x2="280.70" y2="231.81" stroke="#111" stroke-width="0.6" />
<line x1="303.82" y1="250.30" x2="303.82" y2="251.60" stroke="#111" stroke-width="0.6" />
<line x1="279.40" y1="230.76" x2="280.70" y2="230.76" stroke="#111" stroke-width="0.6" />
<line x1="312.22" y1="250.30" x2="312.22" y2="251.60" stroke="#111" stroke-width="0.6" />
<line x1="279.40" y1="223.66" x2="280.70" y2="223.66" stroke="#111" stroke-width="0.6" />
<line x1="316.48" y1="250.30" x2="316.48" y2="251.60" stroke="#111" stroke-width="0.6" />
<line x1="279.40" y1="220.06" x2="280.70" y2="220.06" stroke="#111" stroke-width="0.6" />
<line x1="319.51" y1="250.30" x2="319.51" y2="251.60" stroke="#111" stroke-width="0.6" />
<line x1="279.40" y1="217.50" x2="280.70" y2="217.50" stroke="#111" stroke-width="0.6" />
<line x1="321.86" y1="250.30" x2="321.86" y2="251.60" stroke="#111" stroke-width="0.6" />
<line x1="279.40" y1="215.51" x2="280.70" y2="215.51" stroke="#111" stroke-width="0.6" />
<line x1="323.78" y1="250.30" x2="323.78" y2="251.60" stroke="#111" stroke-width="0.6" />
<line x1="279.40" y1="213.89" x2="280.70" y2="213.89" stroke="#111" stroke-width="0.6" />
<line x1="325.40" y1="250.30" x2="325.40" y2="251.60" stroke="#111" stroke-width="0.6" />
<line x1="279.40" y1="212.52" x2="280.70" y2="212.52" stroke="#111" stroke-width="0.6" />
<line x1="326.80" y1="250.30" x2="326.80" y2="251.60" stroke="#111" stroke-width="0.6" />
<line x1="279.40" y1="211.33" x2="280.70" y2="211.33" stroke="#111" stroke-width="0.6" />
<line x1="328.04" y1="250.30" x2="328.04" y2="251.60" stroke="#111" stroke-width="0.6" />
<line x1="279.40" y1="210.29" x2="280.70" y2="210.29" stroke="#111" stroke-width="0.6" />
<line x1="336.44" y1="250.30" x2="336.44" y2="251.60" stroke="#111" stroke-width="0.6" />
<line x1="279.40" y1="203.19" x2="280.70" y2="203.19" stroke="#111" stroke-width="0.6" />
<line x1="340.71" y1="250.30" x2="340.71" y2="251.60" stroke="#111" stroke-width="0.6" />
<line x1="279.40" y1="199.58" x2="280.70" y2="199.58" stroke="#111" stroke-width="0.6" />
<line x1="343.73" y1="250.30" x2="343.73" y2="251.60" stroke="#111" stroke-width="0.6" />
<line x1="279.40" y1="197.02" x2="280.70" y2="197.02" stroke="#111" stroke-width="0.6" />
<line x1="346.08" y1="250.30" x2="346.08" y2="251.60" stroke="#111" stroke-width="0.6" />
<line x1="279.40" y1="195.04" x2="280.70" y2="195.04" stroke="#111" stroke-width="0.6" />
<line x1="348.00" y1="250.30" x2="348.00" y2="251.60" stroke="#111" stroke-width="0.6" />
<line x1="279.40" y1="193.42" x2="280.70" y2="193.42" stroke="#111" stroke-width="0.6" />
<line x1="349.62" y1="250.30" x2="349.62" y2="251.60" stroke="#111" stroke-width="0.6" />
<line x1="279.40" y1="192.05" x2="280.70" y2="192.05" stroke="#111" stroke-width="0.6" />
<line x1="351.03" y1="250.30" x2="351.03" y2="251.60" stroke="#111" stroke-width="0.6" />
<line x1="279.40" y1="190.86" x2="280.70" y2="190.86" stroke="#111" stroke-width="0.6" />
<line x1="352.27" y1="250.30" x2="352.27" y2="251.60" stroke="#111" stroke-width="0.6" />
<line x1="279.40" y1="189.81" x2="280.70" y2="189.81" stroke="#111" stroke-width="0.6" />
<line x1="360.67" y1="250.30" x2="360.67" y2="251.60" stroke="#111" stroke-width="0.6" />
<line x1="279.40" y1="182.71" x2="280.70" y2="182.71" stroke="#111" stroke-width="0.6" />
<line x1="364.93" y1="250.30" x2="364.93" y2="251.60" stroke="#111" stroke-width="0.6" />
<line x1="279.40" y1="179.11" x2="280.70" y2="179.11" stroke="#111" stroke-width="0.6" />
<line x1="367.96" y1="250.30" x2="367.96" y2="251.60" stroke="#111" stroke-width="0.6" />
<line x1="279.40" y1="176.55" x2="280.70" y2="176.55" stroke="#111" stroke-width="0.6" />
<line x1="370.31" y1="250.30" x2="370.31" y2="251.60" stroke="#111" stroke-width="0.6" />
<line x1="279.40" y1="174.56" x2="280.70" y2="174.56" stroke="#111" stroke-width="0.6" />
<line x1="372.23" y1="250.30" x2="372.23" y2="251.60" stroke="#111" stroke-width="0.6" />
<line x1="279.40" y1="172.94" x2="280.70" y2="172.94" stroke="#111" stroke-width="0.6" />
<line x1="373.85" y1="250.30" x2="373.85" y2="251.60" stroke="#111" stroke-width="0.6" />
<line x1="279.40" y1="171.57" x2="280.70" y2="171.57" stroke="#111" stroke-width="0.6" />
<line x1="375.25" y1="250.30" x2="375.25" y2="251.60" stroke="#111" stroke-width="0.6" />
<line x1="279.40" y1="170.38" x2="280.70" y2="170.38" stroke="#111" stroke-width="0.6" />
<line x1="376.49" y1="250.30" x2="376.49" y2="251.60" stroke="#111" stroke-width="0.6" />
<line x1="279.40" y1="169.34" x2="280.70" y2="169.34" stroke="#111" stroke-width="0.6" />
<clipPath id="c2"><rect x="407.8" y="170.2" width="101.09999999999997" height="80.10000000000002"/></clipPath><g clip-path="url(#c2)">
<ellipse cx="425" cy="188.0" rx="20" ry="6.2" fill="#94121f" filter="url(#bl2)"/>
<path d="M407 182.6 L420 181.8 L434 183.2 L444 185.6 L448 188.5 L443 191.5 L432 194.2 L420 195.4 L407 194.6 Z" fill="#94121f" filter="url(#bl1)"/>
<ellipse cx="0" cy="0" rx="11" ry="5.2" transform="translate(477,191.5) rotate(-48)" fill="#94121f" filter="url(#bl1)"/>
<ellipse cx="0" cy="0" rx="6.5" ry="3.6" transform="translate(481.5,186) rotate(-35)" fill="#94121f" filter="url(#bl1)"/>
<path d="M434.7 186.3h0.9v0.9h-0.9zM424.5 188.1h0.9v0.9h-0.9zM430.5 185.6h0.9v0.9h-0.9zM412.0 192.4h0.9v0.9h-0.9zM412.1 190.4h0.9v0.9h-0.9zM409.2 191.8h0.9v0.9h-0.9zM427.8 183.2h0.9v0.9h-0.9zM434.1 193.2h0.9v0.9h-0.9zM423.7 188.8h0.9v0.9h-0.9zM417.8 184.3h0.9v0.9h-0.9zM422.6 193.6h0.9v0.9h-0.9zM438.4 185.8h0.9v0.9h-0.9zM419.1 189.9h0.9v0.9h-0.9zM417.8 181.4h0.9v0.9h-0.9zM426.5 192.4h0.9v0.9h-0.9zM429.5 186.5h0.9v0.9h-0.9zM434.5 191.0h0.9v0.9h-0.9zM421.6 192.0h0.9v0.9h-0.9zM416.5 189.3h0.9v0.9h-0.9zM436.5 183.1h0.9v0.9h-0.9zM431.4 182.0h0.9v0.9h-0.9zM439.4 188.6h0.9v0.9h-0.9zM432.8 188.7h0.9v0.9h-0.9zM419.8 187.9h0.9v0.9h-0.9zM423.5 187.3h0.9v0.9h-0.9zM433.7 191.3h0.9v0.9h-0.9zM428.6 188.4h0.9v0.9h-0.9zM423.3 186.1h0.9v0.9h-0.9zM425.3 184.5h0.9v0.9h-0.9zM418.6 188.1h0.9v0.9h-0.9zM427.6 186.8h0.9v0.9h-0.9zM409.0 186.4h0.9v0.9h-0.9zM429.0 185.1h0.9v0.9h-0.9zM418.8 185.4h0.9v0.9h-0.9zM428.4 193.7h0.9v0.9h-0.9zM433.5 191.7h0.9v0.9h-0.9zM421.0 196.4h0.9v0.9h-0.9zM430.5 187.6h0.9v0.9h-0.9zM423.7 193.8h0.9v0.9h-0.9zM428.9 183.6h0.9v0.9h-0.9zM418.7 186.3h0.9v0.9h-0.9zM421.0 189.6h0.9v0.9h-0.9zM409.2 184.7h0.9v0.9h-0.9zM414.2 188.9h0.9v0.9h-0.9zM416.3 185.0h0.9v0.9h-0.9zM419.4 194.8h0.9v0.9h-0.9zM425.2 188.0h0.9v0.9h-0.9zM415.4 195.0h0.9v0.9h-0.9zM413.7 186.1h0.9v0.9h-0.9zM432.7 183.4h0.9v0.9h-0.9zM428.8 187.3h0.9v0.9h-0.9zM430.2 193.3h0.9v0.9h-0.9zM433.0 187.2h0.9v0.9h-0.9zM422.6 188.6h0.9v0.9h-0.9zM424.2 188.1h0.9v0.9h-0.9zM429.4 187.5h0.9v0.9h-0.9zM417.0 184.2h0.9v0.9h-0.9zM440.4 193.6h0.9v0.9h-0.9zM418.9 189.0h0.9v0.9h-0.9zM436.3 190.9h0.9v0.9h-0.9zM419.9 192.1h0.9v0.9h-0.9zM412.3 184.5h0.9v0.9h-0.9zM411.3 184.8h0.9v0.9h-0.9zM430.5 191.0h0.9v0.9h-0.9zM409.2 179.5h0.9v0.9h-0.9zM428.5 184.1h0.9v0.9h-0.9zM408.1 184.8h0.9v0.9h-0.9zM409.2 189.7h0.9v0.9h-0.9zM431.1 181.7h0.9v0.9h-0.9zM426.2 186.4h0.9v0.9h-0.9zM425.5 192.6h0.9v0.9h-0.9zM436.2 193.3h0.9v0.9h-0.9zM434.2 188.5h0.9v0.9h-0.9zM413.4 188.4h0.9v0.9h-0.9zM423.8 190.8h0.9v0.9h-0.9zM435.8 188.7h0.9v0.9h-0.9zM435.8 183.8h0.9v0.9h-0.9zM421.0 187.2h0.9v0.9h-0.9zM419.4 187.2h0.9v0.9h-0.9zM408.6 189.8h0.9v0.9h-0.9zM444.2 191.7h0.9v0.9h-0.9zM411.7 192.4h0.9v0.9h-0.9zM431.2 196.8h0.9v0.9h-0.9zM430.9 185.8h0.9v0.9h-0.9zM416.0 192.5h0.9v0.9h-0.9zM414.4 185.0h0.9v0.9h-0.9zM425.9 184.6h0.9v0.9h-0.9zM421.0 189.2h0.9v0.9h-0.9zM426.8 187.3h0.9v0.9h-0.9zM442.5 189.1h0.9v0.9h-0.9zM421.3 191.0h0.9v0.9h-0.9zM426.5 187.8h0.9v0.9h-0.9zM430.6 188.6h0.9v0.9h-0.9zM433.1 184.3h0.9v0.9h-0.9zM427.6 187.6h0.9v0.9h-0.9zM408.9 186.6h0.9v0.9h-0.9zM437.8 193.1h0.9v0.9h-0.9zM451.8 190.1h0.9v0.9h-0.9zM439.1 185.6h0.9v0.9h-0.9zM413.3 182.7h0.9v0.9h-0.9zM440.8 185.9h0.9v0.9h-0.9zM422.5 181.3h0.9v0.9h-0.9zM441.9 193.3h0.9v0.9h-0.9zM421.2 186.3h0.9v0.9h-0.9zM413.8 188.5h0.9v0.9h-0.9zM430.9 191.0h0.9v0.9h-0.9zM424.1 186.6h0.9v0.9h-0.9zM428.5 190.7h0.9v0.9h-0.9zM421.1 181.4h0.9v0.9h-0.9zM445.1 188.5h0.9v0.9h-0.9zM422.0 181.5h0.9v0.9h-0.9zM433.4 187.4h0.9v0.9h-0.9zM419.2 185.5h0.9v0.9h-0.9zM425.4 184.4h0.9v0.9h-0.9zM429.6 188.1h0.9v0.9h-0.9zM439.5 182.7h0.9v0.9h-0.9zM411.1 185.8h0.9v0.9h-0.9zM415.3 186.4h0.9v0.9h-0.9zM417.9 192.2h0.9v0.9h-0.9zM408.5 187.7h0.9v0.9h-0.9zM423.8 189.1h0.9v0.9h-0.9zM427.9 182.3h0.9v0.9h-0.9zM426.4 184.3h0.9v0.9h-0.9zM452.1 194.8h0.9v0.9h-0.9zM432.8 185.3h0.9v0.9h-0.9zM416.3 184.4h0.9v0.9h-0.9zM430.1 192.5h0.9v0.9h-0.9zM414.4 186.1h0.9v0.9h-0.9zM449.0 192.6h0.9v0.9h-0.9zM424.0 185.6h0.9v0.9h-0.9zM435.1 178.0h0.9v0.9h-0.9zM430.0 187.2h0.9v0.9h-0.9zM418.3 190.4h0.9v0.9h-0.9zM420.5 184.1h0.9v0.9h-0.9zM408.1 185.2h0.9v0.9h-0.9zM422.6 194.2h0.9v0.9h-0.9zM416.9 186.6h0.9v0.9h-0.9zM422.6 189.4h0.9v0.9h-0.9zM426.9 185.5h0.9v0.9h-0.9zM408.9 190.0h0.9v0.9h-0.9zM435.8 185.0h0.9v0.9h-0.9zM420.5 182.8h0.9v0.9h-0.9zM425.1 190.3h0.9v0.9h-0.9zM408.6 192.8h0.9v0.9h-0.9zM421.1 185.0h0.9v0.9h-0.9zM440.4 184.3h0.9v0.9h-0.9zM421.9 188.9h0.9v0.9h-0.9zM420.7 187.1h0.9v0.9h-0.9zM417.7 182.0h0.9v0.9h-0.9zM426.7 188.3h0.9v0.9h-0.9zM441.7 187.9h0.9v0.9h-0.9zM422.1 182.7h0.9v0.9h-0.9zM420.5 183.1h0.9v0.9h-0.9zM421.0 185.6h0.9v0.9h-0.9zM408.4 187.5h0.9v0.9h-0.9zM424.1 193.8h0.9v0.9h-0.9zM438.4 188.1h0.9v0.9h-0.9zM419.8 196.2h0.9v0.9h-0.9zM420.5 185.4h0.9v0.9h-0.9zM418.9 185.2h0.9v0.9h-0.9zM434.9 180.7h0.9v0.9h-0.9zM449.6 189.3h0.9v0.9h-0.9zM429.8 188.7h0.9v0.9h-0.9zM424.0 189.7h0.9v0.9h-0.9zM437.8 186.6h0.9v0.9h-0.9zM442.5 182.0h0.9v0.9h-0.9zM425.6 184.8h0.9v0.9h-0.9zM446.3 194.3h0.9v0.9h-0.9zM427.9 194.1h0.9v0.9h-0.9zM415.7 193.0h0.9v0.9h-0.9zM439.7 190.1h0.9v0.9h-0.9zM423.2 193.2h0.9v0.9h-0.9zM428.6 189.8h0.9v0.9h-0.9zM437.8 187.8h0.9v0.9h-0.9zM430.0 190.1h0.9v0.9h-0.9zM417.7 183.8h0.9v0.9h-0.9zM450.0 182.6h0.9v0.9h-0.9zM429.6 186.6h0.9v0.9h-0.9zM440.8 187.1h0.9v0.9h-0.9zM440.6 185.8h0.9v0.9h-0.9zM434.8 191.7h0.9v0.9h-0.9zM427.9 181.2h0.9v0.9h-0.9zM419.1 192.8h0.9v0.9h-0.9zM412.7 186.4h0.9v0.9h-0.9zM440.3 186.7h0.9v0.9h-0.9zM422.7 187.7h0.9v0.9h-0.9zM427.8 186.3h0.9v0.9h-0.9zM419.6 190.9h0.9v0.9h-0.9zM423.5 188.7h0.9v0.9h-0.9zM413.4 192.8h0.9v0.9h-0.9zM424.9 187.2h0.9v0.9h-0.9zM438.7 201.0h0.9v0.9h-0.9zM423.6 194.1h0.9v0.9h-0.9zM424.6 183.7h0.9v0.9h-0.9zM440.6 191.9h0.9v0.9h-0.9zM432.8 187.9h0.9v0.9h-0.9zM435.1 189.6h0.9v0.9h-0.9zM423.4 190.9h0.9v0.9h-0.9zM432.9 188.6h0.9v0.9h-0.9zM417.4 192.1h0.9v0.9h-0.9zM424.5 184.0h0.9v0.9h-0.9zM438.7 189.6h0.9v0.9h-0.9zM411.5 184.4h0.9v0.9h-0.9zM423.2 190.1h0.9v0.9h-0.9zM423.5 190.0h0.9v0.9h-0.9zM422.5 183.2h0.9v0.9h-0.9zM412.1 185.5h0.9v0.9h-0.9zM421.2 186.4h0.9v0.9h-0.9zM413.5 190.0h0.9v0.9h-0.9zM429.1 184.8h0.9v0.9h-0.9zM421.9 187.9h0.9v0.9h-0.9zM417.7 185.1h0.9v0.9h-0.9zM433.1 188.9h0.9v0.9h-0.9zM427.7 187.6h0.9v0.9h-0.9zM423.4 183.6h0.9v0.9h-0.9zM426.3 184.4h0.9v0.9h-0.9zM427.7 195.1h0.9v0.9h-0.9zM422.2 194.4h0.9v0.9h-0.9zM423.5 188.8h0.9v0.9h-0.9zM412.3 186.0h0.9v0.9h-0.9zM437.0 182.5h0.9v0.9h-0.9zM451.6 188.2h0.9v0.9h-0.9zM415.4 186.2h0.9v0.9h-0.9zM432.1 181.6h0.9v0.9h-0.9zM451.8 193.9h0.9v0.9h-0.9zM420.4 186.7h0.9v0.9h-0.9zM422.3 191.1h0.9v0.9h-0.9zM421.3 186.0h0.9v0.9h-0.9zM414.8 193.3h0.9v0.9h-0.9zM444.7 187.1h0.9v0.9h-0.9zM430.0 190.7h0.9v0.9h-0.9zM430.1 190.0h0.9v0.9h-0.9zM412.8 191.6h0.9v0.9h-0.9zM438.5 192.2h0.9v0.9h-0.9zM430.5 185.9h0.9v0.9h-0.9zM419.8 194.3h0.9v0.9h-0.9zM431.2 188.9h0.9v0.9h-0.9zM442.9 193.3h0.9v0.9h-0.9zM427.9 190.9h0.9v0.9h-0.9zM419.8 195.2h0.9v0.9h-0.9zM434.9 187.5h0.9v0.9h-0.9zM437.1 181.5h0.9v0.9h-0.9zM426.0 190.4h0.9v0.9h-0.9zM413.1 193.0h0.9v0.9h-0.9zM421.7 194.7h0.9v0.9h-0.9zM423.1 189.2h0.9v0.9h-0.9zM414.8 186.1h0.9v0.9h-0.9zM430.9 186.1h0.9v0.9h-0.9zM409.8 184.5h0.9v0.9h-0.9zM427.6 191.2h0.9v0.9h-0.9zM430.2 186.7h0.9v0.9h-0.9zM432.6 191.7h0.9v0.9h-0.9zM423.5 185.8h0.9v0.9h-0.9zM424.7 186.9h0.9v0.9h-0.9zM417.6 182.3h0.9v0.9h-0.9zM425.1 185.5h0.9v0.9h-0.9zM436.8 191.5h0.9v0.9h-0.9zM434.9 186.2h0.9v0.9h-0.9zM421.3 189.4h0.9v0.9h-0.9zM427.6 186.5h0.9v0.9h-0.9zM448.5 183.8h0.9v0.9h-0.9zM430.2 190.4h0.9v0.9h-0.9zM411.5 192.8h0.9v0.9h-0.9zM436.4 180.5h0.9v0.9h-0.9zM431.9 185.7h0.9v0.9h-0.9zM428.2 194.3h0.9v0.9h-0.9zM422.3 181.8h0.9v0.9h-0.9zM420.1 184.7h0.9v0.9h-0.9zM422.3 196.2h0.9v0.9h-0.9zM423.2 189.3h0.9v0.9h-0.9zM412.0 183.8h0.9v0.9h-0.9zM438.4 195.6h0.9v0.9h-0.9zM410.2 189.5h0.9v0.9h-0.9zM422.4 189.4h0.9v0.9h-0.9zM432.5 188.4h0.9v0.9h-0.9zM436.2 190.9h0.9v0.9h-0.9zM414.4 184.4h0.9v0.9h-0.9zM427.4 194.2h0.9v0.9h-0.9zM412.0 186.5h0.9v0.9h-0.9zM425.4 185.5h0.9v0.9h-0.9zM410.4 187.2h0.9v0.9h-0.9zM419.0 186.4h0.9v0.9h-0.9zM423.4 193.8h0.9v0.9h-0.9zM414.4 188.8h0.9v0.9h-0.9zM425.6 186.7h0.9v0.9h-0.9zM414.3 184.2h0.9v0.9h-0.9zM450.8 182.1h0.9v0.9h-0.9zM429.5 186.5h0.9v0.9h-0.9zM433.0 191.1h0.9v0.9h-0.9zM425.5 187.6h0.9v0.9h-0.9zM428.0 188.0h0.9v0.9h-0.9zM409.0 187.6h0.9v0.9h-0.9zM423.2 183.9h0.9v0.9h-0.9zM418.9 186.3h0.9v0.9h-0.9zM429.6 182.0h0.9v0.9h-0.9zM443.5 187.4h0.9v0.9h-0.9zM417.3 188.0h0.9v0.9h-0.9zM439.0 193.9h0.9v0.9h-0.9zM421.5 195.5h0.9v0.9h-0.9zM412.0 182.0h0.9v0.9h-0.9zM452.0 190.1h0.9v0.9h-0.9zM452.6 186.1h0.9v0.9h-0.9zM419.8 184.8h0.9v0.9h-0.9zM430.6 183.9h0.9v0.9h-0.9zM425.4 192.2h0.9v0.9h-0.9zM416.3 187.2h0.9v0.9h-0.9zM419.6 187.2h0.9v0.9h-0.9zM420.1 187.5h0.9v0.9h-0.9zM423.7 195.2h0.9v0.9h-0.9zM437.2 190.0h0.9v0.9h-0.9zM420.1 177.3h0.9v0.9h-0.9zM411.1 182.4h0.9v0.9h-0.9zM446.5 190.6h0.9v0.9h-0.9zM440.4 188.9h0.9v0.9h-0.9zM435.3 189.8h0.9v0.9h-0.9zM439.9 186.0h0.9v0.9h-0.9zM445.8 188.0h0.9v0.9h-0.9zM444.1 182.0h0.9v0.9h-0.9zM425.7 187.7h0.9v0.9h-0.9zM432.2 189.4h0.9v0.9h-0.9zM418.6 187.6h0.9v0.9h-0.9zM419.3 192.3h0.9v0.9h-0.9zM434.4 190.3h0.9v0.9h-0.9zM426.2 184.9h0.9v0.9h-0.9zM431.8 179.9h0.9v0.9h-0.9zM419.7 192.2h0.9v0.9h-0.9zM410.4 188.4h0.9v0.9h-0.9zM417.2 189.2h0.9v0.9h-0.9zM416.1 180.3h0.9v0.9h-0.9zM426.9 188.0h0.9v0.9h-0.9zM442.4 188.3h0.9v0.9h-0.9zM407.9 188.2h0.9v0.9h-0.9zM434.6 189.2h0.9v0.9h-0.9zM416.4 193.4h0.9v0.9h-0.9zM421.4 188.2h0.9v0.9h-0.9zM418.0 186.4h0.9v0.9h-0.9zM413.5 185.0h0.9v0.9h-0.9zM444.8 187.6h0.9v0.9h-0.9zM434.4 188.3h0.9v0.9h-0.9zM439.7 186.6h0.9v0.9h-0.9zM412.7 186.5h0.9v0.9h-0.9zM437.8 177.2h0.9v0.9h-0.9zM422.0 184.0h0.9v0.9h-0.9zM408.3 191.0h0.9v0.9h-0.9zM437.0 185.7h0.9v0.9h-0.9zM433.4 186.3h0.9v0.9h-0.9zM424.4 192.6h0.9v0.9h-0.9zM436.5 193.0h0.9v0.9h-0.9zM425.4 181.8h0.9v0.9h-0.9zM431.7 187.9h0.9v0.9h-0.9zM422.7 192.2h0.9v0.9h-0.9zM444.6 181.2h0.9v0.9h-0.9zM422.9 189.8h0.9v0.9h-0.9zM426.5 186.3h0.9v0.9h-0.9zM434.3 182.7h0.9v0.9h-0.9zM435.4 180.4h0.9v0.9h-0.9zM432.5 184.0h0.9v0.9h-0.9zM426.7 189.0h0.9v0.9h-0.9zM417.7 194.2h0.9v0.9h-0.9zM429.8 185.8h0.9v0.9h-0.9zM430.7 194.5h0.9v0.9h-0.9zM423.8 186.8h0.9v0.9h-0.9zM437.3 192.8h0.9v0.9h-0.9zM413.3 182.3h0.9v0.9h-0.9zM425.6 188.3h0.9v0.9h-0.9zM441.3 189.2h0.9v0.9h-0.9zM433.3 188.8h0.9v0.9h-0.9zM424.8 188.3h0.9v0.9h-0.9zM414.3 191.1h0.9v0.9h-0.9zM426.7 195.6h0.9v0.9h-0.9zM426.7 183.7h0.9v0.9h-0.9zM445.4 190.2h0.9v0.9h-0.9zM418.4 186.9h0.9v0.9h-0.9zM411.9 183.9h0.9v0.9h-0.9zM426.0 184.3h0.9v0.9h-0.9zM419.4 191.3h0.9v0.9h-0.9zM408.0 194.4h0.9v0.9h-0.9zM427.7 186.9h0.9v0.9h-0.9zM421.0 185.8h0.9v0.9h-0.9zM420.4 180.6h0.9v0.9h-0.9zM428.3 185.5h0.9v0.9h-0.9zM429.2 191.4h0.9v0.9h-0.9zM427.1 184.5h0.9v0.9h-0.9zM424.9 189.9h0.9v0.9h-0.9zM425.3 186.1h0.9v0.9h-0.9zM422.0 184.7h0.9v0.9h-0.9zM409.2 188.8h0.9v0.9h-0.9zM443.9 182.8h0.9v0.9h-0.9zM418.6 184.4h0.9v0.9h-0.9zM420.5 195.0h0.9v0.9h-0.9zM422.4 187.3h0.9v0.9h-0.9zM419.2 192.2h0.9v0.9h-0.9zM413.9 188.9h0.9v0.9h-0.9zM424.5 186.7h0.9v0.9h-0.9zM409.3 191.9h0.9v0.9h-0.9zM425.7 188.7h0.9v0.9h-0.9zM417.7 184.4h0.9v0.9h-0.9zM424.9 181.3h0.9v0.9h-0.9zM415.8 188.3h0.9v0.9h-0.9zM421.2 192.3h0.9v0.9h-0.9zM430.8 197.8h0.9v0.9h-0.9zM423.6 187.1h0.9v0.9h-0.9zM450.3 186.4h0.9v0.9h-0.9zM425.6 190.5h0.9v0.9h-0.9zM423.3 190.1h0.9v0.9h-0.9zM418.2 188.7h0.9v0.9h-0.9zM430.8 188.1h0.9v0.9h-0.9zM435.1 188.2h0.9v0.9h-0.9zM435.2 190.8h0.9v0.9h-0.9zM441.0 188.6h0.9v0.9h-0.9zM408.9 182.2h0.9v0.9h-0.9zM429.0 186.7h0.9v0.9h-0.9zM434.9 191.2h0.9v0.9h-0.9zM436.1 186.1h0.9v0.9h-0.9zM445.2 185.5h0.9v0.9h-0.9zM434.8 184.9h0.9v0.9h-0.9zM443.8 187.9h0.9v0.9h-0.9zM448.6 187.0h0.9v0.9h-0.9zM432.1 191.6h0.9v0.9h-0.9zM417.6 187.4h0.9v0.9h-0.9zM420.6 186.9h0.9v0.9h-0.9zM428.1 184.1h0.9v0.9h-0.9zM425.5 189.8h0.9v0.9h-0.9zM412.3 190.0h0.9v0.9h-0.9zM422.5 183.4h0.9v0.9h-0.9zM413.4 191.2h0.9v0.9h-0.9zM427.9 189.5h0.9v0.9h-0.9zM439.0 193.1h0.9v0.9h-0.9zM419.1 183.8h0.9v0.9h-0.9zM436.0 191.9h0.9v0.9h-0.9zM448.0 187.5h0.9v0.9h-0.9zM408.8 192.7h0.9v0.9h-0.9zM413.7 184.0h0.9v0.9h-0.9zM427.0 183.5h0.9v0.9h-0.9zM429.7 190.5h0.9v0.9h-0.9zM439.4 183.5h0.9v0.9h-0.9zM414.6 181.2h0.9v0.9h-0.9zM441.1 191.3h0.9v0.9h-0.9zM418.8 185.2h0.9v0.9h-0.9zM413.6 189.2h0.9v0.9h-0.9zM411.8 190.1h0.9v0.9h-0.9zM409.2 185.9h0.9v0.9h-0.9zM409.9 188.6h0.9v0.9h-0.9zM447.1 190.6h0.9v0.9h-0.9zM431.3 193.2h0.9v0.9h-0.9zM417.3 189.4h0.9v0.9h-0.9zM433.7 190.2h0.9v0.9h-0.9zM430.7 182.5h0.9v0.9h-0.9zM427.4 193.7h0.9v0.9h-0.9zM435.8 184.3h0.9v0.9h-0.9zM437.1 187.3h0.9v0.9h-0.9zM419.2 186.5h0.9v0.9h-0.9zM423.2 183.8h0.9v0.9h-0.9zM442.3 185.3h0.9v0.9h-0.9zM412.4 185.6h0.9v0.9h-0.9zM421.1 189.2h0.9v0.9h-0.9zM415.5 192.2h0.9v0.9h-0.9zM435.4 193.4h0.9v0.9h-0.9zM431.0 191.9h0.9v0.9h-0.9zM436.5 184.9h0.9v0.9h-0.9zM430.0 192.8h0.9v0.9h-0.9zM436.4 186.7h0.9v0.9h-0.9zM429.9 187.1h0.9v0.9h-0.9zM408.2 188.5h0.9v0.9h-0.9zM435.1 195.2h0.9v0.9h-0.9zM440.3 185.8h0.9v0.9h-0.9zM422.5 193.0h0.9v0.9h-0.9zM414.1 185.6h0.9v0.9h-0.9zM436.4 187.5h0.9v0.9h-0.9zM435.9 194.9h0.9v0.9h-0.9zM420.3 188.4h0.9v0.9h-0.9zM416.6 183.0h0.9v0.9h-0.9zM418.1 187.5h0.9v0.9h-0.9zM434.1 184.5h0.9v0.9h-0.9zM450.2 188.7h0.9v0.9h-0.9zM443.8 192.4h0.9v0.9h-0.9zM408.4 195.1h0.9v0.9h-0.9zM411.0 190.7h0.9v0.9h-0.9zM414.4 180.7h0.9v0.9h-0.9zM411.1 192.4h0.9v0.9h-0.9zM434.2 188.5h0.9v0.9h-0.9zM421.0 183.7h0.9v0.9h-0.9zM408.7 191.0h0.9v0.9h-0.9zM422.2 191.3h0.9v0.9h-0.9zM436.6 188.0h0.9v0.9h-0.9zM412.6 188.5h0.9v0.9h-0.9zM437.3 197.1h0.9v0.9h-0.9zM418.8 193.6h0.9v0.9h-0.9zM425.4 188.0h0.9v0.9h-0.9zM428.3 182.7h0.9v0.9h-0.9zM434.2 185.3h0.9v0.9h-0.9zM438.3 187.8h0.9v0.9h-0.9zM440.9 191.8h0.9v0.9h-0.9zM442.0 186.8h0.9v0.9h-0.9zM418.4 184.0h0.9v0.9h-0.9zM414.2 188.8h0.9v0.9h-0.9zM421.7 188.1h0.9v0.9h-0.9zM433.2 185.8h0.9v0.9h-0.9zM411.6 184.4h0.9v0.9h-0.9zM438.4 187.4h0.9v0.9h-0.9zM434.2 196.7h0.9v0.9h-0.9zM420.0 194.4h0.9v0.9h-0.9zM433.5 182.4h0.9v0.9h-0.9zM414.3 189.8h0.9v0.9h-0.9zM430.0 189.0h0.9v0.9h-0.9zM441.5 187.1h0.9v0.9h-0.9zM419.5 191.2h0.9v0.9h-0.9zM420.6 189.6h0.9v0.9h-0.9zM414.4 187.4h0.9v0.9h-0.9zM416.7 189.5h0.9v0.9h-0.9zM428.4 189.9h0.9v0.9h-0.9zM409.8 190.5h0.9v0.9h-0.9zM431.6 188.3h0.9v0.9h-0.9zM423.8 192.9h0.9v0.9h-0.9zM431.1 183.4h0.9v0.9h-0.9zM420.0 187.1h0.9v0.9h-0.9zM414.0 180.5h0.9v0.9h-0.9zM430.1 188.7h0.9v0.9h-0.9zM447.8 183.9h0.9v0.9h-0.9zM421.7 188.7h0.9v0.9h-0.9zM411.5 195.9h0.9v0.9h-0.9zM427.1 186.3h0.9v0.9h-0.9zM434.8 187.3h0.9v0.9h-0.9zM439.1 186.8h0.9v0.9h-0.9zM414.8 195.4h0.9v0.9h-0.9zM430.7 192.1h0.9v0.9h-0.9zM428.0 187.2h0.9v0.9h-0.9zM440.9 188.8h0.9v0.9h-0.9zM418.1 188.5h0.9v0.9h-0.9zM419.6 191.8h0.9v0.9h-0.9zM447.9 186.8h0.9v0.9h-0.9zM432.0 186.4h0.9v0.9h-0.9zM412.2 196.6h0.9v0.9h-0.9zM427.0 188.5h0.9v0.9h-0.9zM426.5 185.9h0.9v0.9h-0.9zM410.4 185.1h0.9v0.9h-0.9zM421.3 188.9h0.9v0.9h-0.9zM420.1 184.4h0.9v0.9h-0.9zM442.3 189.4h0.9v0.9h-0.9zM417.0 193.5h0.9v0.9h-0.9zM413.0 186.6h0.9v0.9h-0.9zM416.4 183.7h0.9v0.9h-0.9zM418.3 197.6h0.9v0.9h-0.9zM435.5 194.4h0.9v0.9h-0.9zM437.1 182.7h0.9v0.9h-0.9zM425.9 184.2h0.9v0.9h-0.9zM437.2 194.3h0.9v0.9h-0.9zM437.4 192.4h0.9v0.9h-0.9zM432.6 183.8h0.9v0.9h-0.9zM411.1 185.1h0.9v0.9h-0.9zM418.6 187.5h0.9v0.9h-0.9zM413.2 179.8h0.9v0.9h-0.9zM432.2 192.3h0.9v0.9h-0.9zM423.9 182.8h0.9v0.9h-0.9zM418.0 189.8h0.9v0.9h-0.9zM414.3 192.2h0.9v0.9h-0.9zM431.9 185.0h0.9v0.9h-0.9zM412.6 192.6h0.9v0.9h-0.9zM426.3 198.2h0.9v0.9h-0.9zM425.2 193.0h0.9v0.9h-0.9zM443.2 192.6h0.9v0.9h-0.9zM416.6 188.1h0.9v0.9h-0.9zM416.7 191.7h0.9v0.9h-0.9zM420.9 185.0h0.9v0.9h-0.9zM418.0 182.8h0.9v0.9h-0.9zM409.4 193.5h0.9v0.9h-0.9zM444.0 191.9h0.9v0.9h-0.9zM435.4 191.1h0.9v0.9h-0.9zM431.0 197.7h0.9v0.9h-0.9zM434.6 189.2h0.9v0.9h-0.9zM431.9 190.8h0.9v0.9h-0.9zM423.0 190.4h0.9v0.9h-0.9zM417.9 189.5h0.9v0.9h-0.9zM416.8 184.1h0.9v0.9h-0.9zM431.8 188.7h0.9v0.9h-0.9zM412.3 190.9h0.9v0.9h-0.9zM408.1 186.1h0.9v0.9h-0.9zM431.8 190.3h0.9v0.9h-0.9zM426.0 183.8h0.9v0.9h-0.9zM423.0 186.7h0.9v0.9h-0.9zM432.4 189.0h0.9v0.9h-0.9zM423.1 185.9h0.9v0.9h-0.9zM425.5 197.3h0.9v0.9h-0.9zM415.0 192.8h0.9v0.9h-0.9zM417.7 191.4h0.9v0.9h-0.9zM420.9 189.3h0.9v0.9h-0.9zM418.8 185.7h0.9v0.9h-0.9zM418.2 186.9h0.9v0.9h-0.9zM423.6 185.5h0.9v0.9h-0.9zM418.1 195.7h0.9v0.9h-0.9zM416.1 183.0h0.9v0.9h-0.9zM427.7 188.4h0.9v0.9h-0.9zM446.4 188.0h0.9v0.9h-0.9zM430.3 189.6h0.9v0.9h-0.9zM433.5 185.2h0.9v0.9h-0.9zM424.9 186.7h0.9v0.9h-0.9zM437.8 193.9h0.9v0.9h-0.9zM430.8 198.0h0.9v0.9h-0.9zM423.2 186.7h0.9v0.9h-0.9zM420.0 182.2h0.9v0.9h-0.9zM441.5 185.3h0.9v0.9h-0.9zM422.0 187.4h0.9v0.9h-0.9zM426.0 186.2h0.9v0.9h-0.9zM426.9 186.9h0.9v0.9h-0.9zM423.2 193.6h0.9v0.9h-0.9zM433.9 195.1h0.9v0.9h-0.9zM440.0 185.9h0.9v0.9h-0.9zM443.2 184.2h0.9v0.9h-0.9zM419.4 189.3h0.9v0.9h-0.9zM422.0 184.2h0.9v0.9h-0.9zM440.3 187.6h0.9v0.9h-0.9zM431.6 187.8h0.9v0.9h-0.9zM432.0 193.1h0.9v0.9h-0.9zM424.0 188.0h0.9v0.9h-0.9zM437.6 188.1h0.9v0.9h-0.9zM421.5 186.1h0.9v0.9h-0.9zM437.0 193.8h0.9v0.9h-0.9zM433.7 187.4h0.9v0.9h-0.9zM419.5 188.9h0.9v0.9h-0.9zM441.3 191.0h0.9v0.9h-0.9zM433.7 192.9h0.9v0.9h-0.9zM425.6 192.8h0.9v0.9h-0.9zM411.7 192.0h0.9v0.9h-0.9zM439.7 183.1h0.9v0.9h-0.9zM416.5 184.4h0.9v0.9h-0.9zM415.7 183.4h0.9v0.9h-0.9zM420.8 180.4h0.9v0.9h-0.9zM410.3 185.6h0.9v0.9h-0.9zM422.9 182.3h0.9v0.9h-0.9zM421.4 185.0h0.9v0.9h-0.9zM434.3 186.8h0.9v0.9h-0.9zM422.8 188.4h0.9v0.9h-0.9zM420.8 190.2h0.9v0.9h-0.9zM439.5 181.1h0.9v0.9h-0.9zM441.1 192.6h0.9v0.9h-0.9zM420.5 190.0h0.9v0.9h-0.9zM416.6 188.4h0.9v0.9h-0.9zM420.0 188.5h0.9v0.9h-0.9zM436.9 192.0h0.9v0.9h-0.9zM422.8 189.8h0.9v0.9h-0.9zM443.0 191.1h0.9v0.9h-0.9zM422.8 187.0h0.9v0.9h-0.9zM433.9 192.2h0.9v0.9h-0.9zM420.4 194.6h0.9v0.9h-0.9zM424.2 182.2h0.9v0.9h-0.9zM427.8 190.4h0.9v0.9h-0.9zM416.9 196.0h0.9v0.9h-0.9zM433.1 190.6h0.9v0.9h-0.9zM425.4 189.9h0.9v0.9h-0.9zM427.1 183.6h0.9v0.9h-0.9zM408.9 191.8h0.9v0.9h-0.9zM415.0 193.4h0.9v0.9h-0.9zM423.4 189.3h0.9v0.9h-0.9zM417.2 191.2h0.9v0.9h-0.9zM415.5 187.5h0.9v0.9h-0.9zM424.2 187.2h0.9v0.9h-0.9zM417.3 187.0h0.9v0.9h-0.9zM428.7 186.4h0.9v0.9h-0.9zM420.7 186.9h0.9v0.9h-0.9zM438.2 181.4h0.9v0.9h-0.9zM424.1 182.6h0.9v0.9h-0.9zM416.1 183.6h0.9v0.9h-0.9zM421.4 189.8h0.9v0.9h-0.9zM425.7 181.6h0.9v0.9h-0.9zM424.3 181.6h0.9v0.9h-0.9zM423.0 186.7h0.9v0.9h-0.9zM436.7 191.0h0.9v0.9h-0.9zM441.0 194.3h0.9v0.9h-0.9zM429.2 186.9h0.9v0.9h-0.9zM423.9 184.7h0.9v0.9h-0.9zM424.9 190.3h0.9v0.9h-0.9zM409.5 186.4h0.9v0.9h-0.9zM435.5 192.7h0.9v0.9h-0.9zM428.3 188.9h0.9v0.9h-0.9zM435.4 185.1h0.9v0.9h-0.9zM421.3 194.2h0.9v0.9h-0.9zM412.5 186.4h0.9v0.9h-0.9zM430.7 191.6h0.9v0.9h-0.9zM424.5 187.9h0.9v0.9h-0.9zM436.8 183.7h0.9v0.9h-0.9zM426.6 193.3h0.9v0.9h-0.9zM421.5 188.1h0.9v0.9h-0.9zM439.7 187.0h0.9v0.9h-0.9zM419.3 192.2h0.9v0.9h-0.9zM411.6 187.4h0.9v0.9h-0.9zM431.3 192.3h0.9v0.9h-0.9zM417.9 184.5h0.9v0.9h-0.9zM431.3 187.8h0.9v0.9h-0.9zM411.3 187.2h0.9v0.9h-0.9zM425.7 193.2h0.9v0.9h-0.9zM434.6 186.0h0.9v0.9h-0.9zM421.5 183.2h0.9v0.9h-0.9zM426.1 194.7h0.9v0.9h-0.9zM409.8 186.5h0.9v0.9h-0.9zM438.2 191.4h0.9v0.9h-0.9zM433.6 191.0h0.9v0.9h-0.9zM427.5 190.2h0.9v0.9h-0.9zM425.6 194.4h0.9v0.9h-0.9zM435.1 186.0h0.9v0.9h-0.9zM427.9 194.6h0.9v0.9h-0.9zM419.0 189.3h0.9v0.9h-0.9zM431.8 184.4h0.9v0.9h-0.9zM436.1 192.2h0.9v0.9h-0.9zM436.8 189.8h0.9v0.9h-0.9zM426.8 188.2h0.9v0.9h-0.9zM425.0 191.1h0.9v0.9h-0.9zM412.5 195.2h0.9v0.9h-0.9zM420.4 188.6h0.9v0.9h-0.9zM424.8 188.5h0.9v0.9h-0.9zM431.2 190.4h0.9v0.9h-0.9zM432.9 189.0h0.9v0.9h-0.9zM440.4 185.9h0.9v0.9h-0.9zM436.7 187.8h0.9v0.9h-0.9zM408.9 191.3h0.9v0.9h-0.9zM445.4 186.9h0.9v0.9h-0.9zM440.4 195.2h0.9v0.9h-0.9zM408.6 191.6h0.9v0.9h-0.9zM407.9 188.1h0.9v0.9h-0.9zM418.1 189.8h0.9v0.9h-0.9zM433.3 187.9h0.9v0.9h-0.9zM429.2 184.4h0.9v0.9h-0.9zM428.7 184.9h0.9v0.9h-0.9zM422.0 180.2h0.9v0.9h-0.9zM415.2 199.3h0.9v0.9h-0.9zM444.4 193.7h0.9v0.9h-0.9zM409.5 189.5h0.9v0.9h-0.9zM430.2 193.3h0.9v0.9h-0.9zM425.4 182.3h0.9v0.9h-0.9zM425.8 193.1h0.9v0.9h-0.9zM427.3 187.8h0.9v0.9h-0.9zM421.0 189.3h0.9v0.9h-0.9zM433.3 184.3h0.9v0.9h-0.9zM442.7 193.0h0.9v0.9h-0.9zM412.1 188.3h0.9v0.9h-0.9zM408.9 187.2h0.9v0.9h-0.9zM437.7 185.3h0.9v0.9h-0.9zM433.5 184.4h0.9v0.9h-0.9zM426.3 180.8h0.9v0.9h-0.9zM420.0 191.4h0.9v0.9h-0.9zM423.6 181.9h0.9v0.9h-0.9zM419.3 188.7h0.9v0.9h-0.9zM417.1 184.5h0.9v0.9h-0.9zM419.6 188.7h0.9v0.9h-0.9zM439.3 187.5h0.9v0.9h-0.9zM420.4 183.8h0.9v0.9h-0.9zM426.1 181.7h0.9v0.9h-0.9zM426.2 186.8h0.9v0.9h-0.9zM412.4 190.1h0.9v0.9h-0.9zM426.3 189.5h0.9v0.9h-0.9zM427.2 191.1h0.9v0.9h-0.9zM413.8 186.9h0.9v0.9h-0.9zM423.3 190.2h0.9v0.9h-0.9zM420.2 190.6h0.9v0.9h-0.9zM425.2 189.0h0.9v0.9h-0.9zM413.6 190.4h0.9v0.9h-0.9zM417.2 198.7h0.9v0.9h-0.9zM429.6 189.7h0.9v0.9h-0.9zM439.2 184.7h0.9v0.9h-0.9zM440.7 188.5h0.9v0.9h-0.9zM443.3 184.8h0.9v0.9h-0.9zM436.7 187.5h0.9v0.9h-0.9zM441.9 185.9h0.9v0.9h-0.9zM413.8 187.7h0.9v0.9h-0.9zM420.3 194.6h0.9v0.9h-0.9zM438.1 181.2h0.9v0.9h-0.9zM424.6 193.0h0.9v0.9h-0.9zM414.2 188.3h0.9v0.9h-0.9zM440.2 183.9h0.9v0.9h-0.9zM443.0 183.0h0.9v0.9h-0.9zM426.1 183.2h0.9v0.9h-0.9zM441.9 184.8h0.9v0.9h-0.9zM447.0 192.3h0.9v0.9h-0.9zM431.6 185.5h0.9v0.9h-0.9zM414.1 192.1h0.9v0.9h-0.9zM424.2 188.1h0.9v0.9h-0.9zM412.6 185.5h0.9v0.9h-0.9zM432.9 177.6h0.9v0.9h-0.9zM433.1 180.6h0.9v0.9h-0.9zM415.1 184.1h0.9v0.9h-0.9zM409.7 184.9h0.9v0.9h-0.9zM416.5 191.2h0.9v0.9h-0.9zM429.6 187.9h0.9v0.9h-0.9zM432.2 185.8h0.9v0.9h-0.9zM445.2 192.2h0.9v0.9h-0.9zM416.1 186.1h0.9v0.9h-0.9zM415.6 180.3h0.9v0.9h-0.9zM410.2 191.5h0.9v0.9h-0.9zM435.3 190.0h0.9v0.9h-0.9zM437.7 190.1h0.9v0.9h-0.9zM411.3 190.9h0.9v0.9h-0.9zM426.1 187.5h0.9v0.9h-0.9zM418.0 184.1h0.9v0.9h-0.9zM425.7 198.4h0.9v0.9h-0.9zM436.8 185.5h0.9v0.9h-0.9zM415.3 185.3h0.9v0.9h-0.9zM429.8 184.9h0.9v0.9h-0.9zM425.3 190.0h0.9v0.9h-0.9zM428.7 193.0h0.9v0.9h-0.9zM415.4 185.9h0.9v0.9h-0.9zM429.3 193.7h0.9v0.9h-0.9zM430.6 191.8h0.9v0.9h-0.9zM429.9 191.3h0.9v0.9h-0.9zM413.7 182.3h0.9v0.9h-0.9zM412.3 185.7h0.9v0.9h-0.9zM409.0 192.7h0.9v0.9h-0.9zM434.6 185.9h0.9v0.9h-0.9zM425.9 189.7h0.9v0.9h-0.9zM439.4 187.1h0.9v0.9h-0.9zM430.6 186.3h0.9v0.9h-0.9zM432.5 188.7h0.9v0.9h-0.9zM438.9 191.5h0.9v0.9h-0.9zM426.1 185.7h0.9v0.9h-0.9zM417.8 190.6h0.9v0.9h-0.9zM437.2 186.8h0.9v0.9h-0.9zM430.0 190.1h0.9v0.9h-0.9zM433.1 188.0h0.9v0.9h-0.9zM421.4 187.5h0.9v0.9h-0.9zM431.1 192.6h0.9v0.9h-0.9zM418.7 186.3h0.9v0.9h-0.9zM442.0 178.8h0.9v0.9h-0.9zM412.8 185.7h0.9v0.9h-0.9zM422.1 192.8h0.9v0.9h-0.9zM426.3 186.0h0.9v0.9h-0.9zM422.9 184.3h0.9v0.9h-0.9zM427.7 191.5h0.9v0.9h-0.9zM430.4 193.0h0.9v0.9h-0.9zM420.7 184.0h0.9v0.9h-0.9zM423.9 188.3h0.9v0.9h-0.9zM433.9 190.5h0.9v0.9h-0.9zM421.7 192.0h0.9v0.9h-0.9zM437.6 197.3h0.9v0.9h-0.9zM427.0 188.2h0.9v0.9h-0.9zM419.9 190.3h0.9v0.9h-0.9zM412.1 186.7h0.9v0.9h-0.9zM435.9 190.5h0.9v0.9h-0.9zM427.7 188.0h0.9v0.9h-0.9zM415.9 187.3h0.9v0.9h-0.9zM438.8 178.1h0.9v0.9h-0.9zM410.9 184.9h0.9v0.9h-0.9zM421.8 187.7h0.9v0.9h-0.9zM427.7 182.1h0.9v0.9h-0.9zM438.4 194.1h0.9v0.9h-0.9zM417.1 194.7h0.9v0.9h-0.9zM409.1 182.1h0.9v0.9h-0.9zM414.7 186.0h0.9v0.9h-0.9zM440.8 183.1h0.9v0.9h-0.9zM439.0 190.9h0.9v0.9h-0.9zM409.9 196.8h0.9v0.9h-0.9zM447.9 185.5h0.9v0.9h-0.9zM438.9 183.2h0.9v0.9h-0.9zM426.3 190.8h0.9v0.9h-0.9zM417.2 186.6h0.9v0.9h-0.9zM438.7 189.8h0.9v0.9h-0.9zM421.9 189.2h0.9v0.9h-0.9zM424.4 192.0h0.9v0.9h-0.9zM419.3 187.7h0.9v0.9h-0.9zM430.6 192.6h0.9v0.9h-0.9zM424.9 186.4h0.9v0.9h-0.9zM437.3 185.5h0.9v0.9h-0.9zM440.0 189.9h0.9v0.9h-0.9zM434.8 188.3h0.9v0.9h-0.9zM411.3 187.3h0.9v0.9h-0.9zM438.3 194.1h0.9v0.9h-0.9zM428.7 189.1h0.9v0.9h-0.9zM416.1 188.4h0.9v0.9h-0.9zM421.0 187.7h0.9v0.9h-0.9zM425.4 189.4h0.9v0.9h-0.9zM419.0 188.1h0.9v0.9h-0.9zM438.4 183.9h0.9v0.9h-0.9zM437.5 185.1h0.9v0.9h-0.9zM409.7 188.2h0.9v0.9h-0.9zM433.2 192.5h0.9v0.9h-0.9zM418.1 194.2h0.9v0.9h-0.9zM409.3 186.7h0.9v0.9h-0.9zM415.9 178.7h0.9v0.9h-0.9zM418.0 191.0h0.9v0.9h-0.9zM439.7 186.8h0.9v0.9h-0.9zM428.1 183.2h0.9v0.9h-0.9zM427.0 184.4h0.9v0.9h-0.9zM432.7 189.7h0.9v0.9h-0.9zM419.4 187.5h0.9v0.9h-0.9zM427.8 188.9h0.9v0.9h-0.9zM436.5 184.0h0.9v0.9h-0.9zM435.8 182.9h0.9v0.9h-0.9zM414.3 188.4h0.9v0.9h-0.9zM444.5 192.4h0.9v0.9h-0.9zM417.2 184.9h0.9v0.9h-0.9zM425.2 188.8h0.9v0.9h-0.9zM416.9 187.3h0.9v0.9h-0.9zM431.0 183.4h0.9v0.9h-0.9zM438.7 188.4h0.9v0.9h-0.9zM431.1 184.9h0.9v0.9h-0.9zM415.2 185.1h0.9v0.9h-0.9zM409.8 188.1h0.9v0.9h-0.9zM425.4 189.4h0.9v0.9h-0.9zM429.7 186.6h0.9v0.9h-0.9zM436.6 187.2h0.9v0.9h-0.9zM433.1 183.6h0.9v0.9h-0.9z" fill="#94121f" fill-opacity="1"/>
<path d="M446.8 187.9h0.9v0.9h-0.9zM416.6 191.4h0.9v0.9h-0.9zM446.6 178.8h0.9v0.9h-0.9zM425.0 181.7h0.9v0.9h-0.9zM422.1 185.4h0.9v0.9h-0.9zM448.2 180.0h0.9v0.9h-0.9zM414.9 182.6h0.9v0.9h-0.9zM447.9 198.6h0.9v0.9h-0.9zM428.4 189.8h0.9v0.9h-0.9zM436.1 185.5h0.9v0.9h-0.9zM422.4 186.8h0.9v0.9h-0.9zM416.1 183.1h0.9v0.9h-0.9zM419.7 187.0h0.9v0.9h-0.9zM448.1 177.3h0.9v0.9h-0.9zM426.1 201.5h0.9v0.9h-0.9zM419.1 194.4h0.9v0.9h-0.9zM439.5 180.9h0.9v0.9h-0.9zM409.2 189.6h0.9v0.9h-0.9zM417.8 188.9h0.9v0.9h-0.9zM446.8 180.7h0.9v0.9h-0.9zM407.9 184.5h0.9v0.9h-0.9zM425.5 186.6h0.9v0.9h-0.9zM446.3 188.5h0.9v0.9h-0.9zM414.4 183.8h0.9v0.9h-0.9zM424.7 186.1h0.9v0.9h-0.9zM428.4 187.9h0.9v0.9h-0.9zM437.3 193.5h0.9v0.9h-0.9zM435.5 206.6h0.9v0.9h-0.9zM412.5 198.8h0.9v0.9h-0.9zM417.7 187.6h0.9v0.9h-0.9zM429.5 196.0h0.9v0.9h-0.9zM447.7 196.9h0.9v0.9h-0.9zM435.4 194.8h0.9v0.9h-0.9zM419.2 184.0h0.9v0.9h-0.9zM447.0 195.4h0.9v0.9h-0.9zM442.1 186.2h0.9v0.9h-0.9zM423.6 189.4h0.9v0.9h-0.9zM443.9 182.2h0.9v0.9h-0.9zM436.0 192.0h0.9v0.9h-0.9zM409.6 182.2h0.9v0.9h-0.9zM412.8 179.9h0.9v0.9h-0.9zM426.2 192.6h0.9v0.9h-0.9zM431.2 184.4h0.9v0.9h-0.9zM423.1 181.9h0.9v0.9h-0.9zM423.0 186.6h0.9v0.9h-0.9zM448.7 179.4h0.9v0.9h-0.9zM428.4 179.0h0.9v0.9h-0.9zM424.0 200.3h0.9v0.9h-0.9zM437.9 193.2h0.9v0.9h-0.9zM419.7 197.4h0.9v0.9h-0.9zM448.2 176.6h0.9v0.9h-0.9zM432.8 202.8h0.9v0.9h-0.9zM422.9 172.5h0.9v0.9h-0.9zM438.5 183.5h0.9v0.9h-0.9zM444.2 179.5h0.9v0.9h-0.9zM414.0 184.8h0.9v0.9h-0.9zM444.6 182.1h0.9v0.9h-0.9zM421.2 180.6h0.9v0.9h-0.9zM441.5 182.5h0.9v0.9h-0.9zM451.6 187.9h0.9v0.9h-0.9zM441.9 182.8h0.9v0.9h-0.9zM438.6 176.1h0.9v0.9h-0.9zM424.8 204.7h0.9v0.9h-0.9zM437.5 184.5h0.9v0.9h-0.9zM427.0 186.7h0.9v0.9h-0.9zM447.1 189.0h0.9v0.9h-0.9zM444.5 182.0h0.9v0.9h-0.9zM443.3 184.3h0.9v0.9h-0.9zM408.7 184.4h0.9v0.9h-0.9zM434.7 192.3h0.9v0.9h-0.9zM423.5 176.5h0.9v0.9h-0.9zM426.0 179.0h0.9v0.9h-0.9zM412.9 203.2h0.9v0.9h-0.9zM428.5 190.2h0.9v0.9h-0.9zM427.3 192.4h0.9v0.9h-0.9zM407.8 189.7h0.9v0.9h-0.9zM447.4 195.3h0.9v0.9h-0.9zM428.7 190.9h0.9v0.9h-0.9zM433.1 190.9h0.9v0.9h-0.9zM436.1 199.6h0.9v0.9h-0.9zM451.3 194.2h0.9v0.9h-0.9zM412.3 192.5h0.9v0.9h-0.9zM420.6 189.4h0.9v0.9h-0.9zM443.5 190.8h0.9v0.9h-0.9zM420.0 188.6h0.9v0.9h-0.9zM443.0 175.3h0.9v0.9h-0.9zM408.9 176.5h0.9v0.9h-0.9zM435.7 181.4h0.9v0.9h-0.9zM434.5 176.6h0.9v0.9h-0.9zM431.4 195.3h0.9v0.9h-0.9zM423.4 180.5h0.9v0.9h-0.9zM416.1 189.2h0.9v0.9h-0.9zM437.5 194.5h0.9v0.9h-0.9zM408.3 179.6h0.9v0.9h-0.9zM425.7 189.4h0.9v0.9h-0.9zM430.1 185.0h0.9v0.9h-0.9zM438.0 182.4h0.9v0.9h-0.9zM408.6 187.6h0.9v0.9h-0.9zM438.9 194.1h0.9v0.9h-0.9zM431.0 197.8h0.9v0.9h-0.9zM439.8 204.4h0.9v0.9h-0.9zM440.9 202.1h0.9v0.9h-0.9zM446.4 193.8h0.9v0.9h-0.9zM424.5 200.0h0.9v0.9h-0.9zM438.7 186.5h0.9v0.9h-0.9zM449.7 181.7h0.9v0.9h-0.9zM427.2 177.4h0.9v0.9h-0.9zM414.5 191.4h0.9v0.9h-0.9zM447.4 181.3h0.9v0.9h-0.9zM414.2 202.6h0.9v0.9h-0.9zM413.3 184.3h0.9v0.9h-0.9zM427.2 186.0h0.9v0.9h-0.9zM416.6 187.0h0.9v0.9h-0.9zM438.1 176.9h0.9v0.9h-0.9zM413.7 198.5h0.9v0.9h-0.9zM411.4 191.9h0.9v0.9h-0.9zM439.5 172.4h0.9v0.9h-0.9zM444.0 183.9h0.9v0.9h-0.9zM436.8 193.2h0.9v0.9h-0.9zM420.7 181.1h0.9v0.9h-0.9zM410.5 185.8h0.9v0.9h-0.9zM435.8 178.4h0.9v0.9h-0.9zM430.4 172.8h0.9v0.9h-0.9zM424.4 193.7h0.9v0.9h-0.9zM414.0 201.1h0.9v0.9h-0.9zM447.4 185.2h0.9v0.9h-0.9zM451.4 185.0h0.9v0.9h-0.9zM429.6 190.7h0.9v0.9h-0.9zM429.5 179.0h0.9v0.9h-0.9zM418.9 197.6h0.9v0.9h-0.9zM450.7 190.4h0.9v0.9h-0.9zM444.5 195.0h0.9v0.9h-0.9zM418.1 188.1h0.9v0.9h-0.9zM425.9 183.1h0.9v0.9h-0.9zM428.6 189.3h0.9v0.9h-0.9zM449.4 203.0h0.9v0.9h-0.9zM448.7 189.9h0.9v0.9h-0.9zM427.3 190.4h0.9v0.9h-0.9zM440.5 170.7h0.9v0.9h-0.9zM451.5 183.4h0.9v0.9h-0.9zM438.0 188.5h0.9v0.9h-0.9zM410.7 196.6h0.9v0.9h-0.9zM425.2 189.1h0.9v0.9h-0.9zM416.0 182.5h0.9v0.9h-0.9zM431.6 197.6h0.9v0.9h-0.9zM412.7 182.4h0.9v0.9h-0.9zM426.9 190.8h0.9v0.9h-0.9zM426.3 202.6h0.9v0.9h-0.9zM427.4 193.5h0.9v0.9h-0.9zM427.6 184.6h0.9v0.9h-0.9zM451.1 185.8h0.9v0.9h-0.9zM436.5 197.8h0.9v0.9h-0.9zM422.6 183.6h0.9v0.9h-0.9zM444.5 183.3h0.9v0.9h-0.9zM432.4 187.6h0.9v0.9h-0.9zM438.6 179.3h0.9v0.9h-0.9zM425.0 193.3h0.9v0.9h-0.9zM422.2 194.7h0.9v0.9h-0.9zM408.4 190.1h0.9v0.9h-0.9zM429.0 179.9h0.9v0.9h-0.9zM438.9 192.6h0.9v0.9h-0.9zM439.5 190.6h0.9v0.9h-0.9zM409.6 195.1h0.9v0.9h-0.9zM450.5 182.4h0.9v0.9h-0.9zM445.8 183.2h0.9v0.9h-0.9zM427.0 192.8h0.9v0.9h-0.9zM441.8 177.4h0.9v0.9h-0.9zM451.6 191.8h0.9v0.9h-0.9zM440.9 176.7h0.9v0.9h-0.9zM429.6 187.9h0.9v0.9h-0.9zM433.5 173.6h0.9v0.9h-0.9zM451.4 197.4h0.9v0.9h-0.9zM432.9 185.7h0.9v0.9h-0.9zM432.8 187.7h0.9v0.9h-0.9zM448.9 189.6h0.9v0.9h-0.9zM419.1 201.9h0.9v0.9h-0.9zM439.3 187.0h0.9v0.9h-0.9zM442.1 198.9h0.9v0.9h-0.9zM409.2 193.9h0.9v0.9h-0.9zM418.6 181.3h0.9v0.9h-0.9zM421.4 177.4h0.9v0.9h-0.9zM415.7 184.9h0.9v0.9h-0.9zM410.9 190.2h0.9v0.9h-0.9zM425.6 199.6h0.9v0.9h-0.9zM441.5 188.0h0.9v0.9h-0.9zM433.9 181.9h0.9v0.9h-0.9zM414.2 180.6h0.9v0.9h-0.9zM418.3 182.1h0.9v0.9h-0.9zM437.3 201.9h0.9v0.9h-0.9zM432.0 204.3h0.9v0.9h-0.9zM448.6 186.5h0.9v0.9h-0.9zM440.2 184.5h0.9v0.9h-0.9zM435.0 180.7h0.9v0.9h-0.9zM441.4 197.0h0.9v0.9h-0.9zM437.8 192.9h0.9v0.9h-0.9zM423.0 178.4h0.9v0.9h-0.9zM416.2 189.3h0.9v0.9h-0.9zM414.2 197.7h0.9v0.9h-0.9zM418.3 188.8h0.9v0.9h-0.9zM434.8 187.6h0.9v0.9h-0.9zM425.8 187.6h0.9v0.9h-0.9zM428.9 183.4h0.9v0.9h-0.9zM417.2 203.9h0.9v0.9h-0.9zM424.0 190.5h0.9v0.9h-0.9zM420.8 195.6h0.9v0.9h-0.9zM431.7 186.1h0.9v0.9h-0.9zM414.0 176.0h0.9v0.9h-0.9zM444.2 197.1h0.9v0.9h-0.9zM444.0 193.7h0.9v0.9h-0.9zM410.1 186.2h0.9v0.9h-0.9zM413.6 183.5h0.9v0.9h-0.9zM424.1 181.4h0.9v0.9h-0.9zM439.3 190.9h0.9v0.9h-0.9zM426.2 199.1h0.9v0.9h-0.9zM414.0 189.8h0.9v0.9h-0.9zM443.2 184.3h0.9v0.9h-0.9zM441.4 181.4h0.9v0.9h-0.9zM416.9 192.2h0.9v0.9h-0.9zM414.0 186.6h0.9v0.9h-0.9zM432.7 182.2h0.9v0.9h-0.9zM424.1 188.5h0.9v0.9h-0.9zM441.5 193.5h0.9v0.9h-0.9zM426.9 197.8h0.9v0.9h-0.9zM414.6 201.5h0.9v0.9h-0.9zM417.9 194.3h0.9v0.9h-0.9zM442.2 197.0h0.9v0.9h-0.9zM409.2 199.4h0.9v0.9h-0.9zM444.5 183.7h0.9v0.9h-0.9zM426.4 185.9h0.9v0.9h-0.9zM419.4 190.3h0.9v0.9h-0.9zM446.3 185.5h0.9v0.9h-0.9zM444.6 204.7h0.9v0.9h-0.9zM448.5 194.0h0.9v0.9h-0.9zM444.6 195.1h0.9v0.9h-0.9zM421.6 189.1h0.9v0.9h-0.9zM431.4 190.5h0.9v0.9h-0.9zM432.1 190.4h0.9v0.9h-0.9zM435.8 194.6h0.9v0.9h-0.9zM415.4 192.4h0.9v0.9h-0.9zM426.4 174.2h0.9v0.9h-0.9zM413.6 183.3h0.9v0.9h-0.9zM412.4 186.3h0.9v0.9h-0.9zM439.2 183.4h0.9v0.9h-0.9zM418.7 186.8h0.9v0.9h-0.9zM439.8 195.0h0.9v0.9h-0.9zM433.7 185.5h0.9v0.9h-0.9zM417.6 179.4h0.9v0.9h-0.9zM421.3 191.1h0.9v0.9h-0.9zM434.5 186.8h0.9v0.9h-0.9zM413.0 188.4h0.9v0.9h-0.9zM426.1 194.7h0.9v0.9h-0.9zM434.0 196.5h0.9v0.9h-0.9zM435.4 196.7h0.9v0.9h-0.9zM441.9 182.2h0.9v0.9h-0.9zM412.9 201.1h0.9v0.9h-0.9zM433.9 176.6h0.9v0.9h-0.9zM444.4 181.4h0.9v0.9h-0.9zM414.9 186.5h0.9v0.9h-0.9zM429.0 186.0h0.9v0.9h-0.9zM447.3 176.0h0.9v0.9h-0.9zM430.7 195.8h0.9v0.9h-0.9zM408.6 186.5h0.9v0.9h-0.9zM426.6 176.5h0.9v0.9h-0.9zM418.1 185.7h0.9v0.9h-0.9zM408.9 188.2h0.9v0.9h-0.9zM445.4 184.2h0.9v0.9h-0.9zM432.8 195.0h0.9v0.9h-0.9zM441.9 195.9h0.9v0.9h-0.9zM417.7 191.5h0.9v0.9h-0.9zM414.4 188.3h0.9v0.9h-0.9zM434.1 184.5h0.9v0.9h-0.9zM448.6 179.9h0.9v0.9h-0.9zM416.7 197.9h0.9v0.9h-0.9zM423.3 191.7h0.9v0.9h-0.9zM425.3 176.7h0.9v0.9h-0.9zM420.4 198.5h0.9v0.9h-0.9zM438.4 183.4h0.9v0.9h-0.9zM448.1 186.5h0.9v0.9h-0.9zM419.1 187.5h0.9v0.9h-0.9zM438.8 193.7h0.9v0.9h-0.9zM438.4 186.5h0.9v0.9h-0.9zM434.1 191.8h0.9v0.9h-0.9zM422.7 178.6h0.9v0.9h-0.9zM407.9 185.6h0.9v0.9h-0.9zM409.8 195.3h0.9v0.9h-0.9zM411.7 175.3h0.9v0.9h-0.9zM417.7 176.3h0.9v0.9h-0.9zM421.5 195.3h0.9v0.9h-0.9zM450.1 202.7h0.9v0.9h-0.9zM410.3 197.8h0.9v0.9h-0.9zM434.4 200.8h0.9v0.9h-0.9zM448.2 186.9h0.9v0.9h-0.9zM423.3 204.6h0.9v0.9h-0.9zM419.9 184.5h0.9v0.9h-0.9zM441.9 193.5h0.9v0.9h-0.9zM425.1 186.4h0.9v0.9h-0.9zM441.9 174.0h0.9v0.9h-0.9zM427.0 181.5h0.9v0.9h-0.9zM427.6 192.0h0.9v0.9h-0.9zM446.5 194.2h0.9v0.9h-0.9zM419.4 199.7h0.9v0.9h-0.9zM433.0 180.8h0.9v0.9h-0.9zM421.1 192.8h0.9v0.9h-0.9zM444.4 189.0h0.9v0.9h-0.9zM450.2 194.9h0.9v0.9h-0.9zM449.2 187.6h0.9v0.9h-0.9zM427.3 177.9h0.9v0.9h-0.9zM444.0 201.1h0.9v0.9h-0.9zM437.8 188.2h0.9v0.9h-0.9zM415.9 192.5h0.9v0.9h-0.9zM419.4 192.5h0.9v0.9h-0.9zM421.7 198.1h0.9v0.9h-0.9zM417.3 194.2h0.9v0.9h-0.9zM407.9 184.0h0.9v0.9h-0.9zM408.2 187.3h0.9v0.9h-0.9zM432.4 188.4h0.9v0.9h-0.9zM408.9 178.8h0.9v0.9h-0.9zM431.7 191.0h0.9v0.9h-0.9zM417.4 199.6h0.9v0.9h-0.9zM443.8 171.9h0.9v0.9h-0.9zM449.0 196.1h0.9v0.9h-0.9zM431.8 187.7h0.9v0.9h-0.9zM426.1 190.0h0.9v0.9h-0.9zM417.8 184.6h0.9v0.9h-0.9zM422.6 182.7h0.9v0.9h-0.9z" fill="#9c1c2c" fill-opacity="1"/>
<path d="M482.2 186.4h0.9v0.9h-0.9zM471.7 192.7h0.9v0.9h-0.9zM477.4 183.7h0.9v0.9h-0.9zM472.4 199.7h0.9v0.9h-0.9zM476.3 195.3h0.9v0.9h-0.9zM468.0 197.8h0.9v0.9h-0.9zM473.5 192.6h0.9v0.9h-0.9zM477.8 188.2h0.9v0.9h-0.9zM478.3 190.5h0.9v0.9h-0.9zM484.1 186.5h0.9v0.9h-0.9zM471.2 192.5h0.9v0.9h-0.9zM471.0 194.0h0.9v0.9h-0.9zM476.4 193.8h0.9v0.9h-0.9zM479.0 189.6h0.9v0.9h-0.9zM472.9 201.0h0.9v0.9h-0.9zM479.2 185.9h0.9v0.9h-0.9zM470.7 200.1h0.9v0.9h-0.9zM472.6 193.4h0.9v0.9h-0.9zM474.3 191.5h0.9v0.9h-0.9zM479.7 189.7h0.9v0.9h-0.9zM483.1 193.9h0.9v0.9h-0.9zM475.0 191.0h0.9v0.9h-0.9zM472.7 187.7h0.9v0.9h-0.9zM479.0 189.3h0.9v0.9h-0.9zM479.9 193.2h0.9v0.9h-0.9zM474.9 198.1h0.9v0.9h-0.9zM471.1 197.1h0.9v0.9h-0.9zM478.5 193.8h0.9v0.9h-0.9zM483.9 185.0h0.9v0.9h-0.9zM476.0 194.2h0.9v0.9h-0.9zM467.7 197.4h0.9v0.9h-0.9zM470.0 199.9h0.9v0.9h-0.9zM467.0 201.0h0.9v0.9h-0.9zM474.2 190.2h0.9v0.9h-0.9zM469.5 192.5h0.9v0.9h-0.9zM464.9 206.3h0.9v0.9h-0.9zM485.6 178.8h0.9v0.9h-0.9zM476.7 195.3h0.9v0.9h-0.9zM473.3 196.7h0.9v0.9h-0.9zM481.8 184.1h0.9v0.9h-0.9zM469.0 196.9h0.9v0.9h-0.9zM483.7 187.8h0.9v0.9h-0.9zM472.1 191.1h0.9v0.9h-0.9zM474.1 195.7h0.9v0.9h-0.9zM464.9 203.7h0.9v0.9h-0.9zM471.5 198.7h0.9v0.9h-0.9zM468.0 196.5h0.9v0.9h-0.9zM477.7 193.6h0.9v0.9h-0.9zM475.0 192.4h0.9v0.9h-0.9zM475.4 195.3h0.9v0.9h-0.9zM480.6 186.1h0.9v0.9h-0.9zM476.8 190.6h0.9v0.9h-0.9zM489.6 176.4h0.9v0.9h-0.9zM479.7 192.8h0.9v0.9h-0.9zM482.8 186.1h0.9v0.9h-0.9zM468.3 199.7h0.9v0.9h-0.9zM477.7 192.7h0.9v0.9h-0.9zM483.8 191.3h0.9v0.9h-0.9zM472.8 188.7h0.9v0.9h-0.9zM481.3 191.9h0.9v0.9h-0.9zM484.0 191.9h0.9v0.9h-0.9zM462.6 206.7h0.9v0.9h-0.9zM477.2 200.0h0.9v0.9h-0.9zM478.9 195.5h0.9v0.9h-0.9zM469.6 202.0h0.9v0.9h-0.9zM478.2 192.5h0.9v0.9h-0.9zM478.4 191.9h0.9v0.9h-0.9zM474.0 196.2h0.9v0.9h-0.9zM489.6 186.0h0.9v0.9h-0.9zM472.4 191.4h0.9v0.9h-0.9zM472.1 192.4h0.9v0.9h-0.9zM476.8 194.0h0.9v0.9h-0.9zM475.3 196.7h0.9v0.9h-0.9zM484.1 183.9h0.9v0.9h-0.9zM483.3 183.1h0.9v0.9h-0.9zM485.1 181.1h0.9v0.9h-0.9zM480.9 190.1h0.9v0.9h-0.9zM476.8 195.9h0.9v0.9h-0.9zM471.6 191.7h0.9v0.9h-0.9zM473.6 195.2h0.9v0.9h-0.9zM471.9 187.9h0.9v0.9h-0.9zM482.5 184.0h0.9v0.9h-0.9zM475.3 191.7h0.9v0.9h-0.9zM475.6 189.2h0.9v0.9h-0.9zM475.6 190.6h0.9v0.9h-0.9zM475.6 190.3h0.9v0.9h-0.9zM475.5 195.9h0.9v0.9h-0.9zM468.7 202.9h0.9v0.9h-0.9zM485.2 183.8h0.9v0.9h-0.9zM465.7 192.5h0.9v0.9h-0.9zM472.2 190.8h0.9v0.9h-0.9zM472.9 197.4h0.9v0.9h-0.9zM475.1 191.8h0.9v0.9h-0.9zM472.6 193.1h0.9v0.9h-0.9zM471.2 197.5h0.9v0.9h-0.9zM472.4 196.0h0.9v0.9h-0.9zM487.0 179.4h0.9v0.9h-0.9zM482.3 189.7h0.9v0.9h-0.9zM479.1 187.4h0.9v0.9h-0.9zM466.3 198.2h0.9v0.9h-0.9zM481.1 185.6h0.9v0.9h-0.9zM467.6 198.7h0.9v0.9h-0.9zM480.9 182.6h0.9v0.9h-0.9zM484.3 185.6h0.9v0.9h-0.9zM479.3 187.0h0.9v0.9h-0.9zM471.6 195.5h0.9v0.9h-0.9zM475.8 186.8h0.9v0.9h-0.9zM480.6 189.4h0.9v0.9h-0.9zM473.2 195.1h0.9v0.9h-0.9zM472.4 190.0h0.9v0.9h-0.9zM474.8 199.7h0.9v0.9h-0.9zM472.9 193.6h0.9v0.9h-0.9zM479.0 187.3h0.9v0.9h-0.9zM480.7 191.6h0.9v0.9h-0.9zM483.5 185.6h0.9v0.9h-0.9zM483.9 181.7h0.9v0.9h-0.9zM476.2 193.9h0.9v0.9h-0.9zM484.6 182.2h0.9v0.9h-0.9zM487.5 176.5h0.9v0.9h-0.9zM480.7 183.9h0.9v0.9h-0.9zM474.7 194.8h0.9v0.9h-0.9zM476.3 190.2h0.9v0.9h-0.9zM473.1 197.6h0.9v0.9h-0.9zM481.5 182.2h0.9v0.9h-0.9zM469.3 193.7h0.9v0.9h-0.9zM484.0 183.9h0.9v0.9h-0.9zM468.0 197.6h0.9v0.9h-0.9zM479.4 188.9h0.9v0.9h-0.9zM474.5 187.7h0.9v0.9h-0.9zM482.2 184.3h0.9v0.9h-0.9zM473.0 197.5h0.9v0.9h-0.9zM478.1 190.9h0.9v0.9h-0.9zM487.4 186.1h0.9v0.9h-0.9zM483.9 189.2h0.9v0.9h-0.9zM479.5 191.0h0.9v0.9h-0.9zM465.5 198.5h0.9v0.9h-0.9zM475.9 189.7h0.9v0.9h-0.9zM469.8 197.3h0.9v0.9h-0.9zM479.9 190.4h0.9v0.9h-0.9zM482.2 185.8h0.9v0.9h-0.9zM466.4 200.5h0.9v0.9h-0.9zM480.3 192.7h0.9v0.9h-0.9zM477.4 190.3h0.9v0.9h-0.9zM473.1 199.0h0.9v0.9h-0.9zM471.7 197.8h0.9v0.9h-0.9zM477.9 188.6h0.9v0.9h-0.9zM475.7 202.8h0.9v0.9h-0.9zM479.8 192.7h0.9v0.9h-0.9zM475.5 190.5h0.9v0.9h-0.9zM470.4 200.9h0.9v0.9h-0.9zM474.5 192.5h0.9v0.9h-0.9zM479.6 190.0h0.9v0.9h-0.9zM478.5 196.3h0.9v0.9h-0.9zM467.8 200.7h0.9v0.9h-0.9zM479.0 186.7h0.9v0.9h-0.9zM482.8 185.9h0.9v0.9h-0.9zM477.6 190.0h0.9v0.9h-0.9zM479.7 191.5h0.9v0.9h-0.9zM468.4 198.1h0.9v0.9h-0.9zM481.3 187.4h0.9v0.9h-0.9zM485.0 190.7h0.9v0.9h-0.9zM477.9 194.4h0.9v0.9h-0.9zM481.8 188.6h0.9v0.9h-0.9zM485.4 178.3h0.9v0.9h-0.9zM482.2 182.8h0.9v0.9h-0.9zM474.8 195.8h0.9v0.9h-0.9zM478.6 189.3h0.9v0.9h-0.9zM470.7 195.3h0.9v0.9h-0.9zM472.7 191.6h0.9v0.9h-0.9zM483.5 185.5h0.9v0.9h-0.9zM478.2 186.3h0.9v0.9h-0.9zM487.7 187.4h0.9v0.9h-0.9zM487.2 184.3h0.9v0.9h-0.9zM478.9 187.5h0.9v0.9h-0.9zM468.2 201.9h0.9v0.9h-0.9zM468.2 199.3h0.9v0.9h-0.9zM473.5 201.2h0.9v0.9h-0.9zM482.0 190.7h0.9v0.9h-0.9zM478.3 195.0h0.9v0.9h-0.9zM474.5 190.3h0.9v0.9h-0.9zM465.1 204.4h0.9v0.9h-0.9zM479.7 192.4h0.9v0.9h-0.9zM471.5 201.8h0.9v0.9h-0.9zM484.8 184.7h0.9v0.9h-0.9zM473.6 196.2h0.9v0.9h-0.9zM473.7 192.8h0.9v0.9h-0.9zM476.7 194.8h0.9v0.9h-0.9zM473.3 197.4h0.9v0.9h-0.9zM482.7 180.9h0.9v0.9h-0.9zM484.2 180.3h0.9v0.9h-0.9zM472.4 196.7h0.9v0.9h-0.9zM484.5 180.7h0.9v0.9h-0.9zM471.7 197.9h0.9v0.9h-0.9zM473.4 187.0h0.9v0.9h-0.9zM481.4 180.5h0.9v0.9h-0.9zM478.9 189.5h0.9v0.9h-0.9zM474.1 193.6h0.9v0.9h-0.9zM471.1 188.3h0.9v0.9h-0.9zM481.3 188.9h0.9v0.9h-0.9zM477.4 199.0h0.9v0.9h-0.9zM482.3 197.3h0.9v0.9h-0.9zM482.0 181.9h0.9v0.9h-0.9zM482.3 188.7h0.9v0.9h-0.9zM473.7 198.3h0.9v0.9h-0.9zM478.5 188.5h0.9v0.9h-0.9zM471.8 197.6h0.9v0.9h-0.9zM468.9 201.5h0.9v0.9h-0.9zM484.2 182.7h0.9v0.9h-0.9zM476.1 192.6h0.9v0.9h-0.9zM471.8 199.7h0.9v0.9h-0.9zM487.4 186.0h0.9v0.9h-0.9zM463.3 204.4h0.9v0.9h-0.9zM466.0 210.5h0.9v0.9h-0.9zM478.0 192.5h0.9v0.9h-0.9zM479.6 197.1h0.9v0.9h-0.9zM479.8 187.2h0.9v0.9h-0.9zM484.1 183.9h0.9v0.9h-0.9zM483.9 187.2h0.9v0.9h-0.9zM474.8 188.9h0.9v0.9h-0.9zM475.7 190.7h0.9v0.9h-0.9zM474.7 193.2h0.9v0.9h-0.9zM475.9 190.4h0.9v0.9h-0.9zM477.9 192.9h0.9v0.9h-0.9zM473.0 189.3h0.9v0.9h-0.9zM471.6 196.3h0.9v0.9h-0.9zM484.9 181.1h0.9v0.9h-0.9zM474.8 190.6h0.9v0.9h-0.9zM473.5 191.2h0.9v0.9h-0.9zM474.1 194.4h0.9v0.9h-0.9zM481.9 187.5h0.9v0.9h-0.9zM467.4 194.6h0.9v0.9h-0.9zM471.6 200.9h0.9v0.9h-0.9zM476.6 189.8h0.9v0.9h-0.9zM480.5 179.8h0.9v0.9h-0.9zM475.3 192.3h0.9v0.9h-0.9zM486.1 185.7h0.9v0.9h-0.9zM478.9 190.2h0.9v0.9h-0.9zM470.2 197.5h0.9v0.9h-0.9zM480.8 187.0h0.9v0.9h-0.9zM469.6 191.5h0.9v0.9h-0.9zM473.0 192.0h0.9v0.9h-0.9zM476.2 186.2h0.9v0.9h-0.9zM475.5 189.8h0.9v0.9h-0.9zM480.6 186.0h0.9v0.9h-0.9zM479.8 190.1h0.9v0.9h-0.9zM475.2 194.0h0.9v0.9h-0.9zM481.5 192.5h0.9v0.9h-0.9zM488.0 182.5h0.9v0.9h-0.9zM476.5 193.8h0.9v0.9h-0.9zM494.2 172.1h0.9v0.9h-0.9zM480.7 185.0h0.9v0.9h-0.9zM467.5 197.4h0.9v0.9h-0.9zM471.9 194.5h0.9v0.9h-0.9zM480.1 189.4h0.9v0.9h-0.9zM469.4 201.3h0.9v0.9h-0.9zM475.7 182.6h0.9v0.9h-0.9zM482.7 187.7h0.9v0.9h-0.9zM466.0 205.7h0.9v0.9h-0.9zM481.6 180.6h0.9v0.9h-0.9zM465.3 199.5h0.9v0.9h-0.9zM482.3 194.8h0.9v0.9h-0.9zM477.4 193.9h0.9v0.9h-0.9zM482.8 192.3h0.9v0.9h-0.9zM485.9 184.5h0.9v0.9h-0.9zM479.4 186.6h0.9v0.9h-0.9zM475.0 192.7h0.9v0.9h-0.9zM473.4 195.4h0.9v0.9h-0.9zM475.5 192.1h0.9v0.9h-0.9zM482.4 187.2h0.9v0.9h-0.9zM476.7 197.7h0.9v0.9h-0.9zM475.7 197.0h0.9v0.9h-0.9zM471.5 197.5h0.9v0.9h-0.9zM475.2 192.6h0.9v0.9h-0.9zM480.7 193.1h0.9v0.9h-0.9zM483.2 192.3h0.9v0.9h-0.9zM485.8 177.5h0.9v0.9h-0.9zM473.8 196.5h0.9v0.9h-0.9zM464.9 202.5h0.9v0.9h-0.9zM481.5 189.6h0.9v0.9h-0.9zM475.6 195.2h0.9v0.9h-0.9zM487.0 181.7h0.9v0.9h-0.9zM478.3 197.2h0.9v0.9h-0.9zM476.0 189.2h0.9v0.9h-0.9zM489.1 176.8h0.9v0.9h-0.9zM484.5 184.5h0.9v0.9h-0.9zM483.9 178.1h0.9v0.9h-0.9zM480.9 187.5h0.9v0.9h-0.9zM476.5 193.1h0.9v0.9h-0.9zM473.8 194.6h0.9v0.9h-0.9zM472.6 192.1h0.9v0.9h-0.9zM480.0 184.6h0.9v0.9h-0.9zM480.8 188.7h0.9v0.9h-0.9zM476.5 195.3h0.9v0.9h-0.9zM484.7 184.6h0.9v0.9h-0.9zM470.4 194.1h0.9v0.9h-0.9zM480.6 192.7h0.9v0.9h-0.9zM469.4 196.2h0.9v0.9h-0.9zM473.2 195.3h0.9v0.9h-0.9zM475.7 195.7h0.9v0.9h-0.9zM486.9 183.6h0.9v0.9h-0.9zM473.8 191.6h0.9v0.9h-0.9zM473.7 196.7h0.9v0.9h-0.9zM467.3 195.4h0.9v0.9h-0.9zM465.3 198.0h0.9v0.9h-0.9zM477.6 185.7h0.9v0.9h-0.9zM476.5 193.0h0.9v0.9h-0.9zM482.7 186.0h0.9v0.9h-0.9zM484.5 182.4h0.9v0.9h-0.9zM481.6 183.8h0.9v0.9h-0.9zM483.8 184.9h0.9v0.9h-0.9zM479.4 191.1h0.9v0.9h-0.9zM479.0 186.6h0.9v0.9h-0.9zM477.5 194.7h0.9v0.9h-0.9zM476.8 191.2h0.9v0.9h-0.9zM471.9 192.8h0.9v0.9h-0.9zM482.8 191.0h0.9v0.9h-0.9zM477.8 190.5h0.9v0.9h-0.9zM482.9 187.2h0.9v0.9h-0.9zM472.9 197.8h0.9v0.9h-0.9zM481.2 186.0h0.9v0.9h-0.9zM466.6 199.5h0.9v0.9h-0.9zM479.2 191.7h0.9v0.9h-0.9zM481.3 183.7h0.9v0.9h-0.9zM479.6 187.7h0.9v0.9h-0.9zM470.0 199.7h0.9v0.9h-0.9zM475.1 195.9h0.9v0.9h-0.9zM478.3 194.3h0.9v0.9h-0.9zM476.9 189.8h0.9v0.9h-0.9zM473.1 197.4h0.9v0.9h-0.9zM469.9 197.4h0.9v0.9h-0.9zM482.3 175.1h0.9v0.9h-0.9zM478.9 188.2h0.9v0.9h-0.9zM481.7 188.7h0.9v0.9h-0.9zM481.1 184.8h0.9v0.9h-0.9zM472.3 198.1h0.9v0.9h-0.9zM483.6 180.8h0.9v0.9h-0.9zM473.5 189.3h0.9v0.9h-0.9zM477.7 188.1h0.9v0.9h-0.9zM473.6 198.3h0.9v0.9h-0.9zM482.5 187.7h0.9v0.9h-0.9zM472.9 196.9h0.9v0.9h-0.9zM469.1 201.5h0.9v0.9h-0.9zM478.4 190.7h0.9v0.9h-0.9zM482.5 188.1h0.9v0.9h-0.9zM475.3 194.9h0.9v0.9h-0.9zM475.2 191.9h0.9v0.9h-0.9zM478.1 189.7h0.9v0.9h-0.9zM472.2 190.6h0.9v0.9h-0.9zM478.8 188.3h0.9v0.9h-0.9zM474.0 192.7h0.9v0.9h-0.9zM479.5 189.3h0.9v0.9h-0.9zM468.2 196.1h0.9v0.9h-0.9zM473.4 197.8h0.9v0.9h-0.9zM471.7 195.5h0.9v0.9h-0.9zM471.8 199.2h0.9v0.9h-0.9zM484.8 187.9h0.9v0.9h-0.9zM478.4 191.0h0.9v0.9h-0.9zM480.2 183.8h0.9v0.9h-0.9zM477.7 190.8h0.9v0.9h-0.9zM473.3 193.8h0.9v0.9h-0.9zM482.2 189.2h0.9v0.9h-0.9zM466.5 197.8h0.9v0.9h-0.9zM484.0 184.4h0.9v0.9h-0.9zM474.4 197.3h0.9v0.9h-0.9zM477.6 182.8h0.9v0.9h-0.9zM480.8 188.4h0.9v0.9h-0.9zM480.0 188.7h0.9v0.9h-0.9zM479.9 187.5h0.9v0.9h-0.9zM482.2 185.3h0.9v0.9h-0.9zM471.1 192.0h0.9v0.9h-0.9zM464.5 201.2h0.9v0.9h-0.9zM473.3 196.6h0.9v0.9h-0.9zM465.7 200.5h0.9v0.9h-0.9zM479.6 185.5h0.9v0.9h-0.9zM474.6 191.2h0.9v0.9h-0.9zM473.3 188.6h0.9v0.9h-0.9zM488.0 180.5h0.9v0.9h-0.9zM479.1 189.7h0.9v0.9h-0.9zM475.5 192.0h0.9v0.9h-0.9zM478.3 190.8h0.9v0.9h-0.9zM474.9 197.3h0.9v0.9h-0.9zM479.8 189.5h0.9v0.9h-0.9zM483.0 187.8h0.9v0.9h-0.9zM474.1 194.3h0.9v0.9h-0.9zM486.4 184.0h0.9v0.9h-0.9zM475.3 198.5h0.9v0.9h-0.9zM479.7 190.4h0.9v0.9h-0.9zM477.3 193.0h0.9v0.9h-0.9zM468.1 195.0h0.9v0.9h-0.9zM481.8 188.5h0.9v0.9h-0.9zM480.6 190.7h0.9v0.9h-0.9zM484.8 184.7h0.9v0.9h-0.9zM475.0 195.4h0.9v0.9h-0.9zM481.8 190.6h0.9v0.9h-0.9zM483.6 187.6h0.9v0.9h-0.9zM471.4 198.8h0.9v0.9h-0.9zM473.9 197.3h0.9v0.9h-0.9zM479.2 191.5h0.9v0.9h-0.9zM476.9 191.4h0.9v0.9h-0.9zM470.6 193.6h0.9v0.9h-0.9zM468.5 201.3h0.9v0.9h-0.9zM471.6 198.2h0.9v0.9h-0.9zM472.8 193.0h0.9v0.9h-0.9zM481.5 193.7h0.9v0.9h-0.9zM468.0 203.4h0.9v0.9h-0.9zM474.6 200.1h0.9v0.9h-0.9zM481.2 193.2h0.9v0.9h-0.9zM468.7 196.7h0.9v0.9h-0.9zM480.1 182.2h0.9v0.9h-0.9zM474.0 195.4h0.9v0.9h-0.9zM481.2 189.5h0.9v0.9h-0.9zM468.8 207.7h0.9v0.9h-0.9zM478.2 190.7h0.9v0.9h-0.9zM496.3 171.5h0.9v0.9h-0.9zM467.9 203.8h0.9v0.9h-0.9zM465.3 204.4h0.9v0.9h-0.9zM464.4 200.9h0.9v0.9h-0.9zM471.2 201.8h0.9v0.9h-0.9zM481.1 186.0h0.9v0.9h-0.9zM464.0 202.8h0.9v0.9h-0.9zM472.3 189.0h0.9v0.9h-0.9zM481.6 187.7h0.9v0.9h-0.9zM474.7 192.5h0.9v0.9h-0.9zM474.0 197.7h0.9v0.9h-0.9zM481.5 191.6h0.9v0.9h-0.9zM477.6 192.8h0.9v0.9h-0.9zM466.9 199.2h0.9v0.9h-0.9zM475.6 187.6h0.9v0.9h-0.9zM474.2 194.4h0.9v0.9h-0.9zM481.1 185.6h0.9v0.9h-0.9zM472.2 193.2h0.9v0.9h-0.9zM478.6 182.3h0.9v0.9h-0.9zM478.8 188.3h0.9v0.9h-0.9zM480.4 190.9h0.9v0.9h-0.9zM468.8 192.7h0.9v0.9h-0.9zM474.4 194.0h0.9v0.9h-0.9zM479.2 191.2h0.9v0.9h-0.9zM476.0 196.6h0.9v0.9h-0.9zM469.5 195.7h0.9v0.9h-0.9zM481.0 186.5h0.9v0.9h-0.9zM464.1 199.0h0.9v0.9h-0.9zM480.4 193.6h0.9v0.9h-0.9zM481.8 186.7h0.9v0.9h-0.9zM469.7 202.1h0.9v0.9h-0.9zM480.4 182.7h0.9v0.9h-0.9zM484.7 183.2h0.9v0.9h-0.9zM483.1 184.0h0.9v0.9h-0.9zM475.1 191.0h0.9v0.9h-0.9zM482.2 189.3h0.9v0.9h-0.9zM473.3 198.2h0.9v0.9h-0.9zM485.2 178.8h0.9v0.9h-0.9zM485.1 182.8h0.9v0.9h-0.9zM482.3 186.7h0.9v0.9h-0.9zM482.3 181.4h0.9v0.9h-0.9zM472.2 196.5h0.9v0.9h-0.9zM472.0 191.5h0.9v0.9h-0.9zM487.7 180.3h0.9v0.9h-0.9zM481.0 186.4h0.9v0.9h-0.9zM481.0 191.2h0.9v0.9h-0.9zM479.4 179.2h0.9v0.9h-0.9zM486.0 183.1h0.9v0.9h-0.9zM480.5 198.1h0.9v0.9h-0.9zM476.5 192.2h0.9v0.9h-0.9zM485.4 185.8h0.9v0.9h-0.9zM479.3 186.7h0.9v0.9h-0.9zM477.8 190.4h0.9v0.9h-0.9zM476.6 191.3h0.9v0.9h-0.9zM472.5 198.2h0.9v0.9h-0.9zM469.2 195.1h0.9v0.9h-0.9zM472.0 187.6h0.9v0.9h-0.9zM488.2 181.0h0.9v0.9h-0.9zM476.9 184.0h0.9v0.9h-0.9zM480.3 187.7h0.9v0.9h-0.9zM468.8 191.0h0.9v0.9h-0.9zM482.9 185.7h0.9v0.9h-0.9zM474.4 184.7h0.9v0.9h-0.9zM471.1 197.0h0.9v0.9h-0.9zM469.6 201.7h0.9v0.9h-0.9zM487.5 181.5h0.9v0.9h-0.9zM473.3 202.2h0.9v0.9h-0.9zM480.0 190.7h0.9v0.9h-0.9zM477.0 189.4h0.9v0.9h-0.9zM481.0 183.4h0.9v0.9h-0.9zM472.9 195.4h0.9v0.9h-0.9zM481.1 186.1h0.9v0.9h-0.9zM466.7 199.1h0.9v0.9h-0.9zM475.1 194.9h0.9v0.9h-0.9zM492.8 169.7h0.9v0.9h-0.9zM470.4 197.2h0.9v0.9h-0.9zM477.0 187.8h0.9v0.9h-0.9zM478.9 185.9h0.9v0.9h-0.9zM479.4 189.8h0.9v0.9h-0.9zM476.2 189.5h0.9v0.9h-0.9zM480.0 189.9h0.9v0.9h-0.9zM471.1 197.6h0.9v0.9h-0.9zM477.5 191.5h0.9v0.9h-0.9zM484.8 185.6h0.9v0.9h-0.9zM483.2 183.9h0.9v0.9h-0.9zM469.7 202.6h0.9v0.9h-0.9zM474.2 193.6h0.9v0.9h-0.9zM483.4 189.7h0.9v0.9h-0.9zM471.8 197.6h0.9v0.9h-0.9zM479.7 182.4h0.9v0.9h-0.9zM476.1 196.6h0.9v0.9h-0.9zM478.5 191.4h0.9v0.9h-0.9zM474.8 193.0h0.9v0.9h-0.9zM481.3 186.2h0.9v0.9h-0.9zM471.7 195.4h0.9v0.9h-0.9zM467.9 196.0h0.9v0.9h-0.9zM471.5 200.5h0.9v0.9h-0.9zM480.3 184.5h0.9v0.9h-0.9zM466.0 203.3h0.9v0.9h-0.9zM481.3 182.0h0.9v0.9h-0.9zM469.7 191.5h0.9v0.9h-0.9zM479.2 188.9h0.9v0.9h-0.9zM473.5 193.1h0.9v0.9h-0.9zM472.4 198.2h0.9v0.9h-0.9zM471.5 195.8h0.9v0.9h-0.9zM486.4 183.8h0.9v0.9h-0.9zM474.9 192.5h0.9v0.9h-0.9zM479.4 186.6h0.9v0.9h-0.9zM476.6 200.9h0.9v0.9h-0.9zM468.9 198.4h0.9v0.9h-0.9zM479.7 188.6h0.9v0.9h-0.9zM481.8 186.0h0.9v0.9h-0.9zM483.7 186.4h0.9v0.9h-0.9zM468.6 199.4h0.9v0.9h-0.9zM482.1 189.4h0.9v0.9h-0.9zM473.6 199.0h0.9v0.9h-0.9zM481.7 184.3h0.9v0.9h-0.9zM492.3 178.1h0.9v0.9h-0.9zM474.1 196.6h0.9v0.9h-0.9zM483.9 191.7h0.9v0.9h-0.9zM467.4 200.2h0.9v0.9h-0.9zM479.4 187.1h0.9v0.9h-0.9zM479.0 194.0h0.9v0.9h-0.9zM472.2 199.1h0.9v0.9h-0.9zM477.8 189.2h0.9v0.9h-0.9zM468.6 200.5h0.9v0.9h-0.9zM475.9 196.5h0.9v0.9h-0.9zM465.4 205.1h0.9v0.9h-0.9zM479.6 186.4h0.9v0.9h-0.9zM481.4 187.5h0.9v0.9h-0.9zM474.7 195.1h0.9v0.9h-0.9zM481.4 184.7h0.9v0.9h-0.9zM475.7 189.8h0.9v0.9h-0.9zM483.4 184.7h0.9v0.9h-0.9zM473.4 191.4h0.9v0.9h-0.9zM478.9 186.2h0.9v0.9h-0.9zM474.0 191.9h0.9v0.9h-0.9zM475.9 194.0h0.9v0.9h-0.9zM481.4 190.5h0.9v0.9h-0.9zM476.6 191.9h0.9v0.9h-0.9zM474.1 201.3h0.9v0.9h-0.9zM472.4 192.8h0.9v0.9h-0.9zM483.0 183.4h0.9v0.9h-0.9zM484.7 184.4h0.9v0.9h-0.9zM469.4 202.3h0.9v0.9h-0.9zM474.1 197.6h0.9v0.9h-0.9zM467.8 198.6h0.9v0.9h-0.9zM467.0 198.4h0.9v0.9h-0.9zM478.5 181.1h0.9v0.9h-0.9zM474.3 184.8h0.9v0.9h-0.9zM470.7 192.4h0.9v0.9h-0.9zM477.3 190.7h0.9v0.9h-0.9zM477.6 192.4h0.9v0.9h-0.9zM479.2 188.3h0.9v0.9h-0.9zM479.6 191.3h0.9v0.9h-0.9zM474.4 192.8h0.9v0.9h-0.9zM476.0 188.8h0.9v0.9h-0.9zM477.6 190.4h0.9v0.9h-0.9zM479.4 185.9h0.9v0.9h-0.9zM477.0 190.7h0.9v0.9h-0.9zM481.4 189.0h0.9v0.9h-0.9zM478.7 186.2h0.9v0.9h-0.9zM487.2 185.0h0.9v0.9h-0.9zM475.8 193.1h0.9v0.9h-0.9zM469.2 197.6h0.9v0.9h-0.9zM479.0 187.1h0.9v0.9h-0.9zM476.6 196.0h0.9v0.9h-0.9zM482.0 186.3h0.9v0.9h-0.9zM473.0 194.0h0.9v0.9h-0.9zM478.4 193.4h0.9v0.9h-0.9zM474.3 196.3h0.9v0.9h-0.9zM475.2 196.0h0.9v0.9h-0.9zM477.0 193.2h0.9v0.9h-0.9zM482.3 191.1h0.9v0.9h-0.9zM471.2 199.3h0.9v0.9h-0.9zM483.7 183.3h0.9v0.9h-0.9zM481.8 188.1h0.9v0.9h-0.9zM484.3 182.1h0.9v0.9h-0.9zM469.4 194.2h0.9v0.9h-0.9zM468.7 196.7h0.9v0.9h-0.9zM480.1 190.1h0.9v0.9h-0.9zM479.0 194.3h0.9v0.9h-0.9zM484.1 187.9h0.9v0.9h-0.9zM477.1 190.8h0.9v0.9h-0.9zM474.1 194.4h0.9v0.9h-0.9zM478.2 193.8h0.9v0.9h-0.9zM480.3 182.5h0.9v0.9h-0.9zM484.1 181.2h0.9v0.9h-0.9zM478.6 184.3h0.9v0.9h-0.9zM481.1 187.5h0.9v0.9h-0.9zM475.0 193.1h0.9v0.9h-0.9zM477.1 197.0h0.9v0.9h-0.9zM479.0 192.2h0.9v0.9h-0.9zM481.6 184.2h0.9v0.9h-0.9zM480.7 186.3h0.9v0.9h-0.9zM478.3 190.5h0.9v0.9h-0.9zM483.5 189.3h0.9v0.9h-0.9zM473.3 188.9h0.9v0.9h-0.9zM474.9 194.6h0.9v0.9h-0.9zM467.8 197.1h0.9v0.9h-0.9zM476.9 191.0h0.9v0.9h-0.9zM472.7 190.1h0.9v0.9h-0.9zM471.6 197.7h0.9v0.9h-0.9zM472.7 195.7h0.9v0.9h-0.9zM476.1 184.3h0.9v0.9h-0.9zM483.2 185.0h0.9v0.9h-0.9zM474.1 190.8h0.9v0.9h-0.9zM482.1 182.3h0.9v0.9h-0.9zM479.6 190.8h0.9v0.9h-0.9zM472.2 194.7h0.9v0.9h-0.9zM476.7 192.3h0.9v0.9h-0.9zM470.6 191.9h0.9v0.9h-0.9zM473.1 197.0h0.9v0.9h-0.9zM472.8 196.0h0.9v0.9h-0.9zM493.1 170.5h0.9v0.9h-0.9zM476.0 194.0h0.9v0.9h-0.9zM484.2 187.6h0.9v0.9h-0.9zM476.4 198.3h0.9v0.9h-0.9zM479.8 196.0h0.9v0.9h-0.9zM460.2 204.7h0.9v0.9h-0.9zM482.6 189.2h0.9v0.9h-0.9zM483.3 191.3h0.9v0.9h-0.9zM485.2 183.4h0.9v0.9h-0.9zM468.2 192.2h0.9v0.9h-0.9zM474.6 195.6h0.9v0.9h-0.9zM481.9 185.5h0.9v0.9h-0.9zM489.0 181.6h0.9v0.9h-0.9zM473.9 194.1h0.9v0.9h-0.9zM473.6 193.5h0.9v0.9h-0.9zM478.6 188.9h0.9v0.9h-0.9zM479.1 190.7h0.9v0.9h-0.9zM478.2 195.6h0.9v0.9h-0.9zM480.7 186.2h0.9v0.9h-0.9zM488.8 180.6h0.9v0.9h-0.9zM481.7 191.9h0.9v0.9h-0.9zM481.8 184.8h0.9v0.9h-0.9zM472.1 199.7h0.9v0.9h-0.9zM476.6 193.9h0.9v0.9h-0.9zM471.5 196.4h0.9v0.9h-0.9zM491.5 174.0h0.9v0.9h-0.9zM472.6 198.4h0.9v0.9h-0.9zM478.7 187.2h0.9v0.9h-0.9zM478.2 191.3h0.9v0.9h-0.9zM474.4 196.0h0.9v0.9h-0.9zM468.2 202.1h0.9v0.9h-0.9zM468.0 204.7h0.9v0.9h-0.9zM480.8 190.9h0.9v0.9h-0.9zM479.0 188.0h0.9v0.9h-0.9zM481.0 189.5h0.9v0.9h-0.9zM472.9 191.0h0.9v0.9h-0.9zM469.9 196.1h0.9v0.9h-0.9zM473.4 201.3h0.9v0.9h-0.9zM464.0 200.3h0.9v0.9h-0.9zM477.3 192.6h0.9v0.9h-0.9zM483.4 180.5h0.9v0.9h-0.9zM482.4 182.4h0.9v0.9h-0.9zM476.3 189.7h0.9v0.9h-0.9zM480.4 178.5h0.9v0.9h-0.9zM474.4 190.7h0.9v0.9h-0.9zM467.4 205.7h0.9v0.9h-0.9zM472.1 198.4h0.9v0.9h-0.9zM474.4 189.8h0.9v0.9h-0.9zM474.7 186.1h0.9v0.9h-0.9zM487.2 187.4h0.9v0.9h-0.9zM473.8 190.7h0.9v0.9h-0.9zM476.8 192.1h0.9v0.9h-0.9zM492.9 172.4h0.9v0.9h-0.9zM470.9 200.6h0.9v0.9h-0.9zM471.6 185.1h0.9v0.9h-0.9zM485.5 189.9h0.9v0.9h-0.9zM482.3 190.5h0.9v0.9h-0.9zM473.3 191.4h0.9v0.9h-0.9zM479.5 192.1h0.9v0.9h-0.9zM486.2 186.0h0.9v0.9h-0.9zM473.2 194.4h0.9v0.9h-0.9zM485.7 185.0h0.9v0.9h-0.9zM473.7 194.7h0.9v0.9h-0.9zM476.3 192.2h0.9v0.9h-0.9zM476.5 191.4h0.9v0.9h-0.9zM468.2 205.0h0.9v0.9h-0.9zM475.5 199.0h0.9v0.9h-0.9zM474.8 188.8h0.9v0.9h-0.9zM484.0 188.5h0.9v0.9h-0.9zM465.2 201.0h0.9v0.9h-0.9zM478.4 189.7h0.9v0.9h-0.9zM473.3 194.5h0.9v0.9h-0.9zM479.0 189.0h0.9v0.9h-0.9z" fill="#94121f" fill-opacity="1"/>
<path d="M479.9 185.5h0.9v0.9h-0.9zM478.4 186.7h0.9v0.9h-0.9zM470.7 178.6h0.9v0.9h-0.9zM461.0 176.3h0.9v0.9h-0.9zM462.8 181.0h0.9v0.9h-0.9zM474.3 178.0h0.9v0.9h-0.9zM479.3 206.1h0.9v0.9h-0.9zM453.6 178.0h0.9v0.9h-0.9zM485.9 178.0h0.9v0.9h-0.9zM475.1 182.6h0.9v0.9h-0.9zM482.1 175.5h0.9v0.9h-0.9zM478.5 190.0h0.9v0.9h-0.9zM480.5 191.8h0.9v0.9h-0.9zM477.2 172.7h0.9v0.9h-0.9zM473.4 179.9h0.9v0.9h-0.9zM480.2 186.0h0.9v0.9h-0.9zM477.2 197.6h0.9v0.9h-0.9zM475.1 202.7h0.9v0.9h-0.9zM482.7 175.2h0.9v0.9h-0.9zM471.3 198.6h0.9v0.9h-0.9zM472.0 198.4h0.9v0.9h-0.9zM471.5 187.0h0.9v0.9h-0.9zM484.2 174.4h0.9v0.9h-0.9zM476.6 184.1h0.9v0.9h-0.9zM477.4 202.9h0.9v0.9h-0.9zM479.9 176.3h0.9v0.9h-0.9zM483.7 184.1h0.9v0.9h-0.9zM477.3 198.1h0.9v0.9h-0.9zM473.5 196.4h0.9v0.9h-0.9zM477.4 180.2h0.9v0.9h-0.9zM473.5 176.3h0.9v0.9h-0.9zM485.5 189.5h0.9v0.9h-0.9zM483.8 178.4h0.9v0.9h-0.9zM482.8 177.7h0.9v0.9h-0.9zM478.2 187.9h0.9v0.9h-0.9zM471.3 190.7h0.9v0.9h-0.9zM476.3 180.5h0.9v0.9h-0.9zM470.0 176.7h0.9v0.9h-0.9zM487.0 189.3h0.9v0.9h-0.9zM473.1 194.0h0.9v0.9h-0.9zM469.1 177.9h0.9v0.9h-0.9zM478.9 201.8h0.9v0.9h-0.9zM478.4 189.4h0.9v0.9h-0.9zM490.0 174.6h0.9v0.9h-0.9zM500.5 178.4h0.9v0.9h-0.9zM475.4 176.3h0.9v0.9h-0.9zM466.3 185.9h0.9v0.9h-0.9zM495.6 179.8h0.9v0.9h-0.9zM471.1 190.4h0.9v0.9h-0.9zM467.8 185.8h0.9v0.9h-0.9zM473.6 185.5h0.9v0.9h-0.9zM471.9 187.0h0.9v0.9h-0.9zM461.6 184.2h0.9v0.9h-0.9zM471.8 179.1h0.9v0.9h-0.9zM486.1 205.4h0.9v0.9h-0.9zM482.4 180.5h0.9v0.9h-0.9zM487.4 192.4h0.9v0.9h-0.9zM469.5 193.3h0.9v0.9h-0.9zM471.4 193.0h0.9v0.9h-0.9zM483.4 198.1h0.9v0.9h-0.9zM467.6 186.9h0.9v0.9h-0.9zM476.0 177.4h0.9v0.9h-0.9zM479.3 194.0h0.9v0.9h-0.9zM464.9 183.2h0.9v0.9h-0.9zM467.2 176.9h0.9v0.9h-0.9zM467.5 200.0h0.9v0.9h-0.9zM470.7 184.6h0.9v0.9h-0.9zM483.9 196.9h0.9v0.9h-0.9zM482.0 172.7h0.9v0.9h-0.9zM470.9 184.4h0.9v0.9h-0.9zM471.4 205.1h0.9v0.9h-0.9zM474.7 198.2h0.9v0.9h-0.9zM474.6 187.5h0.9v0.9h-0.9zM480.1 191.9h0.9v0.9h-0.9zM480.0 172.9h0.9v0.9h-0.9zM480.1 190.8h0.9v0.9h-0.9zM480.8 187.5h0.9v0.9h-0.9zM479.3 176.6h0.9v0.9h-0.9zM485.1 177.4h0.9v0.9h-0.9zM487.2 196.8h0.9v0.9h-0.9zM475.5 185.4h0.9v0.9h-0.9zM482.2 185.3h0.9v0.9h-0.9zM466.5 190.4h0.9v0.9h-0.9zM466.2 184.0h0.9v0.9h-0.9zM490.4 195.1h0.9v0.9h-0.9zM472.4 187.4h0.9v0.9h-0.9zM470.8 187.9h0.9v0.9h-0.9zM464.4 194.0h0.9v0.9h-0.9zM476.1 182.7h0.9v0.9h-0.9zM472.5 183.8h0.9v0.9h-0.9zM471.3 183.7h0.9v0.9h-0.9zM486.5 193.9h0.9v0.9h-0.9zM479.4 191.2h0.9v0.9h-0.9zM488.1 194.3h0.9v0.9h-0.9zM477.7 190.4h0.9v0.9h-0.9zM477.6 188.2h0.9v0.9h-0.9zM480.6 188.4h0.9v0.9h-0.9zM483.8 190.7h0.9v0.9h-0.9zM473.7 193.3h0.9v0.9h-0.9zM477.5 184.1h0.9v0.9h-0.9zM473.0 184.3h0.9v0.9h-0.9zM473.6 184.1h0.9v0.9h-0.9zM475.1 197.8h0.9v0.9h-0.9zM472.2 186.6h0.9v0.9h-0.9zM470.1 176.1h0.9v0.9h-0.9zM469.2 183.5h0.9v0.9h-0.9zM477.2 185.1h0.9v0.9h-0.9zM466.4 184.8h0.9v0.9h-0.9zM488.1 180.3h0.9v0.9h-0.9zM476.5 196.8h0.9v0.9h-0.9zM469.6 183.0h0.9v0.9h-0.9zM499.2 198.8h0.9v0.9h-0.9zM471.8 189.4h0.9v0.9h-0.9zM476.8 189.3h0.9v0.9h-0.9zM479.7 185.4h0.9v0.9h-0.9zM458.3 179.6h0.9v0.9h-0.9zM477.2 176.0h0.9v0.9h-0.9zM473.4 201.2h0.9v0.9h-0.9zM477.9 182.3h0.9v0.9h-0.9zM477.1 197.2h0.9v0.9h-0.9zM462.3 177.1h0.9v0.9h-0.9zM470.7 184.2h0.9v0.9h-0.9zM475.3 182.9h0.9v0.9h-0.9zM476.9 188.8h0.9v0.9h-0.9zM466.7 182.5h0.9v0.9h-0.9zM466.1 190.5h0.9v0.9h-0.9zM478.1 193.7h0.9v0.9h-0.9zM469.0 183.3h0.9v0.9h-0.9zM458.3 188.1h0.9v0.9h-0.9zM463.1 191.0h0.9v0.9h-0.9zM484.6 191.9h0.9v0.9h-0.9zM481.0 190.0h0.9v0.9h-0.9zM479.0 196.2h0.9v0.9h-0.9zM486.1 205.7h0.9v0.9h-0.9zM473.9 195.3h0.9v0.9h-0.9zM482.9 191.7h0.9v0.9h-0.9zM478.1 176.9h0.9v0.9h-0.9zM484.7 180.3h0.9v0.9h-0.9zM470.8 180.5h0.9v0.9h-0.9zM480.5 179.5h0.9v0.9h-0.9zM479.7 192.9h0.9v0.9h-0.9z" fill="#9c1c2c" fill-opacity="1"/>
<path d="M479.5 173.2h0.9v0.9h-0.9zM477.3 178.5h0.9v0.9h-0.9zM476.7 178.8h0.9v0.9h-0.9zM473.9 176.0h0.9v0.9h-0.9zM477.8 175.9h0.9v0.9h-0.9zM478.2 182.7h0.9v0.9h-0.9zM474.9 178.5h0.9v0.9h-0.9zM476.9 182.7h0.9v0.9h-0.9zM473.9 180.9h0.9v0.9h-0.9zM480.1 181.2h0.9v0.9h-0.9zM480.1 174.6h0.9v0.9h-0.9zM486.3 175.2h0.9v0.9h-0.9zM480.6 182.0h0.9v0.9h-0.9zM474.5 176.8h0.9v0.9h-0.9zM480.8 175.9h0.9v0.9h-0.9zM477.1 171.4h0.9v0.9h-0.9zM485.6 176.8h0.9v0.9h-0.9zM470.8 176.6h0.9v0.9h-0.9zM483.9 174.7h0.9v0.9h-0.9zM478.1 172.6h0.9v0.9h-0.9zM486.9 177.3h0.9v0.9h-0.9zM474.6 179.8h0.9v0.9h-0.9zM482.8 172.3h0.9v0.9h-0.9zM472.6 178.8h0.9v0.9h-0.9zM482.9 176.1h0.9v0.9h-0.9zM474.9 178.7h0.9v0.9h-0.9zM480.3 179.2h0.9v0.9h-0.9zM482.3 182.9h0.9v0.9h-0.9zM484.6 177.0h0.9v0.9h-0.9zM483.8 171.5h0.9v0.9h-0.9zM481.3 179.3h0.9v0.9h-0.9zM482.6 172.6h0.9v0.9h-0.9zM474.1 180.1h0.9v0.9h-0.9zM484.0 182.9h0.9v0.9h-0.9zM480.7 177.7h0.9v0.9h-0.9zM476.2 178.3h0.9v0.9h-0.9zM472.6 175.6h0.9v0.9h-0.9zM476.8 173.9h0.9v0.9h-0.9zM473.9 179.2h0.9v0.9h-0.9zM470.2 178.9h0.9v0.9h-0.9zM482.7 177.9h0.9v0.9h-0.9zM478.0 180.9h0.9v0.9h-0.9zM478.9 177.1h0.9v0.9h-0.9zM478.8 180.8h0.9v0.9h-0.9zM480.5 182.8h0.9v0.9h-0.9zM483.8 176.5h0.9v0.9h-0.9zM472.5 181.2h0.9v0.9h-0.9zM477.2 176.5h0.9v0.9h-0.9zM485.3 175.8h0.9v0.9h-0.9zM474.3 178.4h0.9v0.9h-0.9zM478.5 176.8h0.9v0.9h-0.9zM480.5 171.5h0.9v0.9h-0.9zM476.1 182.6h0.9v0.9h-0.9zM488.2 173.4h0.9v0.9h-0.9zM481.4 176.4h0.9v0.9h-0.9zM483.0 172.7h0.9v0.9h-0.9zM480.0 177.5h0.9v0.9h-0.9zM476.3 174.3h0.9v0.9h-0.9zM477.5 176.9h0.9v0.9h-0.9zM477.0 181.2h0.9v0.9h-0.9z" fill="#9c1c2c" fill-opacity="1"/>
<path d="M426.0 249.2h0.9v0.9h-0.9zM434.5 240.0h0.9v0.9h-0.9zM418.0 242.1h0.9v0.9h-0.9zM424.8 245.7h0.9v0.9h-0.9zM407.9 248.6h0.9v0.9h-0.9zM418.4 247.4h0.9v0.9h-0.9zM425.7 247.8h0.9v0.9h-0.9zM436.9 241.4h0.9v0.9h-0.9zM420.0 246.4h0.9v0.9h-0.9zM417.3 244.0h0.9v0.9h-0.9zM434.8 233.1h0.9v0.9h-0.9zM423.6 229.6h0.9v0.9h-0.9zM423.5 227.7h0.9v0.9h-0.9zM411.5 236.8h0.9v0.9h-0.9zM433.1 248.5h0.9v0.9h-0.9zM416.5 238.3h0.9v0.9h-0.9zM422.7 237.1h0.9v0.9h-0.9zM418.0 234.7h0.9v0.9h-0.9zM420.0 249.0h0.9v0.9h-0.9zM421.8 240.9h0.9v0.9h-0.9zM415.7 224.4h0.9v0.9h-0.9zM411.5 235.4h0.9v0.9h-0.9zM417.9 244.9h0.9v0.9h-0.9zM420.5 234.2h0.9v0.9h-0.9zM421.0 237.5h0.9v0.9h-0.9zM418.4 239.8h0.9v0.9h-0.9zM418.9 243.3h0.9v0.9h-0.9zM411.8 241.9h0.9v0.9h-0.9zM435.0 232.4h0.9v0.9h-0.9zM433.8 249.0h0.9v0.9h-0.9zM410.0 226.8h0.9v0.9h-0.9zM420.4 247.3h0.9v0.9h-0.9zM418.0 239.1h0.9v0.9h-0.9zM425.7 233.8h0.9v0.9h-0.9zM409.8 243.6h0.9v0.9h-0.9zM417.8 240.3h0.9v0.9h-0.9zM424.8 233.6h0.9v0.9h-0.9zM418.5 248.4h0.9v0.9h-0.9zM425.3 239.2h0.9v0.9h-0.9zM429.0 242.2h0.9v0.9h-0.9zM415.5 243.9h0.9v0.9h-0.9zM420.9 230.4h0.9v0.9h-0.9zM430.6 243.4h0.9v0.9h-0.9zM431.7 249.2h0.9v0.9h-0.9zM426.6 249.2h0.9v0.9h-0.9zM422.1 239.5h0.9v0.9h-0.9zM421.3 243.0h0.9v0.9h-0.9zM420.5 235.9h0.9v0.9h-0.9zM426.0 230.9h0.9v0.9h-0.9zM434.0 244.9h0.9v0.9h-0.9zM416.7 242.8h0.9v0.9h-0.9zM436.6 249.0h0.9v0.9h-0.9zM424.9 243.1h0.9v0.9h-0.9zM416.0 229.8h0.9v0.9h-0.9zM437.5 241.0h0.9v0.9h-0.9zM429.8 231.2h0.9v0.9h-0.9zM418.1 249.3h0.9v0.9h-0.9zM421.2 243.4h0.9v0.9h-0.9zM424.0 245.7h0.9v0.9h-0.9zM419.7 246.5h0.9v0.9h-0.9zM416.4 227.3h0.9v0.9h-0.9zM421.3 235.7h0.9v0.9h-0.9zM421.6 248.3h0.9v0.9h-0.9zM419.4 235.1h0.9v0.9h-0.9zM437.3 245.2h0.9v0.9h-0.9zM421.8 244.7h0.9v0.9h-0.9zM431.0 246.2h0.9v0.9h-0.9zM417.1 243.8h0.9v0.9h-0.9zM433.1 246.4h0.9v0.9h-0.9zM419.6 242.6h0.9v0.9h-0.9zM431.0 246.7h0.9v0.9h-0.9zM418.2 239.7h0.9v0.9h-0.9zM427.8 238.6h0.9v0.9h-0.9zM429.9 237.4h0.9v0.9h-0.9zM418.9 234.7h0.9v0.9h-0.9zM429.5 246.1h0.9v0.9h-0.9zM419.2 246.7h0.9v0.9h-0.9zM418.7 240.4h0.9v0.9h-0.9zM412.1 243.9h0.9v0.9h-0.9zM430.0 237.9h0.9v0.9h-0.9zM426.5 246.9h0.9v0.9h-0.9zM419.3 248.6h0.9v0.9h-0.9zM413.9 230.8h0.9v0.9h-0.9zM419.9 238.4h0.9v0.9h-0.9zM427.4 232.7h0.9v0.9h-0.9zM423.0 246.4h0.9v0.9h-0.9zM412.0 242.6h0.9v0.9h-0.9zM418.9 242.4h0.9v0.9h-0.9zM425.6 235.2h0.9v0.9h-0.9zM426.7 222.2h0.9v0.9h-0.9zM416.0 233.7h0.9v0.9h-0.9zM418.9 240.8h0.9v0.9h-0.9zM410.6 234.4h0.9v0.9h-0.9zM415.5 244.5h0.9v0.9h-0.9zM428.7 241.7h0.9v0.9h-0.9z" fill="#b4506a" fill-opacity="1"/>
<path d="M466.5 212.5h0.9v0.9h-0.9zM474.5 217.5h0.9v0.9h-0.9zM457.5 227.5h0.9v0.9h-0.9zM448.5 233.0h0.9v0.9h-0.9zM427.5 214.0h0.9v0.9h-0.9zM417.0 220.0h0.9v0.9h-0.9z" fill="#b4506a" fill-opacity="1"/>
</g>
<line x1="407.80" y1="170.20" x2="502.90" y2="170.20" stroke="#0e0e22" stroke-width="1.1" />
<line x1="407.80" y1="250.30" x2="505.40" y2="250.30" stroke="#0e0e22" stroke-width="1.1" />
<line x1="407.80" y1="170.20" x2="407.80" y2="250.30" stroke="#0e0e22" stroke-width="1.3" />
<line x1="452.30" y1="170.20" x2="452.30" y2="250.30" stroke="#0e0e22" stroke-width="1.2" />
<line x1="407.80" y1="208.50" x2="502.90" y2="208.50" stroke="#0e0e22" stroke-width="1.2" />
<text x="428" y="167.6" font-size="6.45" font-weight="bold" font-style="normal" text-anchor="start" fill="#0e0e22" stroke="#0e0e22" stroke-width="0.25" textLength="45.7" lengthAdjust="spacingAndGlyphs" >AN30FC01.033</text>
<text x="434.0" y="268.2" font-size="6.45" font-weight="bold" font-style="normal" text-anchor="start" fill="#0e0e22" stroke="#0e0e22" stroke-width="0.25" textLength="43.5" lengthAdjust="spacingAndGlyphs" >FL4 B220 APC</text>
<text transform="translate(410.00,260.7) scale(0.88,1)" font-size="6.0" font-weight="bold" text-anchor="end" fill="#0e0e22" stroke="#0e0e22" stroke-width="0.3">10</text>
<text x="410.2" y="257.9" font-size="5.9" font-weight="bold" font-style="normal" text-anchor="start" fill="#0e0e22" stroke="#0e0e22" stroke-width="0.3" >0</text>
<line x1="407.80" y1="250.30" x2="407.80" y2="252.30" stroke="#0e0e22" stroke-width="0.8" />
<text transform="translate(403.00,253.80) rotate(-90) scale(0.82,1)" font-size="5.8" font-weight="bold" text-anchor="start" fill="#0e0e22" stroke="#0e0e22" stroke-width="0.33">10</text>
<text transform="translate(400.90,248.80) rotate(-90) scale(1,1)" font-size="5.6" font-weight="bold" text-anchor="start" fill="#0e0e22" stroke="#0e0e22" stroke-width="0.3">0</text>
<line x1="405.80" y1="250.30" x2="407.80" y2="250.30" stroke="#0e0e22" stroke-width="0.8" />
<text transform="translate(433.77,260.7) scale(0.88,1)" font-size="6.0" font-weight="bold" text-anchor="end" fill="#0e0e22" stroke="#0e0e22" stroke-width="0.3">10</text>
<text x="433.97499999999997" y="257.9" font-size="5.9" font-weight="bold" font-style="normal" text-anchor="start" fill="#0e0e22" stroke="#0e0e22" stroke-width="0.3" >1</text>
<line x1="431.57" y1="250.30" x2="431.57" y2="252.30" stroke="#0e0e22" stroke-width="0.8" />
<text transform="translate(403.00,233.78) rotate(-90) scale(0.82,1)" font-size="5.8" font-weight="bold" text-anchor="start" fill="#0e0e22" stroke="#0e0e22" stroke-width="0.33">10</text>
<text transform="translate(400.90,228.78) rotate(-90) scale(1,1)" font-size="5.6" font-weight="bold" text-anchor="start" fill="#0e0e22" stroke="#0e0e22" stroke-width="0.3">1</text>
<line x1="405.80" y1="230.28" x2="407.80" y2="230.28" stroke="#0e0e22" stroke-width="0.8" />
<text transform="translate(457.55,260.7) scale(0.88,1)" font-size="6.0" font-weight="bold" text-anchor="end" fill="#0e0e22" stroke="#0e0e22" stroke-width="0.3">10</text>
<text x="457.75" y="257.9" font-size="5.9" font-weight="bold" font-style="normal" text-anchor="start" fill="#0e0e22" stroke="#0e0e22" stroke-width="0.3" >2</text>
<line x1="455.35" y1="250.30" x2="455.35" y2="252.30" stroke="#0e0e22" stroke-width="0.8" />
<text transform="translate(403.00,213.75) rotate(-90) scale(0.82,1)" font-size="5.8" font-weight="bold" text-anchor="start" fill="#0e0e22" stroke="#0e0e22" stroke-width="0.33">10</text>
<text transform="translate(400.90,208.75) rotate(-90) scale(1,1)" font-size="5.6" font-weight="bold" text-anchor="start" fill="#0e0e22" stroke="#0e0e22" stroke-width="0.3">2</text>
<line x1="405.80" y1="210.25" x2="407.80" y2="210.25" stroke="#0e0e22" stroke-width="0.8" />
<text transform="translate(481.32,260.7) scale(0.88,1)" font-size="6.0" font-weight="bold" text-anchor="end" fill="#0e0e22" stroke="#0e0e22" stroke-width="0.3">10</text>
<text x="481.525" y="257.9" font-size="5.9" font-weight="bold" font-style="normal" text-anchor="start" fill="#0e0e22" stroke="#0e0e22" stroke-width="0.3" >3</text>
<line x1="479.12" y1="250.30" x2="479.12" y2="252.30" stroke="#0e0e22" stroke-width="0.8" />
<text transform="translate(403.00,193.72) rotate(-90) scale(0.82,1)" font-size="5.8" font-weight="bold" text-anchor="start" fill="#0e0e22" stroke="#0e0e22" stroke-width="0.33">10</text>
<text transform="translate(400.90,188.72) rotate(-90) scale(1,1)" font-size="5.6" font-weight="bold" text-anchor="start" fill="#0e0e22" stroke="#0e0e22" stroke-width="0.3">3</text>
<line x1="405.80" y1="190.22" x2="407.80" y2="190.22" stroke="#0e0e22" stroke-width="0.8" />
<text transform="translate(505.10,260.7) scale(0.88,1)" font-size="6.0" font-weight="bold" text-anchor="end" fill="#0e0e22" stroke="#0e0e22" stroke-width="0.3">10</text>
<text x="505.29999999999995" y="257.9" font-size="5.9" font-weight="bold" font-style="normal" text-anchor="start" fill="#0e0e22" stroke="#0e0e22" stroke-width="0.3" >4</text>
<line x1="502.90" y1="250.30" x2="502.90" y2="252.30" stroke="#0e0e22" stroke-width="0.8" />
<text transform="translate(403.00,173.70) rotate(-90) scale(0.82,1)" font-size="5.8" font-weight="bold" text-anchor="start" fill="#0e0e22" stroke="#0e0e22" stroke-width="0.33">10</text>
<text transform="translate(400.90,168.70) rotate(-90) scale(1,1)" font-size="5.6" font-weight="bold" text-anchor="start" fill="#0e0e22" stroke="#0e0e22" stroke-width="0.3">4</text>
<line x1="405.80" y1="170.20" x2="407.80" y2="170.20" stroke="#0e0e22" stroke-width="0.8" />
<line x1="414.96" y1="250.30" x2="414.96" y2="251.60" stroke="#0e0e22" stroke-width="0.6" />
<line x1="406.50" y1="244.27" x2="407.80" y2="244.27" stroke="#0e0e22" stroke-width="0.6" />
<line x1="419.14" y1="250.30" x2="419.14" y2="251.60" stroke="#0e0e22" stroke-width="0.6" />
<line x1="406.50" y1="240.75" x2="407.80" y2="240.75" stroke="#0e0e22" stroke-width="0.6" />
<line x1="422.11" y1="250.30" x2="422.11" y2="251.60" stroke="#0e0e22" stroke-width="0.6" />
<line x1="406.50" y1="238.24" x2="407.80" y2="238.24" stroke="#0e0e22" stroke-width="0.6" />
<line x1="424.42" y1="250.30" x2="424.42" y2="251.60" stroke="#0e0e22" stroke-width="0.6" />
<line x1="406.50" y1="236.30" x2="407.80" y2="236.30" stroke="#0e0e22" stroke-width="0.6" />
<line x1="426.30" y1="250.30" x2="426.30" y2="251.60" stroke="#0e0e22" stroke-width="0.6" />
<line x1="406.50" y1="234.72" x2="407.80" y2="234.72" stroke="#0e0e22" stroke-width="0.6" />
<line x1="427.89" y1="250.30" x2="427.89" y2="251.60" stroke="#0e0e22" stroke-width="0.6" />
<line x1="406.50" y1="233.38" x2="407.80" y2="233.38" stroke="#0e0e22" stroke-width="0.6" />
<line x1="429.27" y1="250.30" x2="429.27" y2="251.60" stroke="#0e0e22" stroke-width="0.6" />
<line x1="406.50" y1="232.22" x2="407.80" y2="232.22" stroke="#0e0e22" stroke-width="0.6" />
<line x1="430.49" y1="250.30" x2="430.49" y2="251.60" stroke="#0e0e22" stroke-width="0.6" />
<line x1="406.50" y1="231.19" x2="407.80" y2="231.19" stroke="#0e0e22" stroke-width="0.6" />
<line x1="438.73" y1="250.30" x2="438.73" y2="251.60" stroke="#0e0e22" stroke-width="0.6" />
<line x1="406.50" y1="224.25" x2="407.80" y2="224.25" stroke="#0e0e22" stroke-width="0.6" />
<line x1="442.92" y1="250.30" x2="442.92" y2="251.60" stroke="#0e0e22" stroke-width="0.6" />
<line x1="406.50" y1="220.72" x2="407.80" y2="220.72" stroke="#0e0e22" stroke-width="0.6" />
<line x1="445.89" y1="250.30" x2="445.89" y2="251.60" stroke="#0e0e22" stroke-width="0.6" />
<line x1="406.50" y1="218.22" x2="407.80" y2="218.22" stroke="#0e0e22" stroke-width="0.6" />
<line x1="448.19" y1="250.30" x2="448.19" y2="251.60" stroke="#0e0e22" stroke-width="0.6" />
<line x1="406.50" y1="216.28" x2="407.80" y2="216.28" stroke="#0e0e22" stroke-width="0.6" />
<line x1="450.08" y1="250.30" x2="450.08" y2="251.60" stroke="#0e0e22" stroke-width="0.6" />
<line x1="406.50" y1="214.69" x2="407.80" y2="214.69" stroke="#0e0e22" stroke-width="0.6" />
<line x1="451.67" y1="250.30" x2="451.67" y2="251.60" stroke="#0e0e22" stroke-width="0.6" />
<line x1="406.50" y1="213.35" x2="407.80" y2="213.35" stroke="#0e0e22" stroke-width="0.6" />
<line x1="453.05" y1="250.30" x2="453.05" y2="251.60" stroke="#0e0e22" stroke-width="0.6" />
<line x1="406.50" y1="212.19" x2="407.80" y2="212.19" stroke="#0e0e22" stroke-width="0.6" />
<line x1="454.26" y1="250.30" x2="454.26" y2="251.60" stroke="#0e0e22" stroke-width="0.6" />
<line x1="406.50" y1="211.17" x2="407.80" y2="211.17" stroke="#0e0e22" stroke-width="0.6" />
<line x1="462.51" y1="250.30" x2="462.51" y2="251.60" stroke="#0e0e22" stroke-width="0.6" />
<line x1="406.50" y1="204.22" x2="407.80" y2="204.22" stroke="#0e0e22" stroke-width="0.6" />
<line x1="466.69" y1="250.30" x2="466.69" y2="251.60" stroke="#0e0e22" stroke-width="0.6" />
<line x1="406.50" y1="200.70" x2="407.80" y2="200.70" stroke="#0e0e22" stroke-width="0.6" />
<line x1="469.66" y1="250.30" x2="469.66" y2="251.60" stroke="#0e0e22" stroke-width="0.6" />
<line x1="406.50" y1="198.19" x2="407.80" y2="198.19" stroke="#0e0e22" stroke-width="0.6" />
<line x1="471.97" y1="250.30" x2="471.97" y2="251.60" stroke="#0e0e22" stroke-width="0.6" />
<line x1="406.50" y1="196.25" x2="407.80" y2="196.25" stroke="#0e0e22" stroke-width="0.6" />
<line x1="473.85" y1="250.30" x2="473.85" y2="251.60" stroke="#0e0e22" stroke-width="0.6" />
<line x1="406.50" y1="194.67" x2="407.80" y2="194.67" stroke="#0e0e22" stroke-width="0.6" />
<line x1="475.44" y1="250.30" x2="475.44" y2="251.60" stroke="#0e0e22" stroke-width="0.6" />
<line x1="406.50" y1="193.33" x2="407.80" y2="193.33" stroke="#0e0e22" stroke-width="0.6" />
<line x1="476.82" y1="250.30" x2="476.82" y2="251.60" stroke="#0e0e22" stroke-width="0.6" />
<line x1="406.50" y1="192.17" x2="407.80" y2="192.17" stroke="#0e0e22" stroke-width="0.6" />
<line x1="478.04" y1="250.30" x2="478.04" y2="251.60" stroke="#0e0e22" stroke-width="0.6" />
<line x1="406.50" y1="191.14" x2="407.80" y2="191.14" stroke="#0e0e22" stroke-width="0.6" />
<line x1="486.28" y1="250.30" x2="486.28" y2="251.60" stroke="#0e0e22" stroke-width="0.6" />
<line x1="406.50" y1="184.20" x2="407.80" y2="184.20" stroke="#0e0e22" stroke-width="0.6" />
<line x1="490.47" y1="250.30" x2="490.47" y2="251.60" stroke="#0e0e22" stroke-width="0.6" />
<line x1="406.50" y1="180.67" x2="407.80" y2="180.67" stroke="#0e0e22" stroke-width="0.6" />
<line x1="493.44" y1="250.30" x2="493.44" y2="251.60" stroke="#0e0e22" stroke-width="0.6" />
<line x1="406.50" y1="178.17" x2="407.80" y2="178.17" stroke="#0e0e22" stroke-width="0.6" />
<line x1="495.74" y1="250.30" x2="495.74" y2="251.60" stroke="#0e0e22" stroke-width="0.6" />
<line x1="406.50" y1="176.23" x2="407.80" y2="176.23" stroke="#0e0e22" stroke-width="0.6" />
<line x1="497.63" y1="250.30" x2="497.63" y2="251.60" stroke="#0e0e22" stroke-width="0.6" />
<line x1="406.50" y1="174.64" x2="407.80" y2="174.64" stroke="#0e0e22" stroke-width="0.6" />
<line x1="499.22" y1="250.30" x2="499.22" y2="251.60" stroke="#0e0e22" stroke-width="0.6" />
<line x1="406.50" y1="173.30" x2="407.80" y2="173.30" stroke="#0e0e22" stroke-width="0.6" />
<line x1="500.60" y1="250.30" x2="500.60" y2="251.60" stroke="#0e0e22" stroke-width="0.6" />
<line x1="406.50" y1="172.14" x2="407.80" y2="172.14" stroke="#0e0e22" stroke-width="0.6" />
<line x1="501.81" y1="250.30" x2="501.81" y2="251.60" stroke="#0e0e22" stroke-width="0.6" />
<line x1="406.50" y1="171.12" x2="407.80" y2="171.12" stroke="#0e0e22" stroke-width="0.6" />
<text transform="translate(265.20,231.20) rotate(-90) scale(1,1)" font-size="6.45" font-weight="bold" text-anchor="start" fill="#111" stroke="#111" stroke-width="0.3" textLength="10.5" lengthAdjust="spacingAndGlyphs">FL2</text>
<text transform="translate(265.20,213.70) rotate(-90) scale(1,1)" font-size="6.45" font-weight="bold" text-anchor="start" fill="#111" stroke="#111" stroke-width="0.3" textLength="26.4" lengthAdjust="spacingAndGlyphs">Ly5.1 PE</text>
<text transform="translate(392.90,231.50) rotate(-90) scale(1,1)" font-size="6.45" font-weight="bold" text-anchor="start" fill="#0e0e22" stroke="#0e0e22" stroke-width="0.3" textLength="10.5" lengthAdjust="spacingAndGlyphs">FL2</text>
<text transform="translate(392.90,213.80) rotate(-90) scale(1,1)" font-size="6.45" font-weight="bold" text-anchor="start" fill="#0e0e22" stroke="#0e0e22" stroke-width="0.3" textLength="26.4" lengthAdjust="spacingAndGlyphs">Ly5.1 PE</text>
</svg>
</body></html>
